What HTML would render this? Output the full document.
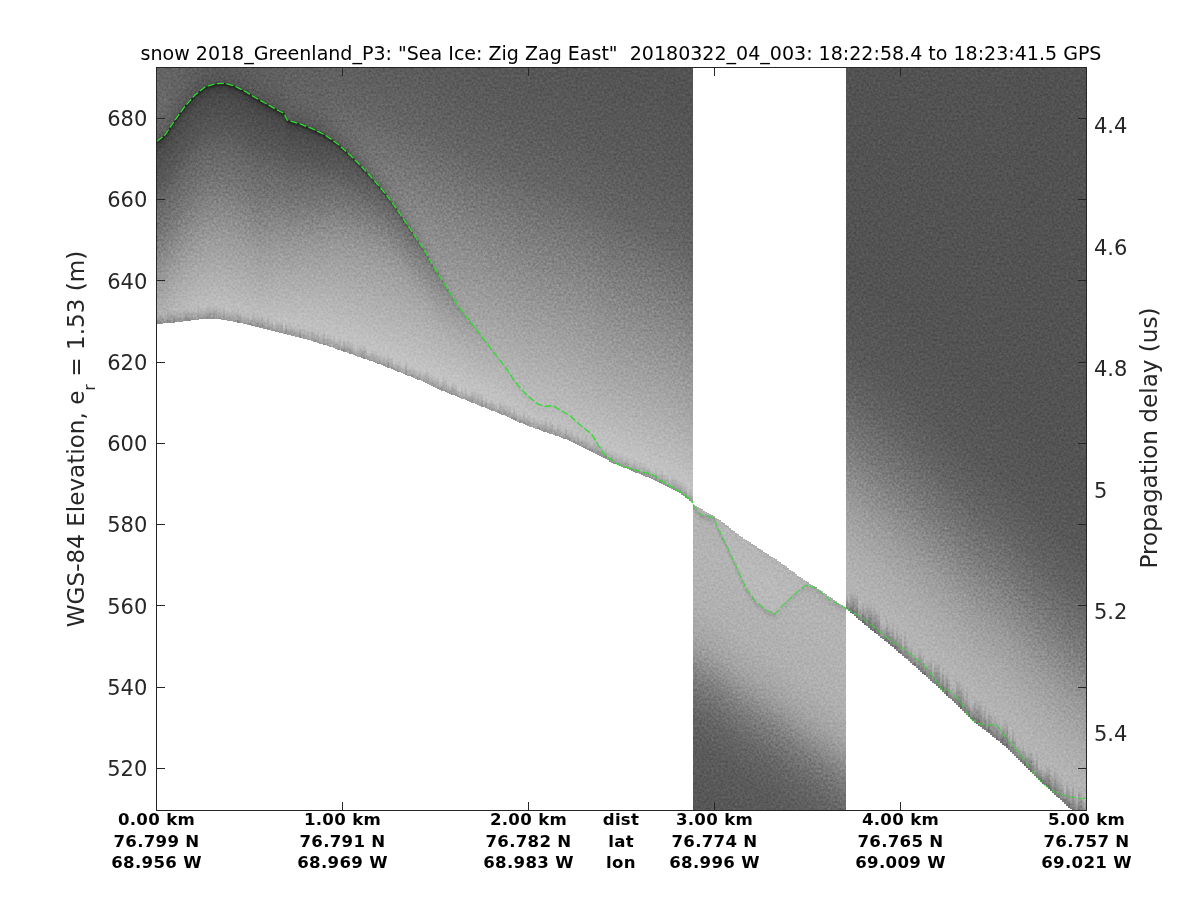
<!DOCTYPE html><html><head><meta charset="utf-8"><title>echogram</title>
<style>html,body{margin:0;padding:0;background:#fff}#p{position:relative;width:1200px;height:900px;overflow:hidden;background:#fff}#p i{position:absolute;display:block;width:2px}svg{position:absolute;left:0;top:0}text{font-family:"DejaVu Sans","Liberation Sans",sans-serif}</style></head><body><div id="p">
<i style="left:157px;top:68px;height:256px;background:linear-gradient(#636363 0.5px,#696969 24.5px,#696969 44.5px,#606060 64.5px,#595959 70.5px,#484848 72.5px,#262626 73.5px,#2c2c2c 74.5px,#373737 75.5px,#424242 77.5px,#4c4c4c 85.5px,#5a5a5a 117.5px,#6b6b6b 142.5px,#777 166.5px,#aeaeae 240.5px,#b0b0b0 245.5px,#adadad 247.5px,#9d9d9d 251.5px,#888 255.5px)"></i><i style="left:159px;top:68px;height:256px;background:linear-gradient(#636363 0.5px,#696969 26.5px,#696969 40.5px,#666 51.5px,#5d5d5d 66.5px,#5a5a5a 68.5px,#555 69.5px,#4c4c4c 70.5px,#262626 71.5px,#282828 72.5px,#3c3c3c 74.5px,#404040 75.5px,#4c4c4c 83.5px,#5b5b5b 117.5px,#696969 137.5px,#787878 166.5px,#aeaeae 239.5px,#b0b0b0 244.5px,#adadad 246.5px,#9a9a9a 251.5px,#878787 255.5px)"></i><i style="left:161px;top:68px;height:256px;background:linear-gradient(#636363 0.5px,#696969 36.5px,#666 49.5px,#5e5e5e 63.5px,#585858 67.5px,#505050 68.5px,#282828 69.5px,#262626 70.5px,#3f3f3f 73.5px,#454545 76.5px,#4c4c4c 82.5px,#5a5a5a 114.5px,#686868 134.5px,#787878 165.5px,#a6a6a6 225.5px,#b0b0b0 241.5px,#aeaeae 244.5px,#a8a8a8 247.5px,#919191 255.5px)"></i><i style="left:163px;top:68px;height:255px;background:linear-gradient(#636363 0.5px,#686868 22.5px,#686868 39.5px,#5e5e5e 61.5px,#5b5b5b 64.5px,#545454 66.5px,#4a4a4a 67.5px,#262626 68.5px,#2a2a2a 69.5px,#3c3c3c 71.5px,#414141 72.5px,#4c4c4c 80.5px,#5b5b5b 114.5px,#696969 134.5px,#787878 163.5px,#afafaf 238.5px,#b2b2b2 247.5px,#aaa 249.5px,#898989 254.5px)"></i><i style="left:165px;top:68px;height:255px;background:linear-gradient(#636363 0.5px,#686868 32.5px,#666 43.5px,#5d5d5d 60.5px,#5b5b5b 62.5px,#585858 63.5px,#515151 64.5px,#292929 65.5px,#262626 66.5px,#2c2c2c 67.5px,#373737 68.5px,#3e3e3e 69.5px,#434343 71.5px,#4c4c4c 78.5px,#5b5b5b 112.5px,#696969 132.5px,#787878 161.5px,#9e9e9e 211.5px,#b0b0b0 238.5px,#b2b2b2 245.5px,#a7a7a7 249.5px,#929292 254.5px)"></i><i style="left:167px;top:68px;height:255px;background:linear-gradient(#636363 0.5px,#676767 32.5px,#5e5e5e 55.5px,#585858 60.5px,#515151 61.5px,#292929 62.5px,#262626 63.5px,#2c2c2c 64.5px,#373737 65.5px,#3e3e3e 66.5px,#434343 68.5px,#4c4c4c 75.5px,#5a5a5a 108.5px,#676767 126.5px,#777 157.5px,#9f9f9f 210.5px,#b0b0b0 236.5px,#afafaf 241.5px,#9f9f9f 248.5px,#8d8d8d 254.5px)"></i><i style="left:169px;top:68px;height:255px;background:linear-gradient(#636363 0.5px,#666 31.5px,#636363 42.5px,#5a5a5a 56.5px,#515151 58.5px,#292929 59.5px,#262626 60.5px,#2c2c2c 61.5px,#373737 62.5px,#3e3e3e 63.5px,#434343 65.5px,#4b4b4b 71.5px,#5a5a5a 105.5px,#686868 125.5px,#787878 156.5px,#a0a0a0 209.5px,#b3b3b3 239.5px,#b2b2b2 241.5px,#a7a7a7 246.5px,#8d8d8d 254.5px)"></i><i style="left:171px;top:68px;height:255px;background:linear-gradient(#626262 0.5px,#656565 30.5px,#626262 40.5px,#5a5a5a 53.5px,#575757 54.5px,#505050 55.5px,#292929 56.5px,#252525 57.5px,#3e3e3e 60.5px,#434343 62.5px,#4b4b4b 68.5px,#5a5a5a 102.5px,#686868 122.5px,#767676 150.5px,#a1a1a1 208.5px,#b3b3b3 237.5px,#b5b5b5 241.5px,#b1b1b1 244.5px,#949494 254.5px)"></i><i style="left:173px;top:68px;height:255px;background:linear-gradient(#626262 0.5px,#646464 28.5px,#616161 38.5px,#595959 50.5px,#575757 51.5px,#505050 52.5px,#292929 53.5px,#252525 54.5px,#3e3e3e 57.5px,#434343 59.5px,#4b4b4b 65.5px,#595959 98.5px,#676767 118.5px,#777 149.5px,#9f9f9f 203.5px,#b6b6b6 241.5px,#b2b2b2 243.5px,#a5a5a5 247.5px,#868686 254.5px)"></i><i style="left:175px;top:68px;height:254px;background:linear-gradient(#626262 0.5px,#636363 27.5px,#595959 47.5px,#575757 48.5px,#515151 49.5px,#474747 50.5px,#252525 51.5px,#2a2a2a 52.5px,#3d3d3d 54.5px,#414141 55.5px,#4b4b4b 63.5px,#5a5a5a 97.5px,#686868 117.5px,#767676 145.5px,#a2a2a2 205.5px,#b4b4b4 235.5px,#b7b7b7 241.5px,#b5b5b5 243.5px,#a8a8a8 247.5px,#8d8d8d 253.5px)"></i><i style="left:177px;top:68px;height:254px;background:linear-gradient(#626262 0.5px,#626262 26.5px,#595959 44.5px,#525252 46.5px,#494949 47.5px,#252525 48.5px,#282828 49.5px,#3b3b3b 51.5px,#404040 52.5px,#4b4b4b 60.5px,#5a5a5a 94.5px,#676767 113.5px,#777 144.5px,#a2a2a2 203.5px,#b5b5b5 235.5px,#b7b7b7 241.5px,#b4b4b4 243.5px,#999 253.5px)"></i><i style="left:179px;top:68px;height:254px;background:linear-gradient(#616161 0.5px,#626262 21.5px,#595959 41.5px,#545454 43.5px,#4c4c4c 44.5px,#262626 45.5px,#262626 46.5px,#393939 48.5px,#3f3f3f 49.5px,#4b4b4b 58.5px,#595959 90.5px,#686868 112.5px,#767676 140.5px,#a0a0a0 198.5px,#b7b7b7 237.5px,#b8b8b8 239.5px,#b1b1b1 243.5px,#a5a5a5 247.5px,#8e8e8e 253.5px)"></i><i style="left:181px;top:68px;height:254px;background:linear-gradient(#616161 0.5px,#616161 20.5px,#585858 39.5px,#555 40.5px,#4e4e4e 41.5px,#282828 42.5px,#252525 43.5px,#3e3e3e 46.5px,#444 49.5px,#4b4b4b 55.5px,#585858 86.5px,#676767 108.5px,#757575 136.5px,#a0a0a0 196.5px,#b9b9b9 239.5px,#b8b8b8 244.5px,#a9a9a9 249.5px,#999 253.5px)"></i><i style="left:183px;top:68px;height:253px;background:linear-gradient(#616161 0.5px,#606060 19.5px,#585858 36.5px,#565656 37.5px,#505050 38.5px,#464646 39.5px,#252525 40.5px,#2a2a2a 41.5px,#3c3c3c 43.5px,#404040 44.5px,#4a4a4a 51.5px,#595959 85.5px,#666 104.5px,#767676 135.5px,#a0a0a0 194.5px,#b6b6b6 232.5px,#b8b8b8 239.5px,#adadad 244.5px,#939393 252.5px)"></i><i style="left:185px;top:68px;height:253px;background:linear-gradient(#606060 0.5px,#5e5e5e 22.5px,#575757 34.5px,#535353 35.5px,#4b4b4b 36.5px,#262626 37.5px,#262626 38.5px,#393939 40.5px,#3e3e3e 41.5px,#4a4a4a 49.5px,#595959 83.5px,#656565 100.5px,#767676 133.5px,#a1a1a1 194.5px,#bababa 238.5px,#b6b6b6 241.5px,#adadad 244.5px,#8b8b8b 252.5px)"></i><i style="left:187px;top:68px;height:253px;background:linear-gradient(#606060 0.5px,#5e5e5e 18.5px,#565656 32.5px,#515151 33.5px,#484848 34.5px,#252525 35.5px,#272727 36.5px,#3a3a3a 38.5px,#3f3f3f 39.5px,#4a4a4a 47.5px,#595959 81.5px,#656565 98.5px,#767676 131.5px,#a2a2a2 194.5px,#bababa 237.5px,#bababa 239.5px,#b3b3b3 242.5px,#989898 249.5px,#8a8a8a 252.5px)"></i><i style="left:189px;top:68px;height:253px;background:linear-gradient(#5f5f5f 0.5px,#5d5d5d 18.5px,#575757 29.5px,#555 30.5px,#4f4f4f 31.5px,#454545 32.5px,#252525 33.5px,#2a2a2a 34.5px,#3c3c3c 36.5px,#404040 37.5px,#4a4a4a 45.5px,#595959 79.5px,#656565 96.5px,#737373 124.5px,#9e9e9e 186.5px,#bbb 238.5px,#bcbcbc 241.5px,#b3b3b3 244.5px,#a6a6a6 247.5px,#8b8b8b 252.5px)"></i><i style="left:191px;top:68px;height:252px;background:linear-gradient(#5f5f5f 0.5px,#5d5d5d 14.5px,#565656 27.5px,#535353 28.5px,#4c4c4c 29.5px,#272727 30.5px,#252525 31.5px,#3d3d3d 34.5px,#424242 36.5px,#4a4a4a 43.5px,#595959 77.5px,#656565 94.5px,#747474 124.5px,#9f9f9f 186.5px,#bcbcbc 239.5px,#bbb 241.5px,#b8b8b8 242.5px,#a3a3a3 247.5px,#8d8d8d 251.5px)"></i><i style="left:193px;top:68px;height:252px;background:linear-gradient(#5e5e5e 0.5px,#5d5d5d 10.5px,#575757 24.5px,#525252 26.5px,#4a4a4a 27.5px,#262626 28.5px,#262626 29.5px,#383838 31.5px,#3e3e3e 32.5px,#454545 36.5px,#4a4a4a 41.5px,#595959 75.5px,#656565 92.5px,#757575 124.5px,#9e9e9e 183.5px,#b5b5b5 224.5px,#bbb 237.5px,#b1b1b1 243.5px,#9b9b9b 251.5px)"></i><i style="left:195px;top:68px;height:252px;background:linear-gradient(#5d5d5d 0.5px,#5a5a5a 16.5px,#555 23.5px,#525252 24.5px,#4a4a4a 25.5px,#262626 26.5px,#252525 27.5px,#383838 29.5px,#3e3e3e 30.5px,#4a4a4a 39.5px,#575757 70.5px,#666 92.5px,#757575 122.5px,#9d9d9d 180.5px,#b5b5b5 223.5px,#bdbdbd 242.5px,#b9b9b9 244.5px,#adadad 247.5px,#999 251.5px)"></i><i style="left:197px;top:68px;height:252px;background:linear-gradient(#5d5d5d 0.5px,#5c5c5c 8.5px,#565656 21.5px,#4e4e4e 23.5px,#444 24.5px,#242424 25.5px,#2a2a2a 26.5px,#3c3c3c 28.5px,#414141 30.5px,#494949 36.5px,#585858 70.5px,#656565 89.5px,#747474 119.5px,#9d9d9d 179.5px,#bbb 234.5px,#bababa 237.5px,#b2b2b2 241.5px,#939393 251.5px)"></i><i style="left:199px;top:68px;height:251px;background:linear-gradient(#5c5c5c 0.5px,#5b5b5b 9.5px,#575757 18.5px,#545454 20.5px,#505050 21.5px,#484848 22.5px,#252525 23.5px,#262626 24.5px,#393939 26.5px,#3e3e3e 27.5px,#494949 35.5px,#575757 67.5px,#646464 86.5px,#737373 116.5px,#9a9a9a 173.5px,#b7b7b7 225.5px,#bdbdbd 238.5px,#b7b7b7 241.5px,#a8a8a8 246.5px,#999 250.5px)"></i><i style="left:201px;top:68px;height:251px;background:linear-gradient(#5c5c5c 0.5px,#595959 12.5px,#555 18.5px,#525252 19.5px,#4b4b4b 20.5px,#272727 21.5px,#242424 22.5px,#3d3d3d 25.5px,#494949 33.5px,#575757 66.5px,#666 88.5px,#757575 118.5px,#9a9a9a 172.5px,#bababa 230.5px,#bdbdbd 239.5px,#b3b3b3 243.5px,#979797 250.5px)"></i><i style="left:203px;top:68px;height:251px;background:linear-gradient(#5b5b5b 0.5px,#585858 12.5px,#535353 17.5px,#4e4e4e 18.5px,#454545 19.5px,#242424 20.5px,#282828 21.5px,#3a3a3a 23.5px,#3f3f3f 24.5px,#494949 32.5px,#585858 66.5px,#656565 85.5px,#747474 115.5px,#9c9c9c 174.5px,#bdbdbd 236.5px,#bebebe 240.5px,#b1b1b1 244.5px,#949494 250.5px)"></i><i style="left:205px;top:68px;height:251px;background:linear-gradient(#5b5b5b 0.5px,#595959 8.5px,#535353 16.5px,#444 18.5px,#242424 19.5px,#292929 20.5px,#3b3b3b 22.5px,#3f3f3f 23.5px,#494949 31.5px,#585858 65.5px,#656565 84.5px,#747474 114.5px,#9d9d9d 175.5px,#bdbdbd 235.5px,#bdbdbd 238.5px,#b9b9b9 240.5px,#aaa 244.5px,#8d8d8d 250.5px)"></i><i style="left:207px;top:68px;height:251px;background:linear-gradient(#5a5a5a 0.5px,#595959 7.5px,#545454 15.5px,#505050 16.5px,#474747 17.5px,#252525 18.5px,#262626 19.5px,#393939 21.5px,#3e3e3e 22.5px,#494949 30.5px,#575757 63.5px,#666 85.5px,#737373 112.5px,#9c9c9c 173.5px,#bebebe 237.5px,#acacac 243.5px,#8c8c8c 250.5px)"></i><i style="left:209px;top:68px;height:251px;background:linear-gradient(#5a5a5a 0.5px,#565656 12.5px,#525252 15.5px,#4b4b4b 16.5px,#272727 17.5px,#242424 18.5px,#2b2b2b 19.5px,#363636 20.5px,#3c3c3c 21.5px,#444 25.5px,#494949 30.5px,#585858 64.5px,#656565 83.5px,#747474 113.5px,#9e9e9e 176.5px,#bdbdbd 235.5px,#bbb 237.5px,#acacac 242.5px,#8a8a8a 250.5px)"></i><i style="left:211px;top:68px;height:251px;background:linear-gradient(#5a5a5a 0.5px,#575757 10.5px,#535353 14.5px,#4e4e4e 15.5px,#444 16.5px,#242424 17.5px,#282828 18.5px,#3b3b3b 20.5px,#3f3f3f 21.5px,#494949 29.5px,#575757 62.5px,#666 84.5px,#737373 111.5px,#9c9c9c 172.5px,#bababa 228.5px,#bebebe 237.5px,#b1b1b1 243.5px,#9a9a9a 250.5px)"></i><i style="left:213px;top:68px;height:251px;background:linear-gradient(#5a5a5a 0.5px,#545454 13.5px,#505050 14.5px,#484848 15.5px,#252525 16.5px,#252525 17.5px,#383838 19.5px,#3d3d3d 20.5px,#484848 27.5px,#585858 63.5px,#656565 82.5px,#747474 112.5px,#9b9b9b 170.5px,#bdbdbd 234.5px,#bdbdbd 236.5px,#b3b3b3 240.5px,#a5a5a5 244.5px,#8b8b8b 250.5px)"></i><i style="left:215px;top:68px;height:251px;background:linear-gradient(#595959 0.5px,#585858 6.5px,#535353 13.5px,#444 15.5px,#242424 16.5px,#282828 17.5px,#3a3a3a 19.5px,#3f3f3f 20.5px,#494949 28.5px,#575757 61.5px,#646464 80.5px,#747474 112.5px,#9b9b9b 170.5px,#bdbdbd 234.5px,#bdbdbd 236.5px,#b2b2b2 241.5px,#939393 250.5px)"></i><i style="left:217px;top:68px;height:251px;background:linear-gradient(#595959 0.5px,#565656 10.5px,#525252 13.5px,#4d4d4d 14.5px,#434343 15.5px,#242424 16.5px,#292929 17.5px,#3b3b3b 19.5px,#3f3f3f 20.5px,#494949 28.5px,#575757 61.5px,#646464 80.5px,#737373 110.5px,#9b9b9b 170.5px,#b9b9b9 226.5px,#bebebe 236.5px,#bdbdbd 238.5px,#b2b2b2 243.5px,#9b9b9b 250.5px)"></i><i style="left:219px;top:68px;height:251px;background:linear-gradient(#595959 0.5px,#565656 10.5px,#525252 13.5px,#4c4c4c 14.5px,#424242 15.5px,#242424 16.5px,#2a2a2a 17.5px,#3c3c3c 19.5px,#414141 21.5px,#494949 28.5px,#575757 61.5px,#646464 80.5px,#737373 110.5px,#9b9b9b 170.5px,#bdbdbd 235.5px,#bdbdbd 237.5px,#b7b7b7 240.5px,#a8a8a8 245.5px,#959595 250.5px)"></i><i style="left:221px;top:68px;height:252px;background:linear-gradient(#595959 0.5px,#565656 10.5px,#515151 13.5px,#4b4b4b 14.5px,#272727 15.5px,#242424 16.5px,#3c3c3c 19.5px,#414141 21.5px,#494949 28.5px,#575757 61.5px,#676767 85.5px,#737373 110.5px,#989898 165.5px,#adadad 203.5px,#bebebe 237.5px,#bebebe 241.5px,#b1b1b1 246.5px,#9c9c9c 251.5px)"></i><i style="left:223px;top:68px;height:252px;background:linear-gradient(#595959 0.5px,#555 11.5px,#515151 13.5px,#4a4a4a 14.5px,#262626 15.5px,#242424 16.5px,#363636 18.5px,#3c3c3c 19.5px,#414141 21.5px,#494949 28.5px,#565656 59.5px,#676767 85.5px,#737373 110.5px,#9b9b9b 170.5px,#bdbdbd 235.5px,#bcbcbc 238.5px,#b0b0b0 242.5px,#8b8b8b 251.5px)"></i><i style="left:225px;top:68px;height:252px;background:linear-gradient(#595959 0.5px,#565656 10.5px,#525252 13.5px,#434343 15.5px,#242424 16.5px,#292929 17.5px,#343434 18.5px,#3b3b3b 19.5px,#3f3f3f 20.5px,#494949 28.5px,#575757 61.5px,#646464 80.5px,#747474 112.5px,#9c9c9c 172.5px,#bebebe 237.5px,#bfbfbf 243.5px,#bcbcbc 244.5px,#adadad 247.5px,#929292 251.5px)"></i><i style="left:227px;top:68px;height:253px;background:linear-gradient(#595959 0.5px,#545454 13.5px,#494949 15.5px,#252525 16.5px,#252525 17.5px,#373737 19.5px,#3d3d3d 20.5px,#444 24.5px,#494949 29.5px,#565656 60.5px,#666 84.5px,#737373 111.5px,#9a9a9a 169.5px,#bebebe 238.5px,#bebebe 241.5px,#b8b8b8 244.5px,#9a9a9a 252.5px)"></i><i style="left:229px;top:68px;height:253px;background:linear-gradient(#5a5a5a 0.5px,#535353 14.5px,#4e4e4e 15.5px,#454545 16.5px,#242424 17.5px,#272727 18.5px,#3a3a3a 20.5px,#3e3e3e 21.5px,#484848 28.5px,#575757 62.5px,#646464 81.5px,#747474 113.5px,#9c9c9c 173.5px,#bebebe 238.5px,#bfbfbf 242.5px,#bdbdbd 243.5px,#b1b1b1 246.5px,#909090 252.5px)"></i><i style="left:231px;top:68px;height:253px;background:linear-gradient(#5a5a5a 0.5px,#545454 14.5px,#515151 15.5px,#4a4a4a 16.5px,#272727 17.5px,#242424 18.5px,#2b2b2b 19.5px,#363636 20.5px,#3c3c3c 21.5px,#414141 23.5px,#494949 30.5px,#565656 61.5px,#676767 87.5px,#737373 112.5px,#959595 162.5px,#ababab 201.5px,#bdbdbd 239.5px,#b4b4b4 244.5px,#9f9f9f 252.5px)"></i><i style="left:233px;top:68px;height:254px;background:linear-gradient(#5a5a5a 0.5px,#585858 8.5px,#535353 15.5px,#4f4f4f 16.5px,#474747 17.5px,#252525 18.5px,#262626 19.5px,#393939 21.5px,#3e3e3e 22.5px,#484848 29.5px,#585858 65.5px,#656565 84.5px,#747474 114.5px,#999 169.5px,#b0b0b0 211.5px,#bebebe 241.5px,#b3b3b3 246.5px,#9d9d9d 253.5px)"></i><i style="left:235px;top:68px;height:254px;background:linear-gradient(#5a5a5a 0.5px,#585858 9.5px,#535353 16.5px,#4e4e4e 17.5px,#454545 18.5px,#242424 19.5px,#272727 20.5px,#3a3a3a 22.5px,#3e3e3e 23.5px,#494949 31.5px,#575757 64.5px,#646464 83.5px,#747474 115.5px,#9b9b9b 173.5px,#b9b9b9 229.5px,#bebebe 239.5px,#bdbdbd 241.5px,#b6b6b6 244.5px,#999 253.5px)"></i><i style="left:237px;top:68px;height:255px;background:linear-gradient(#5b5b5b 0.5px,#585858 10.5px,#535353 17.5px,#4e4e4e 18.5px,#454545 19.5px,#242424 20.5px,#272727 21.5px,#3a3a3a 23.5px,#3e3e3e 24.5px,#494949 32.5px,#575757 65.5px,#646464 84.5px,#737373 114.5px,#9a9a9a 172.5px,#bdbdbd 238.5px,#bcbcbc 240.5px,#b2b2b2 244.5px,#979797 251.5px,#898989 254.5px)"></i><i style="left:239px;top:68px;height:255px;background:linear-gradient(#5b5b5b 0.5px,#575757 14.5px,#535353 18.5px,#4e4e4e 19.5px,#454545 20.5px,#242424 21.5px,#282828 22.5px,#3a3a3a 24.5px,#3f3f3f 25.5px,#494949 33.5px,#575757 66.5px,#676767 90.5px,#737373 115.5px,#9d9d9d 178.5px,#bebebe 241.5px,#bdbdbd 243.5px,#b7b7b7 245.5px,#ababab 248.5px,#8b8b8b 254.5px)"></i><i style="left:241px;top:68px;height:255px;background:linear-gradient(#5b5b5b 0.5px,#585858 13.5px,#535353 19.5px,#4e4e4e 20.5px,#454545 21.5px,#242424 22.5px,#282828 23.5px,#3a3a3a 25.5px,#3f3f3f 26.5px,#494949 34.5px,#595959 70.5px,#666 89.5px,#727272 114.5px,#999 172.5px,#acacac 206.5px,#bebebe 244.5px,#b6b6b6 248.5px,#9f9f9f 254.5px)"></i><i style="left:243px;top:68px;height:256px;background:linear-gradient(#5c5c5c 0.5px,#585858 14.5px,#535353 20.5px,#4e4e4e 21.5px,#454545 22.5px,#242424 23.5px,#282828 24.5px,#3a3a3a 26.5px,#3f3f3f 27.5px,#494949 35.5px,#585858 69.5px,#656565 88.5px,#757575 120.5px,#9b9b9b 176.5px,#b2b2b2 218.5px,#bebebe 242.5px,#bcbcbc 244.5px,#b3b3b3 248.5px,#9d9d9d 255.5px)"></i><i style="left:245px;top:68px;height:256px;background:linear-gradient(#5c5c5c 0.5px,#595959 13.5px,#545454 21.5px,#4f4f4f 22.5px,#464646 23.5px,#242424 24.5px,#272727 25.5px,#3a3a3a 27.5px,#3e3e3e 28.5px,#494949 36.5px,#585858 70.5px,#656565 89.5px,#757575 121.5px,#989898 172.5px,#bcbcbc 238.5px,#bebebe 243.5px,#bcbcbc 247.5px,#adadad 251.5px,#989898 255.5px)"></i><i style="left:247px;top:68px;height:257px;background:linear-gradient(#5c5c5c 0.5px,#595959 15.5px,#545454 22.5px,#515151 23.5px,#494949 24.5px,#252525 25.5px,#252525 26.5px,#383838 28.5px,#3e3e3e 29.5px,#494949 37.5px,#575757 70.5px,#666 92.5px,#757575 122.5px,#9d9d9d 181.5px,#b7b7b7 229.5px,#bdbdbd 244.5px,#b4b4b4 248.5px,#999 256.5px)"></i><i style="left:249px;top:68px;height:257px;background:linear-gradient(#5d5d5d 0.5px,#555 23.5px,#525252 24.5px,#4b4b4b 25.5px,#272727 26.5px,#242424 27.5px,#3d3d3d 30.5px,#494949 38.5px,#575757 71.5px,#666 93.5px,#757575 123.5px,#9d9d9d 182.5px,#bdbdbd 242.5px,#bebebe 248.5px,#bbb 249.5px,#b2b2b2 251.5px,#8f8f8f 256.5px)"></i><i style="left:251px;top:68px;height:258px;background:linear-gradient(#5d5d5d 0.5px,#595959 18.5px,#535353 25.5px,#444 27.5px,#242424 28.5px,#292929 29.5px,#343434 30.5px,#3b3b3b 31.5px,#3f3f3f 32.5px,#4a4a4a 41.5px,#575757 72.5px,#676767 96.5px,#737373 121.5px,#9d9d9d 183.5px,#bdbdbd 243.5px,#bdbdbd 247.5px,#b6b6b6 249.5px,#9c9c9c 254.5px,#898989 257.5px)"></i><i style="left:253px;top:68px;height:258px;background:linear-gradient(#5d5d5d 0.5px,#5b5b5b 14.5px,#565656 25.5px,#4f4f4f 27.5px,#464646 28.5px,#242424 29.5px,#272727 30.5px,#3a3a3a 32.5px,#3f3f3f 33.5px,#494949 41.5px,#575757 73.5px,#686868 99.5px,#747474 124.5px,#9d9d9d 184.5px,#bbb 239.5px,#bcbcbc 243.5px,#b7b7b7 246.5px,#aaa 251.5px,#969696 257.5px)"></i><i style="left:255px;top:68px;height:259px;background:linear-gradient(#5e5e5e 0.5px,#5c5c5c 12.5px,#555 27.5px,#515151 28.5px,#484848 29.5px,#252525 30.5px,#262626 31.5px,#393939 33.5px,#3e3e3e 34.5px,#494949 42.5px,#585858 76.5px,#646464 93.5px,#747474 125.5px,#9d9d9d 185.5px,#bdbdbd 244.5px,#bcbcbc 247.5px,#b4b4b4 250.5px,#929292 258.5px)"></i><i style="left:257px;top:68px;height:259px;background:linear-gradient(#5e5e5e 0.5px,#5b5b5b 17.5px,#555 28.5px,#515151 29.5px,#494949 30.5px,#262626 31.5px,#252525 32.5px,#383838 34.5px,#3e3e3e 35.5px,#494949 43.5px,#585858 77.5px,#646464 94.5px,#747474 126.5px,#9f9f9f 189.5px,#bdbdbd 245.5px,#b5b5b5 249.5px,#ababab 252.5px,#929292 258.5px)"></i><i style="left:259px;top:68px;height:260px;background:linear-gradient(#5e5e5e 0.5px,#5c5c5c 15.5px,#555 29.5px,#525252 30.5px,#4a4a4a 31.5px,#262626 32.5px,#252525 33.5px,#373737 35.5px,#3d3d3d 36.5px,#424242 38.5px,#494949 44.5px,#585858 78.5px,#646464 95.5px,#747474 127.5px,#9c9c9c 185.5px,#bdbdbd 246.5px,#bababa 248.5px,#aeaeae 252.5px,#8f8f8f 259.5px)"></i><i style="left:261px;top:68px;height:260px;background:linear-gradient(#5e5e5e 0.5px,#5c5c5c 17.5px,#575757 29.5px,#525252 31.5px,#4b4b4b 32.5px,#272727 33.5px,#252525 34.5px,#2c2c2c 35.5px,#373737 36.5px,#3d3d3d 37.5px,#424242 39.5px,#4a4a4a 46.5px,#595959 80.5px,#656565 97.5px,#737373 125.5px,#9b9b9b 183.5px,#bcbcbc 243.5px,#b6b6b6 248.5px,#a2a2a2 255.5px,#949494 259.5px)"></i><i style="left:263px;top:68px;height:261px;background:linear-gradient(#5f5f5f 0.5px,#5c5c5c 19.5px,#565656 31.5px,#535353 32.5px,#4c4c4c 33.5px,#272727 34.5px,#242424 35.5px,#3d3d3d 38.5px,#424242 40.5px,#4a4a4a 47.5px,#585858 79.5px,#666 99.5px,#747474 127.5px,#9d9d9d 186.5px,#bdbdbd 245.5px,#bebebe 248.5px,#b8b8b8 251.5px,#a3a3a3 256.5px,#8e8e8e 260.5px)"></i><i style="left:265px;top:68px;height:261px;background:linear-gradient(#5f5f5f 0.5px,#5c5c5c 21.5px,#565656 32.5px,#545454 33.5px,#4e4e4e 34.5px,#444 35.5px,#242424 36.5px,#2a2a2a 37.5px,#353535 38.5px,#404040 40.5px,#4a4a4a 48.5px,#575757 78.5px,#676767 101.5px,#747474 127.5px,#9c9c9c 184.5px,#b5b5b5 229.5px,#bebebe 247.5px,#bebebe 251.5px,#adadad 256.5px,#999 260.5px)"></i><i style="left:267px;top:68px;height:262px;background:linear-gradient(#5f5f5f 0.5px,#5c5c5c 23.5px,#565656 33.5px,#4f4f4f 35.5px,#464646 36.5px,#242424 37.5px,#292929 38.5px,#3b3b3b 40.5px,#404040 41.5px,#4a4a4a 49.5px,#585858 80.5px,#656565 98.5px,#747474 127.5px,#9b9b9b 182.5px,#bdbdbd 245.5px,#bdbdbd 246.5px,#b0b0b0 252.5px,#939393 261.5px)"></i><i style="left:269px;top:68px;height:262px;background:linear-gradient(#5f5f5f 0.5px,#5d5d5d 22.5px,#575757 34.5px,#505050 36.5px,#474747 37.5px,#252525 38.5px,#272727 39.5px,#3a3a3a 41.5px,#3f3f3f 42.5px,#4a4a4a 50.5px,#575757 79.5px,#666 100.5px,#747474 127.5px,#8d8d8d 161.5px,#aaa 208.5px,#bfbfbf 249.5px,#b5b5b5 254.5px,#9f9f9f 261.5px)"></i><i style="left:271px;top:68px;height:263px;background:linear-gradient(#606060 0.5px,#5e5e5e 20.5px,#575757 35.5px,#515151 37.5px,#494949 38.5px,#252525 39.5px,#262626 40.5px,#393939 42.5px,#3f3f3f 43.5px,#4a4a4a 51.5px,#585858 81.5px,#656565 99.5px,#747474 127.5px,#9a9a9a 180.5px,#bfbfbf 248.5px,#bfbfbf 251.5px,#b6b6b6 254.5px,#a6a6a6 258.5px,#929292 262.5px)"></i><i style="left:273px;top:68px;height:263px;background:linear-gradient(#606060 0.5px,#5e5e5e 22.5px,#565656 37.5px,#4b4b4b 39.5px,#262626 40.5px,#262626 41.5px,#383838 43.5px,#3e3e3e 44.5px,#434343 46.5px,#4a4a4a 52.5px,#585858 82.5px,#666 101.5px,#767676 130.5px,#9c9c9c 183.5px,#b8b8b8 234.5px,#c0c0c0 254.5px,#bebebe 255.5px,#b0b0b0 258.5px,#959595 262.5px)"></i><i style="left:275px;top:68px;height:264px;background:linear-gradient(#606060 0.5px,#5e5e5e 24.5px,#565656 38.5px,#535353 39.5px,#4c4c4c 40.5px,#272727 41.5px,#252525 42.5px,#3e3e3e 45.5px,#434343 47.5px,#4a4a4a 53.5px,#575757 81.5px,#676767 103.5px,#767676 130.5px,#999 178.5px,#adadad 213.5px,#bfbfbf 250.5px,#b3b3b3 256.5px,#9d9d9d 263.5px)"></i><i style="left:277px;top:68px;height:264px;background:linear-gradient(#606060 0.5px,#5f5f5f 22.5px,#585858 38.5px,#535353 40.5px,#4c4c4c 41.5px,#272727 42.5px,#252525 43.5px,#3e3e3e 46.5px,#434343 48.5px,#4a4a4a 54.5px,#585858 83.5px,#656565 100.5px,#757575 129.5px,#9b9b9b 181.5px,#b4b4b4 226.5px,#bfbfbf 251.5px,#b2b2b2 256.5px,#979797 263.5px)"></i><i style="left:279px;top:68px;height:265px;background:linear-gradient(#606060 0.5px,#5f5f5f 24.5px,#575757 40.5px,#545454 41.5px,#4d4d4d 42.5px,#272727 43.5px,#252525 44.5px,#3e3e3e 47.5px,#464646 51.5px,#4b4b4b 56.5px,#575757 82.5px,#666 102.5px,#757575 129.5px,#9b9b9b 181.5px,#b3b3b3 224.5px,#c0c0c0 250.5px,#b9b9b9 254.5px,#aaa 259.5px,#979797 264.5px)"></i><i style="left:281px;top:68px;height:265px;background:linear-gradient(#606060 0.5px,#5f5f5f 26.5px,#575757 41.5px,#545454 42.5px,#4d4d4d 43.5px,#282828 44.5px,#252525 45.5px,#3e3e3e 48.5px,#494949 54.5px,#585858 84.5px,#676767 104.5px,#737373 126.5px,#9a9a9a 179.5px,#c0c0c0 250.5px,#c0c0c0 251.5px,#b6b6b6 255.5px,#929292 264.5px)"></i><i style="left:283px;top:68px;height:266px;background:linear-gradient(#606060 0.5px,#606060 24.5px,#575757 42.5px,#4e4e4e 44.5px,#282828 45.5px,#252525 46.5px,#2b2b2b 47.5px,#3e3e3e 49.5px,#4a4a4a 56.5px,#575757 83.5px,#686868 106.5px,#747474 128.5px,#929292 167.5px,#aaa 207.5px,#c0c0c0 250.5px,#c1c1c1 256.5px,#bebebe 258.5px,#b2b2b2 261.5px,#9d9d9d 265.5px)"></i><i style="left:285px;top:68px;height:266px;background:linear-gradient(#616161 0.5px,#616161 29.5px,#585858 46.5px,#515151 48.5px,#484848 49.5px,#252525 50.5px,#282828 51.5px,#3c3c3c 53.5px,#404040 54.5px,#4a4a4a 60.5px,#585858 88.5px,#666 106.5px,#747474 131.5px,#9c9c9c 184.5px,#c0c0c0 251.5px,#c0c0c0 252.5px,#b6b6b6 256.5px,#a6a6a6 260.5px,#8d8d8d 265.5px)"></i><i style="left:287px;top:68px;height:267px;background:linear-gradient(#616161 0.5px,#626262 29.5px,#5f5f5f 39.5px,#595959 48.5px,#545454 50.5px,#4d4d4d 51.5px,#272727 52.5px,#262626 53.5px,#3f3f3f 56.5px,#4a4a4a 62.5px,#585858 90.5px,#646464 105.5px,#747474 132.5px,#949494 173.5px,#afafaf 218.5px,#c0c0c0 252.5px,#c0c0c0 256.5px,#bbb 258.5px,#afafaf 261.5px,#959595 266.5px)"></i><i style="left:289px;top:68px;height:267px;background:linear-gradient(#616161 0.5px,#626262 30.5px,#5c5c5c 45.5px,#575757 50.5px,#525252 51.5px,#484848 52.5px,#252525 53.5px,#282828 54.5px,#3c3c3c 56.5px,#414141 57.5px,#4b4b4b 64.5px,#585858 90.5px,#646464 105.5px,#747474 132.5px,#959595 174.5px,#a8a8a8 205.5px,#c0c0c0 254.5px,#b1b1b1 260.5px,#9a9a9a 266.5px)"></i><i style="left:291px;top:68px;height:268px;background:linear-gradient(#616161 0.5px,#626262 32.5px,#5d5d5d 44.5px,#585858 50.5px,#555 51.5px,#4e4e4e 52.5px,#282828 53.5px,#252525 54.5px,#3e3e3e 57.5px,#424242 58.5px,#4a4a4a 63.5px,#585858 90.5px,#646464 105.5px,#747474 132.5px,#969696 175.5px,#acacac 212.5px,#c1c1c1 256.5px,#bababa 259.5px,#989898 267.5px)"></i><i style="left:293px;top:68px;height:268px;background:linear-gradient(#616161 0.5px,#626262 33.5px,#595959 50.5px,#535353 52.5px,#4a4a4a 53.5px,#262626 54.5px,#272727 55.5px,#3b3b3b 57.5px,#404040 58.5px,#484848 62.5px,#4b4b4b 65.5px,#575757 89.5px,#646464 105.5px,#757575 133.5px,#999 179.5px,#b4b4b4 227.5px,#c1c1c1 256.5px,#bebebe 258.5px,#b7b7b7 260.5px,#959595 267.5px)"></i><i style="left:295px;top:68px;height:269px;background:linear-gradient(#616161 0.5px,#626262 34.5px,#5e5e5e 44.5px,#585858 51.5px,#565656 52.5px,#505050 53.5px,#464646 54.5px,#252525 55.5px,#2b2b2b 56.5px,#3e3e3e 58.5px,#444 60.5px,#4a4a4a 64.5px,#585858 91.5px,#646464 105.5px,#737373 130.5px,#959595 173.5px,#aaa 208.5px,#c1c1c1 257.5px,#bbb 260.5px,#979797 268.5px)"></i><i style="left:297px;top:68px;height:269px;background:linear-gradient(#616161 0.5px,#626262 35.5px,#5f5f5f 43.5px,#585858 52.5px,#545454 53.5px,#4c4c4c 54.5px,#272727 55.5px,#262626 56.5px,#393939 58.5px,#404040 59.5px,#484848 63.5px,#4b4b4b 66.5px,#585858 91.5px,#666 108.5px,#737373 130.5px,#969696 174.5px,#a9a9a9 206.5px,#c1c1c1 254.5px,#b9b9b9 259.5px,#9f9f9f 268.5px)"></i><i style="left:299px;top:68px;height:270px;background:linear-gradient(#616161 0.5px,#636363 31.5px,#616161 39.5px,#595959 52.5px,#515151 54.5px,#484848 55.5px,#252525 56.5px,#292929 57.5px,#3d3d3d 59.5px,#414141 60.5px,#4a4a4a 65.5px,#585858 91.5px,#666 108.5px,#737373 130.5px,#9c9c9c 183.5px,#b8b8b8 235.5px,#c1c1c1 254.5px,#c0c0c0 257.5px,#bbb 259.5px,#acacac 263.5px,#8f8f8f 269.5px)"></i><i style="left:301px;top:68px;height:270px;background:linear-gradient(#616161 0.5px,#636363 33.5px,#606060 43.5px,#585858 53.5px,#565656 54.5px,#505050 55.5px,#464646 56.5px,#252525 57.5px,#2b2b2b 58.5px,#3e3e3e 60.5px,#424242 61.5px,#4b4b4b 67.5px,#595959 93.5px,#656565 107.5px,#737373 130.5px,#929292 168.5px,#a4a4a4 197.5px,#c0c0c0 252.5px,#c1c1c1 259.5px,#b3b3b3 264.5px,#9d9d9d 269.5px)"></i><i style="left:303px;top:68px;height:271px;background:linear-gradient(#616161 0.5px,#636363 35.5px,#606060 44.5px,#585858 54.5px,#555 55.5px,#4e4e4e 56.5px,#282828 57.5px,#262626 58.5px,#3f3f3f 61.5px,#484848 65.5px,#4b4b4b 68.5px,#585858 92.5px,#676767 110.5px,#767676 134.5px,#979797 175.5px,#a9a9a9 206.5px,#c1c1c1 256.5px,#b4b4b4 262.5px,#9a9a9a 270.5px)"></i><i style="left:305px;top:68px;height:271px;background:linear-gradient(#616161 0.5px,#636363 36.5px,#5d5d5d 50.5px,#585858 55.5px,#545454 56.5px,#4c4c4c 57.5px,#272727 58.5px,#262626 59.5px,#3a3a3a 61.5px,#404040 62.5px,#4a4a4a 67.5px,#595959 94.5px,#666 109.5px,#767676 134.5px,#959595 172.5px,#a9a9a9 206.5px,#c0c0c0 253.5px,#c1c1c1 261.5px,#c0c0c0 262.5px,#b9b9b9 264.5px,#9a9a9a 270.5px)"></i><i style="left:307px;top:68px;height:272px;background:linear-gradient(#616161 0.5px,#636363 38.5px,#5c5c5c 52.5px,#595959 55.5px,#535353 57.5px,#4a4a4a 58.5px,#262626 59.5px,#282828 60.5px,#3c3c3c 62.5px,#414141 63.5px,#4b4b4b 69.5px,#585858 93.5px,#656565 108.5px,#757575 133.5px,#959595 172.5px,#a0a0a0 190.5px,#b9b9b9 238.5px,#c1c1c1 258.5px,#b7b7b7 263.5px,#9e9e9e 271.5px)"></i><i style="left:309px;top:68px;height:272px;background:linear-gradient(#616161 0.5px,#646464 32.5px,#616161 45.5px,#5c5c5c 53.5px,#575757 57.5px,#515151 58.5px,#484848 59.5px,#252525 60.5px,#292929 61.5px,#3d3d3d 63.5px,#424242 64.5px,#4b4b4b 70.5px,#575757 92.5px,#676767 111.5px,#747474 132.5px,#959595 172.5px,#a0a0a0 190.5px,#b7b7b7 234.5px,#c1c1c1 261.5px,#bbb 264.5px,#9d9d9d 271.5px)"></i><i style="left:311px;top:68px;height:273px;background:linear-gradient(#606060 0.5px,#646464 35.5px,#626262 44.5px,#5c5c5c 54.5px,#595959 57.5px,#505050 59.5px,#464646 60.5px,#252525 61.5px,#2b2b2b 62.5px,#3e3e3e 64.5px,#4a4a4a 69.5px,#585858 94.5px,#666 110.5px,#737373 131.5px,#959595 172.5px,#acacac 212.5px,#c1c1c1 258.5px,#b9b9b9 262.5px,#989898 272.5px)"></i><i style="left:313px;top:68px;height:274px;background:linear-gradient(#606060 0.5px,#646464 38.5px,#5c5c5c 55.5px,#595959 58.5px,#565656 59.5px,#4f4f4f 60.5px,#454545 61.5px,#252525 62.5px,#2c2c2c 63.5px,#3f3f3f 65.5px,#434343 66.5px,#4a4a4a 70.5px,#595959 96.5px,#656565 109.5px,#737373 131.5px,#8f8f8f 164.5px,#a1a1a1 192.5px,#c1c1c1 258.5px,#b9b9b9 263.5px,#9c9c9c 273.5px)"></i><i style="left:315px;top:68px;height:274px;background:linear-gradient(#606060 0.5px,#646464 40.5px,#5d5d5d 55.5px,#565656 60.5px,#454545 62.5px,#252525 63.5px,#2c2c2c 64.5px,#3f3f3f 66.5px,#434343 67.5px,#4b4b4b 72.5px,#575757 94.5px,#666 111.5px,#727272 130.5px,#929292 168.5px,#a7a7a7 203.5px,#bcbcbc 246.5px,#c1c1c1 263.5px,#b9b9b9 266.5px,#969696 273.5px)"></i><i style="left:317px;top:68px;height:275px;background:linear-gradient(#606060 0.5px,#646464 42.5px,#5d5d5d 56.5px,#565656 61.5px,#454545 63.5px,#252525 64.5px,#2c2c2c 65.5px,#3f3f3f 67.5px,#434343 68.5px,#4b4b4b 73.5px,#585858 96.5px,#656565 110.5px,#737373 132.5px,#949494 171.5px,#a9a9a9 207.5px,#c1c1c1 259.5px,#b8b8b8 264.5px,#979797 274.5px)"></i><i style="left:319px;top:68px;height:276px;background:linear-gradient(#606060 0.5px,#646464 44.5px,#5e5e5e 56.5px,#595959 61.5px,#565656 62.5px,#454545 64.5px,#262626 65.5px,#2c2c2c 66.5px,#3f3f3f 68.5px,#434343 69.5px,#4b4b4b 74.5px,#575757 95.5px,#666 112.5px,#737373 132.5px,#8d8d8d 162.5px,#9f9f9f 189.5px,#b9b9b9 240.5px,#c1c1c1 265.5px,#c0c0c0 266.5px,#b3b3b3 270.5px,#9c9c9c 275.5px)"></i><i style="left:321px;top:68px;height:276px;background:linear-gradient(#606060 0.5px,#656565 42.5px,#5c5c5c 60.5px,#595959 62.5px,#505050 64.5px,#454545 65.5px,#262626 66.5px,#2d2d2d 67.5px,#404040 69.5px,#444 70.5px,#4b4b4b 74.5px,#575757 95.5px,#676767 113.5px,#747474 133.5px,#8c8c8c 160.5px,#a1a1a1 192.5px,#b8b8b8 238.5px,#c1c1c1 264.5px,#b0b0b0 270.5px,#9d9d9d 275.5px)"></i><i style="left:323px;top:68px;height:277px;background:linear-gradient(#606060 0.5px,#656565 45.5px,#5f5f5f 58.5px,#5a5a5a 63.5px,#575757 64.5px,#464646 66.5px,#272727 67.5px,#2e2e2e 68.5px,#393939 69.5px,#444 71.5px,#4d4d4d 77.5px,#5b5b5b 100.5px,#646464 109.5px,#737373 131.5px,#949494 170.5px,#b2b2b2 225.5px,#c1c1c1 262.5px,#b4b4b4 267.5px,#8f8f8f 276.5px)"></i><i style="left:325px;top:68px;height:277px;background:linear-gradient(#606060 0.5px,#666 43.5px,#5e5e5e 61.5px,#5b5b5b 64.5px,#525252 66.5px,#484848 67.5px,#272727 68.5px,#2c2c2c 69.5px,#404040 71.5px,#4b4b4b 75.5px,#595959 98.5px,#686868 114.5px,#747474 132.5px,#8c8c8c 159.5px,#9a9a9a 179.5px,#b1b1b1 223.5px,#c2c2c2 263.5px,#c2c2c2 267.5px,#bebebe 269.5px,#b2b2b2 272.5px,#9e9e9e 276.5px)"></i><i style="left:327px;top:68px;height:278px;background:linear-gradient(#606060 0.5px,#666 48.5px,#5e5e5e 63.5px,#5c5c5c 65.5px,#565656 67.5px,#4d4d4d 68.5px,#282828 69.5px,#292929 70.5px,#3e3e3e 72.5px,#444 73.5px,#4d4d4d 78.5px,#595959 98.5px,#686868 114.5px,#747474 132.5px,#939393 168.5px,#a5a5a5 199.5px,#c1c1c1 263.5px,#bcbcbc 266.5px,#b3b3b3 269.5px,#949494 277.5px)"></i><i style="left:329px;top:68px;height:279px;background:linear-gradient(#606060 0.5px,#666 36.5px,#666 51.5px,#626262 60.5px,#5d5d5d 66.5px,#585858 68.5px,#474747 70.5px,#282828 71.5px,#2f2f2f 72.5px,#424242 74.5px,#4c4c4c 78.5px,#5a5a5a 100.5px,#676767 113.5px,#747474 132.5px,#919191 165.5px,#9d9d9d 184.5px,#b3b3b3 228.5px,#c1c1c1 264.5px,#b7b7b7 269.5px,#999 278.5px)"></i><i style="left:331px;top:68px;height:279px;background:linear-gradient(#606060 0.5px,#676767 41.5px,#676767 50.5px,#626262 62.5px,#5c5c5c 68.5px,#555 70.5px,#4c4c4c 71.5px,#292929 72.5px,#2c2c2c 73.5px,#404040 75.5px,#464646 76.5px,#4c4c4c 79.5px,#535353 87.5px,#5a5a5a 100.5px,#6a6a6a 117.5px,#747474 132.5px,#8e8e8e 161.5px,#999 177.5px,#b1b1b1 224.5px,#c2c2c2 265.5px,#c2c2c2 270.5px,#b8b8b8 273.5px,#9f9f9f 278.5px)"></i><i style="left:333px;top:68px;height:280px;background:linear-gradient(#606060 0.5px,#676767 40.5px,#676767 54.5px,#636363 63.5px,#5c5c5c 70.5px,#585858 71.5px,#515151 72.5px,#2b2b2b 73.5px,#2a2a2a 74.5px,#3d3d3d 76.5px,#444 77.5px,#4c4c4c 80.5px,#545454 89.5px,#5c5c5c 103.5px,#696969 116.5px,#747474 132.5px,#8e8e8e 161.5px,#9d9d9d 184.5px,#c2c2c2 265.5px,#b6b6b6 271.5px,#9c9c9c 279.5px)"></i><i style="left:335px;top:68px;height:281px;background:linear-gradient(#5f5f5f 0.5px,#686868 45.5px,#686868 53.5px,#636363 65.5px,#5b5b5b 72.5px,#555 73.5px,#4b4b4b 74.5px,#2a2a2a 75.5px,#2f2f2f 76.5px,#434343 78.5px,#4e4e4e 82.5px,#5b5b5b 102.5px,#686868 115.5px,#747474 132.5px,#8e8e8e 161.5px,#9d9d9d 184.5px,#b2b2b2 227.5px,#c2c2c2 269.5px,#bcbcbc 272.5px,#999 280.5px)"></i><i style="left:337px;top:68px;height:282px;background:linear-gradient(#5f5f5f 0.5px,#686868 44.5px,#686868 57.5px,#646464 66.5px,#5d5d5d 73.5px,#595959 74.5px,#515151 75.5px,#2c2c2c 76.5px,#2b2b2b 77.5px,#3f3f3f 79.5px,#464646 80.5px,#4e4e4e 83.5px,#5c5c5c 104.5px,#6a6a6a 118.5px,#767676 135.5px,#8e8e8e 161.5px,#9e9e9e 186.5px,#b0b0b0 223.5px,#c2c2c2 270.5px,#b6b6b6 274.5px,#979797 281.5px)"></i><i style="left:339px;top:68px;height:282px;background:linear-gradient(#5f5f5f 0.5px,#696969 49.5px,#696969 57.5px,#656565 67.5px,#5f5f5f 74.5px,#585858 76.5px,#4f4f4f 77.5px,#2b2b2b 78.5px,#2d2d2d 79.5px,#424242 81.5px,#484848 82.5px,#4f4f4f 85.5px,#5b5b5b 103.5px,#8c8c8c 159.5px,#9a9a9a 179.5px,#aeaeae 219.5px,#c1c1c1 265.5px,#c0c0c0 268.5px,#b8b8b8 272.5px,#9e9e9e 281.5px)"></i><i style="left:341px;top:68px;height:283px;background:linear-gradient(#5f5f5f 0.5px,#646464 32.5px,#696969 47.5px,#696969 61.5px,#666 68.5px,#5d5d5d 77.5px,#575757 78.5px,#4d4d4d 79.5px,#2b2b2b 80.5px,#2f2f2f 81.5px,#444 83.5px,#494949 84.5px,#4e4e4e 86.5px,#767676 136.5px,#8f8f8f 163.5px,#9c9c9c 183.5px,#b3b3b3 231.5px,#c1c1c1 265.5px,#c2c2c2 274.5px,#c0c0c0 275.5px,#b6b6b6 277.5px,#a1a1a1 280.5px,#909090 282.5px)"></i><i style="left:343px;top:68px;height:284px;background:linear-gradient(#5f5f5f 0.5px,#646464 32.5px,#6a6a6a 52.5px,#6a6a6a 61.5px,#666 71.5px,#5f5f5f 78.5px,#5c5c5c 79.5px,#565656 80.5px,#4c4c4c 81.5px,#2c2c2c 82.5px,#323232 83.5px,#3e3e3e 84.5px,#464646 85.5px,#4f4f4f 88.5px,#5c5c5c 106.5px,#6b6b6b 121.5px,#757575 135.5px,#919191 166.5px,#a6a6a6 203.5px,#c2c2c2 268.5px,#b6b6b6 273.5px,#a3a3a3 278.5px,#8c8c8c 283.5px)"></i><i style="left:345px;top:68px;height:284px;background:linear-gradient(#5f5f5f 0.5px,#646464 32.5px,#6a6a6a 51.5px,#6a6a6a 65.5px,#676767 72.5px,#616161 79.5px,#5c5c5c 81.5px,#555 82.5px,#2f2f2f 83.5px,#2d2d2d 84.5px,#484848 87.5px,#505050 90.5px,#5c5c5c 107.5px,#6c6c6c 123.5px,#777 138.5px,#909090 165.5px,#9a9a9a 180.5px,#b0b0b0 225.5px,#c2c2c2 272.5px,#bebebe 274.5px,#b2b2b2 277.5px,#929292 283.5px)"></i><i style="left:347px;top:68px;height:285px;background:linear-gradient(#5f5f5f 0.5px,#646464 33.5px,#6b6b6b 56.5px,#686868 73.5px,#616161 81.5px,#5b5b5b 83.5px,#535353 84.5px,#2e2e2e 85.5px,#2e2e2e 86.5px,#434343 88.5px,#4a4a4a 89.5px,#515151 92.5px,#5d5d5d 109.5px,#8e8e8e 163.5px,#9c9c9c 184.5px,#c1c1c1 267.5px,#c1c1c1 270.5px,#bcbcbc 273.5px,#9d9d9d 284.5px)"></i><i style="left:349px;top:68px;height:286px;background:linear-gradient(#5f5f5f 0.5px,#646464 33.5px,#6b6b6b 55.5px,#6b6b6b 69.5px,#686868 76.5px,#636363 82.5px,#5b5b5b 85.5px,#515151 86.5px,#2e2e2e 87.5px,#303030 88.5px,#454545 90.5px,#4b4b4b 91.5px,#515151 93.5px,#5e5e5e 111.5px,#909090 166.5px,#a4a4a4 200.5px,#c2c2c2 271.5px,#bfbfbf 273.5px,#b6b6b6 276.5px,#ababab 279.5px,#909090 285.5px)"></i><i style="left:351px;top:68px;height:286px;background:linear-gradient(#5f5f5f 0.5px,#646464 34.5px,#6c6c6c 59.5px,#6a6a6a 76.5px,#606060 86.5px,#5b5b5b 87.5px,#525252 88.5px,#2f2f2f 89.5px,#313131 90.5px,#464646 92.5px,#4c4c4c 93.5px,#525252 95.5px,#5e5e5e 112.5px,#6c6c6c 125.5px,#787878 141.5px,#8e8e8e 164.5px,#9b9b9b 183.5px,#b1b1b1 229.5px,#c2c2c2 273.5px,#b5b5b5 278.5px,#999 285.5px)"></i><i style="left:353px;top:68px;height:287px;background:linear-gradient(#5e5e5e 0.5px,#646464 34.5px,#6d6d6d 64.5px,#6d6d6d 71.5px,#696969 81.5px,#636363 87.5px,#5c5c5c 89.5px,#535353 90.5px,#2f2f2f 91.5px,#323232 92.5px,#474747 94.5px,#4d4d4d 95.5px,#525252 97.5px,#595959 104.5px,#5f5f5f 114.5px,#6d6d6d 127.5px,#797979 143.5px,#8b8b8b 161.5px,#999 180.5px,#afafaf 225.5px,#c2c2c2 271.5px,#c2c2c2 276.5px,#bfbfbf 278.5px,#b4b4b4 281.5px,#9c9c9c 286.5px)"></i><i style="left:355px;top:68px;height:288px;background:linear-gradient(#5e5e5e 0.5px,#646464 35.5px,#6d6d6d 62.5px,#6c6c6c 79.5px,#626262 90.5px,#5d5d5d 91.5px,#545454 92.5px,#303030 93.5px,#333 94.5px,#484848 96.5px,#4e4e4e 97.5px,#535353 99.5px,#5a5a5a 106.5px,#606060 116.5px,#6f6f6f 130.5px,#777 141.5px,#8d8d8d 164.5px,#9b9b9b 184.5px,#c2c2c2 272.5px,#c2c2c2 278.5px,#b2b2b2 283.5px,#a0a0a0 287.5px)"></i><i style="left:357px;top:68px;height:289px;background:linear-gradient(#5e5e5e 0.5px,#646464 35.5px,#6e6e6e 67.5px,#6d6d6d 80.5px,#696969 87.5px,#626262 92.5px,#5d5d5d 93.5px,#545454 94.5px,#313131 95.5px,#343434 96.5px,#494949 98.5px,#4f4f4f 99.5px,#545454 101.5px,#616161 118.5px,#707070 132.5px,#797979 144.5px,#8f8f8f 167.5px,#9e9e9e 190.5px,#b1b1b1 231.5px,#c2c2c2 276.5px,#b1b1b1 282.5px,#9a9a9a 288.5px)"></i><i style="left:359px;top:68px;height:289px;background:linear-gradient(#5e5e5e 0.5px,#646464 36.5px,#6e6e6e 66.5px,#6d6d6d 84.5px,#686868 91.5px,#636363 94.5px,#5e5e5e 95.5px,#555 96.5px,#323232 97.5px,#353535 98.5px,#4a4a4a 100.5px,#505050 101.5px,#555 103.5px,#616161 119.5px,#727272 135.5px,#7a7a7a 146.5px,#919191 170.5px,#9b9b9b 185.5px,#c2c2c2 273.5px,#c2c2c2 275.5px,#b8b8b8 280.5px,#a1a1a1 288.5px)"></i><i style="left:361px;top:68px;height:290px;background:linear-gradient(#5e5e5e 0.5px,#646464 36.5px,#6e6e6e 65.5px,#6f6f6f 83.5px,#6c6c6c 89.5px,#646464 96.5px,#5f5f5f 97.5px,#565656 98.5px,#333 99.5px,#353535 100.5px,#4b4b4b 102.5px,#515151 103.5px,#565656 105.5px,#626262 121.5px,#747474 138.5px,#8f8f8f 168.5px,#9d9d9d 189.5px,#c2c2c2 274.5px,#b5b5b5 280.5px,#949494 289.5px)"></i><i style="left:363px;top:68px;height:291px;background:linear-gradient(#5e5e5e 0.5px,#646464 37.5px,#707070 74.5px,#6f6f6f 87.5px,#676767 97.5px,#616161 99.5px,#585858 100.5px,#343434 101.5px,#353535 102.5px,#4a4a4a 104.5px,#515151 105.5px,#575757 107.5px,#636363 123.5px,#757575 140.5px,#919191 171.5px,#9a9a9a 184.5px,#a7a7a7 210.5px,#c2c2c2 275.5px,#bcbcbc 278.5px,#afafaf 282.5px,#8e8e8e 290.5px)"></i><i style="left:365px;top:68px;height:291px;background:linear-gradient(#5e5e5e 0.5px,#646464 38.5px,#707070 73.5px,#707070 89.5px,#686868 99.5px,#636363 101.5px,#5b5b5b 102.5px,#363636 103.5px,#353535 104.5px,#515151 107.5px,#575757 109.5px,#636363 124.5px,#8e8e8e 168.5px,#9d9d9d 190.5px,#c2c2c2 276.5px,#b4b4b4 282.5px,#979797 290.5px)"></i><i style="left:367px;top:68px;height:292px;background:linear-gradient(#5e5e5e 0.5px,#646464 38.5px,#717171 76.5px,#717171 91.5px,#6f6f6f 95.5px,#686868 102.5px,#656565 103.5px,#5e5e5e 104.5px,#535353 105.5px,#353535 106.5px,#3c3c3c 107.5px,#484848 108.5px,#505050 109.5px,#585858 111.5px,#646464 126.5px,#888 162.5px,#9a9a9a 185.5px,#aeaeae 227.5px,#c1c1c1 273.5px,#c3c3c3 283.5px,#bdbdbd 285.5px,#b2b2b2 287.5px,#959595 291.5px)"></i><i style="left:369px;top:68px;height:293px;background:linear-gradient(#5d5d5d 0.5px,#656565 43.5px,#727272 80.5px,#727272 93.5px,#707070 97.5px,#696969 104.5px,#666 105.5px,#606060 106.5px,#565656 107.5px,#363636 108.5px,#3b3b3b 109.5px,#505050 111.5px,#555 112.5px,#5a5a5a 114.5px,#646464 127.5px,#929292 174.5px,#9d9d9d 191.5px,#afafaf 230.5px,#c3c3c3 282.5px,#bdbdbd 285.5px,#b5b5b5 287.5px,#9b9b9b 292.5px)"></i><i style="left:371px;top:68px;height:293px;background:linear-gradient(#5d5d5d 0.5px,#656565 44.5px,#737373 84.5px,#727272 97.5px,#6e6e6e 103.5px,#686868 107.5px,#636363 108.5px,#595959 109.5px,#373737 110.5px,#3a3a3a 111.5px,#4f4f4f 113.5px,#595959 115.5px,#8d8d8d 169.5px,#9b9b9b 188.5px,#c3c3c3 279.5px,#bebebe 282.5px,#b5b5b5 285.5px,#999 292.5px)"></i><i style="left:373px;top:68px;height:294px;background:linear-gradient(#5d5d5d 0.5px,#656565 45.5px,#727272 79.5px,#747474 96.5px,#6f6f6f 105.5px,#696969 109.5px,#656565 110.5px,#5c5c5c 111.5px,#383838 112.5px,#393939 113.5px,#4e4e4e 115.5px,#555 116.5px,#5b5b5b 118.5px,#8f8f8f 172.5px,#9a9a9a 187.5px,#a3a3a3 204.5px,#c3c3c3 282.5px,#bebebe 284.5px,#b2b2b2 287.5px,#919191 293.5px)"></i><i style="left:375px;top:68px;height:295px;background:linear-gradient(#5d5d5d 0.5px,#646464 41.5px,#737373 83.5px,#757575 98.5px,#717171 106.5px,#6b6b6b 111.5px,#606060 113.5px,#3a3a3a 114.5px,#383838 115.5px,#404040 116.5px,#555 118.5px,#595959 119.5px,#5e5e5e 122.5px,#676767 134.5px,#6f6f6f 140.5px,#909090 174.5px,#9c9c9c 191.5px,#c3c3c3 281.5px,#bebebe 284.5px,#b5b5b5 287.5px,#9b9b9b 294.5px)"></i><i style="left:377px;top:68px;height:296px;background:linear-gradient(#5d5d5d 0.5px,#656565 46.5px,#757575 90.5px,#757575 103.5px,#737373 107.5px,#6a6a6a 114.5px,#656565 115.5px,#5b5b5b 116.5px,#393939 117.5px,#3d3d3d 118.5px,#535353 120.5px,#5c5c5c 122.5px,#959595 181.5px,#a6a6a6 212.5px,#c3c3c3 285.5px,#c1c1c1 286.5px,#b4b4b4 289.5px,#909090 295.5px)"></i><i style="left:379px;top:68px;height:296px;background:linear-gradient(#5d5d5d 0.5px,#646464 43.5px,#767676 93.5px,#767676 105.5px,#747474 109.5px,#6c6c6c 116.5px,#686868 117.5px,#606060 118.5px,#3b3b3b 119.5px,#3b3b3b 120.5px,#505050 122.5px,#585858 123.5px,#5c5c5c 124.5px,#606060 127.5px,#666 135.5px,#747474 147.5px,#909090 176.5px,#a0a0a0 200.5px,#c3c3c3 284.5px,#bbb 287.5px,#afafaf 290.5px,#969696 295.5px)"></i><i style="left:381px;top:68px;height:297px;background:linear-gradient(#5d5d5d 0.5px,#646464 44.5px,#767676 93.5px,#777 107.5px,#747474 113.5px,#6b6b6b 119.5px,#656565 120.5px,#5a5a5a 121.5px,#3b3b3b 122.5px,#414141 123.5px,#575757 125.5px,#5e5e5e 127.5px,#919191 178.5px,#9d9d9d 195.5px,#c3c3c3 283.5px,#c1c1c1 287.5px,#b1b1b1 292.5px,#9f9f9f 296.5px)"></i><i style="left:383px;top:68px;height:298px;background:linear-gradient(#5c5c5c 0.5px,#656565 48.5px,#777 96.5px,#787878 109.5px,#767676 114.5px,#6e6e6e 121.5px,#696969 122.5px,#606060 123.5px,#3c3c3c 124.5px,#3f3f3f 125.5px,#555 127.5px,#5f5f5f 129.5px,#6b6b6b 143.5px,#777 152.5px,#919191 179.5px,#9c9c9c 194.5px,#c3c3c3 285.5px,#bcbcbc 288.5px,#a7a7a7 293.5px,#939393 297.5px)"></i><i style="left:385px;top:68px;height:299px;background:linear-gradient(#5c5c5c 0.5px,#656565 49.5px,#787878 99.5px,#797979 112.5px,#757575 119.5px,#707070 123.5px,#656565 125.5px,#3f3f3f 126.5px,#3e3e3e 127.5px,#5a5a5a 130.5px,#616161 132.5px,#6c6c6c 145.5px,#787878 154.5px,#929292 181.5px,#9b9b9b 193.5px,#a6a6a6 215.5px,#c3c3c3 284.5px,#c3c3c3 289.5px,#b2b2b2 293.5px,#939393 298.5px)"></i><i style="left:387px;top:68px;height:300px;background:linear-gradient(#5c5c5c 0.5px,#656565 50.5px,#787878 99.5px,#7a7a7a 114.5px,#787878 119.5px,#727272 125.5px,#6f6f6f 126.5px,#6a6a6a 127.5px,#616161 128.5px,#3f3f3f 129.5px,#424242 130.5px,#585858 132.5px,#5e5e5e 133.5px,#646464 136.5px,#6c6c6c 146.5px,#747474 152.5px,#919191 181.5px,#a2a2a2 207.5px,#c2c2c2 284.5px,#bfbfbf 286.5px,#b0b0b0 291.5px,#919191 299.5px)"></i><i style="left:389px;top:68px;height:300px;background:linear-gradient(#5c5c5c 0.5px,#656565 51.5px,#797979 102.5px,#7b7b7b 117.5px,#787878 123.5px,#707070 129.5px,#6a6a6a 130.5px,#606060 131.5px,#404040 132.5px,#454545 133.5px,#5b5b5b 135.5px,#616161 136.5px,#636363 137.5px,#8f8f8f 180.5px,#9b9b9b 195.5px,#c2c2c2 284.5px,#c1c1c1 287.5px,#b9b9b9 291.5px,#a3a3a3 299.5px)"></i><i style="left:391px;top:68px;height:301px;background:linear-gradient(#5c5c5c 0.5px,#656565 52.5px,#787878 100.5px,#7c7c7c 120.5px,#797979 126.5px,#757575 130.5px,#707070 132.5px,#696969 133.5px,#5e5e5e 134.5px,#414141 135.5px,#484848 136.5px,#5e5e5e 138.5px,#636363 139.5px,#959595 188.5px,#a4a4a4 213.5px,#c3c3c3 287.5px,#c0c0c0 289.5px,#b7b7b7 292.5px,#939393 300.5px)"></i><i style="left:393px;top:68px;height:302px;background:linear-gradient(#5c5c5c 0.5px,#656565 52.5px,#797979 103.5px,#7d7d7d 123.5px,#7a7a7a 129.5px,#747474 134.5px,#707070 135.5px,#686868 136.5px,#434343 137.5px,#434343 138.5px,#585858 140.5px,#606060 141.5px,#666 143.5px,#929292 186.5px,#9e9e9e 202.5px,#c3c3c3 288.5px,#c3c3c3 293.5px,#c1c1c1 294.5px,#b9b9b9 296.5px,#9e9e9e 301.5px)"></i><i style="left:395px;top:68px;height:303px;background:linear-gradient(#5c5c5c 0.5px,#656565 53.5px,#7a7a7a 106.5px,#7e7e7e 126.5px,#787878 135.5px,#707070 138.5px,#676767 139.5px,#444 140.5px,#454545 141.5px,#5b5b5b 143.5px,#636363 144.5px,#666 145.5px,#979797 193.5px,#9f9f9f 205.5px,#b0b0b0 242.5px,#c3c3c3 292.5px,#bebebe 294.5px,#b2b2b2 297.5px,#989898 302.5px)"></i><i style="left:397px;top:68px;height:304px;background:linear-gradient(#5c5c5c 0.5px,#656565 54.5px,#7b7b7b 109.5px,#7f7f7f 129.5px,#7c7c7c 135.5px,#757575 140.5px,#707070 141.5px,#666 142.5px,#444 143.5px,#484848 144.5px,#5e5e5e 146.5px,#656565 147.5px,#6a6a6a 150.5px,#959595 192.5px,#9f9f9f 206.5px,#aeaeae 238.5px,#c3c3c3 292.5px,#b7b7b7 296.5px,#979797 303.5px)"></i><i style="left:399px;top:68px;height:304px;background:linear-gradient(#5c5c5c 0.5px,#656565 55.5px,#7d7d7d 115.5px,#808080 132.5px,#7c7c7c 139.5px,#757575 143.5px,#6f6f6f 144.5px,#656565 145.5px,#454545 146.5px,#4b4b4b 147.5px,#616161 149.5px,#676767 150.5px,#696969 151.5px,#747474 163.5px,#7e7e7e 170.5px,#929292 190.5px,#9f9f9f 207.5px,#c3c3c3 290.5px,#bcbcbc 294.5px,#a3a3a3 303.5px)"></i><i style="left:401px;top:68px;height:305px;background:linear-gradient(#5c5c5c 0.5px,#656565 56.5px,#7e7e7e 118.5px,#818181 135.5px,#7d7d7d 142.5px,#767676 146.5px,#707070 147.5px,#666 148.5px,#474747 149.5px,#4d4d4d 150.5px,#626262 152.5px,#686868 153.5px,#6a6a6a 154.5px,#949494 194.5px,#a0a0a0 210.5px,#c3c3c3 291.5px,#c3c3c3 296.5px,#c1c1c1 297.5px,#bbb 299.5px,#a2a2a2 304.5px)"></i><i style="left:403px;top:68px;height:306px;background:linear-gradient(#5b5b5b 0.5px,#656565 56.5px,#7f7f7f 121.5px,#828282 138.5px,#7e7e7e 145.5px,#777 149.5px,#717171 150.5px,#676767 151.5px,#494949 152.5px,#4e4e4e 153.5px,#646464 155.5px,#6b6b6b 157.5px,#959595 197.5px,#a2a2a2 215.5px,#c3c3c3 291.5px,#c3c3c3 296.5px,#c0c0c0 298.5px,#a2a2a2 305.5px)"></i><i style="left:405px;top:68px;height:307px;background:linear-gradient(#5b5b5b 0.5px,#656565 57.5px,#808080 124.5px,#838383 141.5px,#7f7f7f 148.5px,#787878 152.5px,#696969 154.5px,#4b4b4b 155.5px,#505050 156.5px,#656565 158.5px,#6c6c6c 160.5px,#979797 201.5px,#a0a0a0 213.5px,#acacac 237.5px,#c2c2c2 290.5px,#bcbcbc 294.5px,#b3b3b3 297.5px,#909090 306.5px)"></i><i style="left:407px;top:68px;height:308px;background:linear-gradient(#5b5b5b 0.5px,#656565 58.5px,#828282 130.5px,#848484 144.5px,#808080 151.5px,#797979 155.5px,#747474 156.5px,#6a6a6a 157.5px,#4c4c4c 158.5px,#525252 159.5px,#666 161.5px,#6c6c6c 162.5px,#989898 204.5px,#a1a1a1 216.5px,#acacac 238.5px,#c3c3c3 293.5px,#c2c2c2 299.5px,#b0b0b0 303.5px,#979797 307.5px)"></i><i style="left:409px;top:68px;height:308px;background:linear-gradient(#5b5b5b 0.5px,#656565 59.5px,#838383 133.5px,#858585 146.5px,#818181 154.5px,#7a7a7a 158.5px,#757575 159.5px,#6b6b6b 160.5px,#4e4e4e 161.5px,#545454 162.5px,#686868 164.5px,#6d6d6d 165.5px,#707070 167.5px,#999 207.5px,#a2a2a2 219.5px,#b3b3b3 255.5px,#c3c3c3 297.5px,#b9b9b9 301.5px,#9f9f9f 307.5px)"></i><i style="left:411px;top:68px;height:309px;background:linear-gradient(#5b5b5b 0.5px,#656565 60.5px,#828282 131.5px,#868686 149.5px,#838383 156.5px,#7c7c7c 161.5px,#6d6d6d 163.5px,#505050 164.5px,#565656 165.5px,#696969 167.5px,#707070 169.5px,#9b9b9b 211.5px,#a3a3a3 222.5px,#adadad 242.5px,#c3c3c3 295.5px,#c1c1c1 299.5px,#b6b6b6 302.5px,#979797 308.5px)"></i><i style="left:413px;top:68px;height:310px;background:linear-gradient(#5b5b5b 0.5px,#656565 60.5px,#838383 134.5px,#878787 152.5px,#848484 159.5px,#7d7d7d 164.5px,#787878 165.5px,#6f6f6f 166.5px,#525252 167.5px,#585858 168.5px,#6b6b6b 170.5px,#727272 172.5px,#979797 208.5px,#a5a5a5 227.5px,#c3c3c3 297.5px,#b3b3b3 303.5px,#9b9b9b 309.5px)"></i><i style="left:415px;top:68px;height:311px;background:linear-gradient(#5b5b5b 0.5px,#656565 61.5px,#848484 137.5px,#888 156.5px,#868686 161.5px,#818181 166.5px,#7e7e7e 167.5px,#717171 169.5px,#545454 170.5px,#5a5a5a 171.5px,#6d6d6d 173.5px,#737373 175.5px,#9a9a9a 213.5px,#a6a6a6 230.5px,#c1c1c1 291.5px,#c3c3c3 301.5px,#b5b5b5 305.5px,#9c9c9c 310.5px)"></i><i style="left:417px;top:68px;height:312px;background:linear-gradient(#5b5b5b 0.5px,#656565 62.5px,#858585 140.5px,#898989 159.5px,#878787 164.5px,#808080 170.5px,#737373 172.5px,#575757 173.5px,#5c5c5c 174.5px,#6e6e6e 176.5px,#757575 178.5px,#9c9c9c 217.5px,#adadad 245.5px,#c3c3c3 297.5px,#c3c3c3 302.5px,#c1c1c1 303.5px,#afafaf 307.5px,#969696 311.5px)"></i><i style="left:419px;top:68px;height:312px;background:linear-gradient(#5b5b5b 0.5px,#656565 63.5px,#878787 146.5px,#8a8a8a 162.5px,#878787 169.5px,#818181 173.5px,#747474 175.5px,#595959 176.5px,#5e5e5e 177.5px,#707070 179.5px,#757575 180.5px,#9e9e9e 221.5px,#aeaeae 248.5px,#c3c3c3 298.5px,#bebebe 301.5px,#afafaf 306.5px,#9c9c9c 311.5px)"></i><i style="left:421px;top:68px;height:313px;background:linear-gradient(#5b5b5b 0.5px,#656565 64.5px,#888 149.5px,#8b8b8b 161.5px,#8a8a8a 169.5px,#838383 176.5px,#767676 178.5px,#5b5b5b 179.5px,#606060 180.5px,#727272 182.5px,#787878 184.5px,#9a9a9a 218.5px,#aaa 241.5px,#c2c2c2 296.5px,#c3c3c3 304.5px,#bababa 307.5px,#a1a1a1 312.5px)"></i><i style="left:423px;top:68px;height:314px;background:linear-gradient(#5b5b5b 0.5px,#656565 64.5px,#757575 107.5px,#878787 147.5px,#8c8c8c 165.5px,#8a8a8a 174.5px,#848484 179.5px,#787878 181.5px,#5d5d5d 182.5px,#626262 183.5px,#737373 185.5px,#787878 186.5px,#9d9d9d 223.5px,#ababab 244.5px,#c3c3c3 299.5px,#c3c3c3 302.5px,#c0c0c0 304.5px,#acacac 309.5px,#979797 313.5px)"></i><i style="left:425px;top:68px;height:315px;background:linear-gradient(#5b5b5b 0.5px,#5c5c5c 17.5px,#656565 65.5px,#898989 153.5px,#8d8d8d 168.5px,#8c8c8c 175.5px,#868686 182.5px,#838383 183.5px,#7c7c7c 184.5px,#5f5f5f 185.5px,#626262 186.5px,#737373 188.5px,#787878 189.5px,#7c7c7c 191.5px,#9d9d9d 225.5px,#a8a8a8 240.5px,#c3c3c3 300.5px,#b9b9b9 305.5px,#9a9a9a 314.5px)"></i><i style="left:427px;top:68px;height:316px;background:linear-gradient(#5a5a5a 0.5px,#656565 66.5px,#737373 104.5px,#888 151.5px,#8e8e8e 171.5px,#8d8d8d 180.5px,#878787 186.5px,#7b7b7b 188.5px,#626262 189.5px,#666 190.5px,#777 192.5px,#7b7b7b 193.5px,#9b9b9b 225.5px,#aaa 245.5px,#c3c3c3 301.5px,#b4b4b4 307.5px,#959595 315.5px)"></i><i style="left:429px;top:68px;height:317px;background:linear-gradient(#5a5a5a 0.5px,#656565 67.5px,#737373 105.5px,#888 152.5px,#8f8f8f 174.5px,#8e8e8e 184.5px,#8b8b8b 188.5px,#878787 190.5px,#828282 191.5px,#646464 192.5px,#656565 193.5px,#747474 195.5px,#7d7d7d 197.5px,#a1a1a1 234.5px,#acacac 250.5px,#c3c3c3 302.5px,#c1c1c1 306.5px,#b8b8b8 309.5px,#9b9b9b 316.5px)"></i><i style="left:431px;top:68px;height:318px;background:linear-gradient(#5a5a5a 0.5px,#656565 68.5px,#909090 177.5px,#8f8f8f 188.5px,#8a8a8a 193.5px,#818181 195.5px,#666 196.5px,#696969 197.5px,#787878 199.5px,#7f7f7f 201.5px,#949494 221.5px,#ababab 250.5px,#c3c3c3 303.5px,#c2c2c2 306.5px,#b9b9b9 309.5px,#949494 317.5px)"></i><i style="left:433px;top:68px;height:319px;background:linear-gradient(#5a5a5a 0.5px,#656565 69.5px,#737373 107.5px,#8a8a8a 159.5px,#919191 181.5px,#919191 189.5px,#8a8a8a 197.5px,#858585 198.5px,#686868 199.5px,#696969 200.5px,#7e7e7e 203.5px,#808080 204.5px,#959595 224.5px,#acacac 253.5px,#c3c3c3 304.5px,#c3c3c3 307.5px,#bebebe 309.5px,#aeaeae 313.5px,#949494 318.5px)"></i><i style="left:435px;top:68px;height:320px;background:linear-gradient(#5a5a5a 0.5px,#656565 70.5px,#929292 184.5px,#919191 195.5px,#8c8c8c 200.5px,#818181 202.5px,#6b6b6b 203.5px,#7e7e7e 206.5px,#838383 208.5px,#979797 228.5px,#aeaeae 258.5px,#c3c3c3 305.5px,#c3c3c3 307.5px,#bebebe 310.5px,#b1b1b1 314.5px,#9d9d9d 319.5px)"></i><i style="left:437px;top:68px;height:321px;background:linear-gradient(#5a5a5a 0.5px,#656565 71.5px,#8a8a8a 161.5px,#939393 188.5px,#939393 196.5px,#8d8d8d 203.5px,#848484 205.5px,#6c6c6c 206.5px,#7f7f7f 209.5px,#838383 210.5px,#999 232.5px,#afafaf 261.5px,#c3c3c3 306.5px,#c3c3c3 308.5px,#b8b8b8 312.5px,#949494 320.5px)"></i><i style="left:439px;top:68px;height:322px;background:linear-gradient(#5a5a5a 0.5px,#5c5c5c 24.5px,#656565 72.5px,#949494 191.5px,#949494 199.5px,#8f8f8f 206.5px,#878787 208.5px,#6e6e6e 209.5px,#848484 213.5px,#9a9a9a 235.5px,#aeaeae 261.5px,#c3c3c3 307.5px,#c2c2c2 313.5px,#bbb 315.5px,#acacac 318.5px,#999 321.5px)"></i><i style="left:441px;top:68px;height:323px;background:linear-gradient(#5a5a5a 0.5px,#5c5c5c 24.5px,#656565 73.5px,#898989 160.5px,#959595 195.5px,#959595 203.5px,#8f8f8f 210.5px,#8a8a8a 211.5px,#717171 212.5px,#737373 213.5px,#818181 215.5px,#878787 217.5px,#999 235.5px,#aeaeae 262.5px,#c3c3c3 308.5px,#c0c0c0 312.5px,#ababab 317.5px,#8f8f8f 322.5px)"></i><i style="left:443px;top:68px;height:323px;background:linear-gradient(#5a5a5a 0.5px,#5c5c5c 25.5px,#656565 74.5px,#8b8b8b 166.5px,#969696 198.5px,#969696 207.5px,#919191 213.5px,#8d8d8d 214.5px,#737373 215.5px,#757575 216.5px,#828282 218.5px,#898989 220.5px,#9d9d9d 241.5px,#afafaf 265.5px,#c2c2c2 306.5px,#c2c2c2 308.5px,#bdbdbd 311.5px,#9c9c9c 322.5px)"></i><i style="left:445px;top:68px;height:324px;background:linear-gradient(#5a5a5a 0.5px,#5c5c5c 26.5px,#656565 75.5px,#888 159.5px,#979797 201.5px,#979797 211.5px,#939393 216.5px,#8b8b8b 218.5px,#777 219.5px,#888 222.5px,#8c8c8c 224.5px,#9f9f9f 245.5px,#b0b0b0 268.5px,#c2c2c2 307.5px,#c2c2c2 309.5px,#bebebe 311.5px,#afafaf 316.5px,#939393 323.5px)"></i><i style="left:447px;top:68px;height:325px;background:linear-gradient(#5a5a5a 0.5px,#5c5c5c 27.5px,#656565 75.5px,#989898 204.5px,#989898 215.5px,#959595 219.5px,#8e8e8e 221.5px,#797979 222.5px,#898989 225.5px,#8c8c8c 226.5px,#9f9f9f 246.5px,#b1b1b1 271.5px,#c3c3c3 310.5px,#c2c2c2 315.5px,#b3b3b3 319.5px,#999 324.5px)"></i><i style="left:449px;top:68px;height:326px;background:linear-gradient(#595959 0.5px,#656565 76.5px,#999 207.5px,#989898 221.5px,#909090 224.5px,#7c7c7c 225.5px,#8e8e8e 229.5px,#a1a1a1 250.5px,#b1b1b1 272.5px,#c3c3c3 311.5px,#c3c3c3 316.5px,#c1c1c1 317.5px,#b3b3b3 320.5px,#929292 325.5px)"></i><i style="left:451px;top:68px;height:327px;background:linear-gradient(#595959 0.5px,#656565 77.5px,#898989 164.5px,#9b9b9b 216.5px,#9a9a9a 222.5px,#969696 226.5px,#939393 227.5px,#7e7e7e 228.5px,#808080 229.5px,#8b8b8b 231.5px,#919191 233.5px,#a1a1a1 251.5px,#b2b2b2 275.5px,#c3c3c3 312.5px,#c3c3c3 313.5px,#b7b7b7 317.5px,#a7a7a7 321.5px,#8e8e8e 326.5px)"></i><i style="left:453px;top:68px;height:327px;background:linear-gradient(#595959 0.5px,#656565 78.5px,#8b8b8b 170.5px,#9c9c9c 219.5px,#9a9a9a 228.5px,#969696 230.5px,#808080 231.5px,#828282 232.5px,#919191 235.5px,#a3a3a3 255.5px,#b3b3b3 278.5px,#c3c3c3 312.5px,#bebebe 315.5px,#b2b2b2 319.5px,#969696 326.5px)"></i><i style="left:455px;top:68px;height:328px;background:linear-gradient(#595959 0.5px,#5c5c5c 30.5px,#656565 78.5px,#757575 121.5px,#888 163.5px,#9d9d9d 222.5px,#9a9a9a 232.5px,#949494 234.5px,#848484 235.5px,#8e8e8e 237.5px,#949494 239.5px,#a6a6a6 260.5px,#b4b4b4 281.5px,#c3c3c3 313.5px,#bfbfbf 316.5px,#b3b3b3 320.5px,#979797 327.5px)"></i><i style="left:457px;top:68px;height:329px;background:linear-gradient(#595959 0.5px,#5c5c5c 31.5px,#656565 79.5px,#737373 117.5px,#8a8a8a 169.5px,#9e9e9e 225.5px,#9c9c9c 235.5px,#969696 237.5px,#878787 238.5px,#959595 242.5px,#a5a5a5 260.5px,#b5b5b5 284.5px,#c3c3c3 314.5px,#c3c3c3 319.5px,#bfbfbf 321.5px,#b0b0b0 324.5px,#979797 328.5px)"></i><i style="left:459px;top:68px;height:330px;background:linear-gradient(#595959 0.5px,#5c5c5c 32.5px,#656565 80.5px,#8c8c8c 175.5px,#9f9f9f 229.5px,#9e9e9e 236.5px,#9a9a9a 239.5px,#888 240.5px,#969696 244.5px,#a5a5a5 261.5px,#b5b5b5 285.5px,#c3c3c3 315.5px,#c3c3c3 321.5px,#c1c1c1 322.5px,#b5b5b5 325.5px,#9e9e9e 329.5px)"></i><i style="left:461px;top:68px;height:331px;background:linear-gradient(#595959 0.5px,#5c5c5c 32.5px,#656565 81.5px,#898989 168.5px,#9f9f9f 228.5px,#a0a0a0 235.5px,#9d9d9d 241.5px,#9a9a9a 242.5px,#8b8b8b 243.5px,#989898 247.5px,#a5a5a5 262.5px,#b5b5b5 286.5px,#c3c3c3 316.5px,#b7b7b7 322.5px,#9f9f9f 330.5px)"></i><i style="left:463px;top:68px;height:331px;background:linear-gradient(#595959 0.5px,#5c5c5c 33.5px,#656565 82.5px,#a0a0a0 231.5px,#9f9f9f 243.5px,#9d9d9d 244.5px,#8c8c8c 245.5px,#999 249.5px,#a9a9a9 268.5px,#b5b5b5 287.5px,#c3c3c3 317.5px,#c3c3c3 322.5px,#c1c1c1 323.5px,#b6b6b6 326.5px,#a2a2a2 330.5px)"></i><i style="left:465px;top:68px;height:332px;background:linear-gradient(#595959 0.5px,#5c5c5c 34.5px,#656565 82.5px,#757575 125.5px,#888 167.5px,#a1a1a1 235.5px,#a0a0a0 246.5px,#9e9e9e 247.5px,#8f8f8f 248.5px,#9b9b9b 252.5px,#a9a9a9 269.5px,#b5b5b5 288.5px,#c2c2c2 315.5px,#c1c1c1 318.5px,#b9b9b9 322.5px,#9e9e9e 331.5px)"></i><i style="left:467px;top:68px;height:333px;background:linear-gradient(#595959 0.5px,#5c5c5c 35.5px,#656565 83.5px,#737373 121.5px,#8a8a8a 173.5px,#a2a2a2 239.5px,#a0a0a0 249.5px,#9e9e9e 250.5px,#929292 251.5px,#9c9c9c 254.5px,#ababab 273.5px,#c3c3c3 318.5px,#c3c3c3 324.5px,#c1c1c1 325.5px,#b0b0b0 328.5px,#939393 332.5px)"></i><i style="left:469px;top:68px;height:334px;background:linear-gradient(#595959 0.5px,#5c5c5c 36.5px,#656565 84.5px,#8c8c8c 179.5px,#a3a3a3 242.5px,#a1a1a1 252.5px,#939393 253.5px,#9e9e9e 257.5px,#acacac 275.5px,#c3c3c3 319.5px,#c3c3c3 324.5px,#c1c1c1 325.5px,#b8b8b8 327.5px,#919191 333.5px)"></i><i style="left:471px;top:68px;height:335px;background:linear-gradient(#595959 0.5px,#5b5b5b 29.5px,#656565 85.5px,#898989 172.5px,#a4a4a4 246.5px,#a2a2a2 255.5px,#969696 256.5px,#a0a0a0 260.5px,#acacac 276.5px,#c3c3c3 320.5px,#c0c0c0 322.5px,#b7b7b7 325.5px,#a3a3a3 330.5px,#8f8f8f 334.5px)"></i><i style="left:473px;top:68px;height:335px;background:linear-gradient(#595959 0.5px,#5c5c5c 37.5px,#656565 86.5px,#a4a4a4 245.5px,#a4a4a4 257.5px,#989898 258.5px,#a1a1a1 262.5px,#a3a3a3 264.5px,#b0b0b0 283.5px,#c2c2c2 318.5px,#bcbcbc 323.5px,#aaa 329.5px,#989898 334.5px)"></i><i style="left:475px;top:68px;height:336px;background:linear-gradient(#585858 0.5px,#5c5c5c 38.5px,#656565 86.5px,#757575 129.5px,#888 171.5px,#a5a5a5 249.5px,#a5a5a5 260.5px,#9b9b9b 261.5px,#a4a4a4 266.5px,#b4b4b4 291.5px,#c2c2c2 319.5px,#c2c2c2 322.5px,#bdbdbd 325.5px,#a1a1a1 335.5px)"></i><i style="left:477px;top:68px;height:337px;background:linear-gradient(#585858 0.5px,#5c5c5c 39.5px,#656565 87.5px,#a5a5a5 249.5px,#a7a7a7 261.5px,#a6a6a6 263.5px,#9e9e9e 264.5px,#a4a4a4 267.5px,#a9a9a9 274.5px,#c3c3c3 322.5px,#bebebe 325.5px,#b2b2b2 329.5px,#989898 336.5px)"></i><i style="left:479px;top:68px;height:338px;background:linear-gradient(#585858 0.5px,#5c5c5c 40.5px,#656565 88.5px,#8c8c8c 183.5px,#a7a7a7 256.5px,#a8a8a8 264.5px,#a7a7a7 265.5px,#9f9f9f 266.5px,#a8a8a8 273.5px,#c3c3c3 323.5px,#c1c1c1 325.5px,#b8b8b8 329.5px,#9f9f9f 337.5px)"></i><i style="left:481px;top:68px;height:339px;background:linear-gradient(#585858 0.5px,#5c5c5c 40.5px,#656565 89.5px,#a4a4a4 247.5px,#a9a9a9 267.5px,#a8a8a8 268.5px,#a1a1a1 269.5px,#a5a5a5 271.5px,#aaa 277.5px,#c3c3c3 324.5px,#b9b9b9 328.5px,#a1a1a1 334.5px,#8e8e8e 338.5px)"></i><i style="left:483px;top:68px;height:339px;background:linear-gradient(#585858 0.5px,#5c5c5c 41.5px,#656565 90.5px,#8b8b8b 182.5px,#a9a9a9 263.5px,#aaa 270.5px,#a1a1a1 271.5px,#a7a7a7 274.5px,#ababab 279.5px,#c3c3c3 325.5px,#c2c2c2 331.5px,#bababa 333.5px,#9f9f9f 338.5px)"></i><i style="left:485px;top:68px;height:340px;background:linear-gradient(#585858 0.5px,#5c5c5c 42.5px,#656565 91.5px,#a5a5a5 251.5px,#aaa 273.5px,#a4a4a4 274.5px,#adadad 283.5px,#c3c3c3 326.5px,#bfbfbf 329.5px,#b8b8b8 331.5px,#939393 339.5px)"></i><i style="left:487px;top:68px;height:341px;background:linear-gradient(#585858 0.5px,#5c5c5c 43.5px,#656565 91.5px,#aaa 266.5px,#ababab 276.5px,#a6a6a6 277.5px,#ababab 281.5px,#b4b4b4 296.5px,#c3c3c3 327.5px,#c3c3c3 330.5px,#c0c0c0 332.5px,#adadad 337.5px,#9f9f9f 340.5px)"></i><i style="left:489px;top:68px;height:342px;background:linear-gradient(#585858 0.5px,#5c5c5c 44.5px,#656565 92.5px,#a7a7a7 258.5px,#acacac 278.5px,#a6a6a6 279.5px,#acacac 283.5px,#c3c3c3 327.5px,#c3c3c3 331.5px,#bebebe 333.5px,#a7a7a7 338.5px,#959595 341.5px)"></i><i style="left:491px;top:68px;height:343px;background:linear-gradient(#585858 0.5px,#5b5b5b 37.5px,#656565 93.5px,#aaa 267.5px,#adadad 281.5px,#a8a8a8 282.5px,#aeaeae 287.5px,#c3c3c3 328.5px,#bbb 332.5px,#b2b2b2 335.5px,#989898 342.5px)"></i><i style="left:493px;top:68px;height:343px;background:linear-gradient(#585858 0.5px,#5c5c5c 45.5px,#656565 94.5px,#acacac 273.5px,#aeaeae 283.5px,#a9a9a9 284.5px,#b0b0b0 291.5px,#c3c3c3 329.5px,#c1c1c1 333.5px,#ababab 339.5px,#9c9c9c 342.5px)"></i><i style="left:495px;top:68px;height:344px;background:linear-gradient(#585858 0.5px,#5c5c5c 46.5px,#656565 95.5px,#888 179.5px,#aeaeae 279.5px,#afafaf 286.5px,#ababab 287.5px,#b0b0b0 292.5px,#c3c3c3 330.5px,#c3c3c3 333.5px,#bebebe 335.5px,#aaa 340.5px,#9b9b9b 343.5px)"></i><i style="left:497px;top:68px;height:345px;background:linear-gradient(#585858 0.5px,#5c5c5c 47.5px,#656565 95.5px,#acacac 274.5px,#b0b0b0 286.5px,#b0b0b0 289.5px,#acacac 290.5px,#b3b3b3 298.5px,#c3c3c3 331.5px,#c3c3c3 335.5px,#bfbfbf 337.5px,#b7b7b7 339.5px,#999 344.5px)"></i><i style="left:499px;top:68px;height:346px;background:linear-gradient(#575757 0.5px,#5c5c5c 48.5px,#656565 96.5px,#aeaeae 280.5px,#b1b1b1 291.5px,#adadad 292.5px,#b2b2b2 297.5px,#c1c1c1 327.5px,#c1c1c1 330.5px,#bdbdbd 333.5px,#999 345.5px)"></i><i style="left:501px;top:68px;height:347px;background:linear-gradient(#575757 0.5px,#5c5c5c 48.5px,#656565 97.5px,#b0b0b0 286.5px,#b2b2b2 294.5px,#aeaeae 295.5px,#b4b4b4 302.5px,#c2c2c2 331.5px,#bebebe 335.5px,#b4b4b4 339.5px,#9d9d9d 346.5px)"></i><i style="left:503px;top:68px;height:347px;background:linear-gradient(#575757 0.5px,#5c5c5c 49.5px,#656565 98.5px,#afafaf 284.5px,#b2b2b2 296.5px,#aeaeae 297.5px,#b3b3b3 302.5px,#c2c2c2 332.5px,#c1c1c1 334.5px,#bababa 337.5px,#a3a3a3 343.5px,#959595 346.5px)"></i><i style="left:505px;top:68px;height:348px;background:linear-gradient(#575757 0.5px,#5c5c5c 50.5px,#656565 99.5px,#b1b1b1 290.5px,#b3b3b3 299.5px,#afafaf 300.5px,#b4b4b4 305.5px,#c2c2c2 333.5px,#bdbdbd 337.5px,#adadad 342.5px,#999 347.5px)"></i><i style="left:507px;top:68px;height:349px;background:linear-gradient(#575757 0.5px,#5c5c5c 51.5px,#656565 99.5px,#b0b0b0 288.5px,#b4b4b4 301.5px,#b4b4b4 302.5px,#b0b0b0 303.5px,#b6b6b6 310.5px,#c2c2c2 334.5px,#c2c2c2 337.5px,#bababa 340.5px,#aaa 344.5px,#969696 348.5px)"></i><i style="left:509px;top:68px;height:350px;background:linear-gradient(#575757 0.5px,#5c5c5c 52.5px,#656565 100.5px,#b2b2b2 294.5px,#b5b5b5 305.5px,#b0b0b0 306.5px,#b5b5b5 310.5px,#c1c1c1 333.5px,#c0c0c0 336.5px,#b8b8b8 340.5px,#9e9e9e 349.5px)"></i><i style="left:511px;top:68px;height:351px;background:linear-gradient(#575757 0.5px,#5c5c5c 53.5px,#656565 101.5px,#b1b1b1 292.5px,#b5b5b5 304.5px,#b5b5b5 308.5px,#b1b1b1 309.5px,#b8b8b8 317.5px,#c2c2c2 336.5px,#c2c2c2 341.5px,#bebebe 343.5px,#b4b4b4 345.5px,#949494 350.5px)"></i><i style="left:513px;top:68px;height:352px;background:linear-gradient(#575757 0.5px,#5c5c5c 54.5px,#656565 102.5px,#b3b3b3 298.5px,#b6b6b6 311.5px,#b1b1b1 312.5px,#b7b7b7 317.5px,#c1c1c1 336.5px,#b2b2b2 343.5px,#969696 351.5px)"></i><i style="left:515px;top:68px;height:353px;background:linear-gradient(#575757 0.5px,#5b5b5b 47.5px,#656565 103.5px,#b3b3b3 299.5px,#b7b7b7 312.5px,#b7b7b7 314.5px,#b3b3b3 315.5px,#b9b9b9 322.5px,#c2c2c2 340.5px,#bcbcbc 343.5px,#acacac 347.5px,#929292 352.5px)"></i><i style="left:517px;top:68px;height:354px;background:linear-gradient(#575757 0.5px,#5b5b5b 48.5px,#656565 104.5px,#b5b5b5 305.5px,#b7b7b7 316.5px,#b2b2b2 317.5px,#b8b8b8 322.5px,#c2c2c2 342.5px,#bfbfbf 345.5px,#afafaf 349.5px,#9b9b9b 353.5px)"></i><i style="left:519px;top:68px;height:355px;background:linear-gradient(#575757 0.5px,#5b5b5b 49.5px,#656565 105.5px,#b4b4b4 303.5px,#b8b8b8 318.5px,#b2b2b2 319.5px,#b9b9b9 325.5px,#c1c1c1 340.5px,#c1c1c1 344.5px,#bdbdbd 346.5px,#ababab 350.5px,#949494 354.5px)"></i><i style="left:521px;top:68px;height:355px;background:linear-gradient(#575757 0.5px,#5c5c5c 57.5px,#656565 106.5px,#b4b4b4 304.5px,#b8b8b8 316.5px,#b8b8b8 321.5px,#b4b4b4 322.5px,#b8b8b8 325.5px,#c1c1c1 341.5px,#c1c1c1 344.5px,#bebebe 346.5px,#b8b8b8 348.5px,#9f9f9f 354.5px)"></i><i style="left:523px;top:68px;height:356px;background:linear-gradient(#575757 0.5px,#5c5c5c 58.5px,#656565 107.5px,#b6b6b6 310.5px,#b9b9b9 323.5px,#b4b4b4 324.5px,#b9b9b9 328.5px,#c0c0c0 341.5px,#bfbfbf 343.5px,#b7b7b7 346.5px,#acacac 349.5px,#909090 355.5px)"></i><i style="left:525px;top:68px;height:357px;background:linear-gradient(#565656 0.5px,#5c5c5c 59.5px,#656565 108.5px,#b6b6b6 311.5px,#bababa 325.5px,#b4b4b4 326.5px,#bababa 331.5px,#c1c1c1 345.5px,#c0c0c0 347.5px,#bdbdbd 348.5px,#b5b5b5 350.5px,#959595 356.5px)"></i><i style="left:527px;top:68px;height:358px;background:linear-gradient(#565656 0.5px,#5c5c5c 60.5px,#656565 108.5px,#b8b8b8 317.5px,#bababa 327.5px,#b4b4b4 328.5px,#bbb 334.5px,#c0c0c0 343.5px,#c0c0c0 346.5px,#bcbcbc 348.5px,#b0b0b0 351.5px,#909090 357.5px)"></i><i style="left:529px;top:68px;height:359px;background:linear-gradient(#565656 0.5px,#5b5b5b 53.5px,#656565 109.5px,#b7b7b7 315.5px,#bababa 329.5px,#b5b5b5 330.5px,#bbb 335.5px,#c0c0c0 344.5px,#bcbcbc 348.5px,#adadad 353.5px,#9a9a9a 358.5px)"></i><i style="left:531px;top:68px;height:359px;background:linear-gradient(#565656 0.5px,#5c5c5c 61.5px,#656565 110.5px,#b8b8b8 318.5px,#bbb 330.5px,#b4b4b4 331.5px,#bbb 336.5px,#c0c0c0 345.5px,#c0c0c0 349.5px,#bdbdbd 351.5px,#a2a2a2 358.5px)"></i><i style="left:533px;top:68px;height:360px;background:linear-gradient(#565656 0.5px,#5c5c5c 62.5px,#656565 110.5px,#b7b7b7 316.5px,#bbb 332.5px,#b5b5b5 333.5px,#bababa 336.5px,#c0c0c0 347.5px,#bebebe 349.5px,#b2b2b2 353.5px,#9a9a9a 359.5px)"></i><i style="left:535px;top:68px;height:361px;background:linear-gradient(#565656 0.5px,#5c5c5c 63.5px,#656565 111.5px,#b9b9b9 322.5px,#bbb 334.5px,#b6b6b6 335.5px,#bcbcbc 340.5px,#c0c0c0 348.5px,#c0c0c0 351.5px,#bbb 353.5px,#b3b3b3 355.5px,#999 360.5px)"></i><i style="left:537px;top:68px;height:361px;background:linear-gradient(#565656 0.5px,#5c5c5c 63.5px,#656565 112.5px,#b8b8b8 320.5px,#bcbcbc 335.5px,#b6b6b6 336.5px,#bcbcbc 341.5px,#c0c0c0 350.5px,#bcbcbc 352.5px,#b0b0b0 355.5px,#959595 360.5px)"></i><i style="left:539px;top:68px;height:362px;background:linear-gradient(#565656 0.5px,#5c5c5c 64.5px,#656565 113.5px,#b7b7b7 318.5px,#bcbcbc 336.5px,#b6b6b6 337.5px,#bcbcbc 342.5px,#c0c0c0 351.5px,#bfbfbf 353.5px,#b7b7b7 355.5px,#909090 361.5px)"></i><i style="left:541px;top:68px;height:363px;background:linear-gradient(#565656 0.5px,#5c5c5c 65.5px,#656565 113.5px,#b9b9b9 324.5px,#bcbcbc 336.5px,#b5b5b5 337.5px,#bbb 341.5px,#bfbfbf 348.5px,#bfbfbf 351.5px,#b7b7b7 354.5px,#a3a3a3 359.5px,#949494 362.5px)"></i><i style="left:543px;top:68px;height:364px;background:linear-gradient(#565656 0.5px,#5b5b5b 58.5px,#656565 114.5px,#b8b8b8 322.5px,#bcbcbc 337.5px,#b6b6b6 338.5px,#bfbfbf 348.5px,#bfbfbf 351.5px,#b9b9b9 354.5px,#adadad 357.5px,#8e8e8e 363.5px)"></i><i style="left:545px;top:68px;height:364px;background:linear-gradient(#565656 0.5px,#5c5c5c 66.5px,#656565 115.5px,#b8b8b8 323.5px,#bbb 337.5px,#b5b5b5 338.5px,#bbb 342.5px,#bfbfbf 349.5px,#b8b8b8 353.5px,#a6a6a6 359.5px,#979797 363.5px)"></i><i style="left:547px;top:68px;height:365px;background:linear-gradient(#565656 0.5px,#5c5c5c 67.5px,#656565 115.5px,#b7b7b7 321.5px,#bbb 337.5px,#b5b5b5 338.5px,#bcbcbc 344.5px,#c0c0c0 352.5px,#b7b7b7 356.5px,#a7a7a7 360.5px,#939393 364.5px)"></i><i style="left:549px;top:68px;height:366px;background:linear-gradient(#565656 0.5px,#5b5b5b 60.5px,#656565 116.5px,#b6b6b6 319.5px,#bbb 337.5px,#b5b5b5 338.5px,#bcbcbc 344.5px,#bfbfbf 350.5px,#bfbfbf 351.5px,#b2b2b2 357.5px,#979797 365.5px)"></i><i style="left:551px;top:68px;height:366px;background:linear-gradient(#565656 0.5px,#5c5c5c 68.5px,#656565 117.5px,#b6b6b6 320.5px,#bababa 332.5px,#bababa 337.5px,#b6b6b6 338.5px,#c0c0c0 352.5px,#bcbcbc 354.5px,#afafaf 358.5px,#909090 365.5px)"></i><i style="left:553px;top:68px;height:367px;background:linear-gradient(#565656 0.5px,#5c5c5c 69.5px,#656565 117.5px,#b8b8b8 326.5px,#bababa 337.5px,#b4b4b4 338.5px,#bababa 342.5px,#c0c0c0 353.5px,#bfbfbf 356.5px,#bababa 358.5px,#9d9d9d 366.5px)"></i><i style="left:555px;top:68px;height:368px;background:linear-gradient(#565656 0.5px,#5c5c5c 70.5px,#656565 118.5px,#b7b7b7 324.5px,#bababa 338.5px,#b4b4b4 339.5px,#bababa 343.5px,#c0c0c0 354.5px,#c0c0c0 357.5px,#bcbcbc 359.5px,#aaa 363.5px,#929292 367.5px)"></i><i style="left:557px;top:68px;height:368px;background:linear-gradient(#565656 0.5px,#5c5c5c 70.5px,#656565 119.5px,#b6b6b6 322.5px,#bbb 338.5px,#bbb 340.5px,#b6b6b6 341.5px,#bababa 344.5px,#bfbfbf 353.5px,#bfbfbf 355.5px,#b4b4b4 359.5px,#919191 367.5px)"></i><i style="left:559px;top:68px;height:369px;background:linear-gradient(#565656 0.5px,#5b5b5b 63.5px,#656565 120.5px,#b8b8b8 328.5px,#bbb 341.5px,#b6b6b6 342.5px,#bfbfbf 353.5px,#b9b9b9 358.5px,#9c9c9c 368.5px)"></i><i style="left:561px;top:68px;height:370px;background:linear-gradient(#555 0.5px,#5c5c5c 72.5px,#656565 120.5px,#b7b7b7 326.5px,#bbb 342.5px,#b5b5b5 343.5px,#bbb 347.5px,#c0c0c0 357.5px,#bebebe 361.5px,#b4b4b4 364.5px,#9c9c9c 369.5px)"></i><i style="left:563px;top:68px;height:371px;background:linear-gradient(#555 0.5px,#5b5b5b 65.5px,#656565 121.5px,#b9b9b9 332.5px,#bbb 343.5px,#b5b5b5 344.5px,#bbb 348.5px,#c0c0c0 358.5px,#c0c0c0 360.5px,#bcbcbc 362.5px,#aaa 366.5px,#919191 370.5px)"></i><i style="left:565px;top:68px;height:371px;background:linear-gradient(#555 0.5px,#5c5c5c 73.5px,#656565 122.5px,#b8b8b8 330.5px,#bbb 344.5px,#b5b5b5 345.5px,#bbb 349.5px,#bfbfbf 356.5px,#b0b0b0 362.5px,#909090 370.5px)"></i><i style="left:567px;top:68px;height:372px;background:linear-gradient(#555 0.5px,#5c5c5c 74.5px,#656565 122.5px,#b7b7b7 328.5px,#bcbcbc 345.5px,#bcbcbc 346.5px,#b7b7b7 347.5px,#bbb 350.5px,#c0c0c0 360.5px,#bfbfbf 362.5px,#b8b8b8 364.5px,#a9a9a9 367.5px,#919191 371.5px)"></i><i style="left:569px;top:68px;height:373px;background:linear-gradient(#555 0.5px,#5b5b5b 67.5px,#656565 123.5px,#b9b9b9 334.5px,#bcbcbc 347.5px,#b6b6b6 348.5px,#bbb 351.5px,#bfbfbf 358.5px,#bdbdbd 363.5px,#ababab 368.5px,#979797 372.5px)"></i><i style="left:571px;top:68px;height:374px;background:linear-gradient(#555 0.5px,#5b5b5b 68.5px,#656565 124.5px,#b8b8b8 332.5px,#bcbcbc 349.5px,#b7b7b7 350.5px,#bfbfbf 359.5px,#b7b7b7 364.5px,#9d9d9d 373.5px)"></i><i style="left:573px;top:68px;height:375px;background:linear-gradient(#555 0.5px,#5b5b5b 69.5px,#656565 125.5px,#b8b8b8 333.5px,#bcbcbc 350.5px,#b6b6b6 351.5px,#bdbdbd 357.5px,#c0c0c0 365.5px,#bbb 367.5px,#b6b6b6 368.5px,#ababab 370.5px,#8f8f8f 374.5px)"></i><i style="left:575px;top:68px;height:376px;background:linear-gradient(#555 0.5px,#5b5b5b 70.5px,#656565 126.5px,#8c8c8c 221.5px,#bdbdbd 350.5px,#bdbdbd 352.5px,#b6b6b6 353.5px,#bdbdbd 358.5px,#bfbfbf 365.5px,#b7b7b7 368.5px,#a7a7a7 372.5px,#989898 375.5px)"></i><i style="left:577px;top:68px;height:377px;background:linear-gradient(#555 0.5px,#5b5b5b 71.5px,#656565 127.5px,#bdbdbd 350.5px,#bdbdbd 354.5px,#b7b7b7 355.5px,#bebebe 361.5px,#bebebe 364.5px,#acacac 370.5px,#919191 376.5px)"></i><i style="left:579px;top:68px;height:378px;background:linear-gradient(#555 0.5px,#5b5b5b 72.5px,#656565 128.5px,#bdbdbd 351.5px,#bdbdbd 356.5px,#b8b8b8 357.5px,#bdbdbd 361.5px,#bfbfbf 369.5px,#b5b5b5 372.5px,#989898 377.5px)"></i><i style="left:581px;top:68px;height:379px;background:linear-gradient(#555 0.5px,#5b5b5b 73.5px,#656565 129.5px,#8e8e8e 229.5px,#bebebe 356.5px,#bebebe 357.5px,#b7b7b7 358.5px,#bebebe 364.5px,#bebebe 367.5px,#b3b3b3 371.5px,#959595 378.5px)"></i><i style="left:583px;top:68px;height:380px;background:linear-gradient(#555 0.5px,#5b5b5b 74.5px,#656565 130.5px,#8e8e8e 230.5px,#bebebe 356.5px,#bebebe 359.5px,#b7b7b7 360.5px,#bebebe 365.5px,#bebebe 370.5px,#b3b3b3 373.5px,#939393 379.5px)"></i><i style="left:585px;top:68px;height:381px;background:linear-gradient(#555 0.5px,#5b5b5b 75.5px,#656565 131.5px,#8e8e8e 231.5px,#bebebe 357.5px,#bebebe 361.5px,#b8b8b8 362.5px,#bcbcbc 365.5px,#bababa 367.5px,#afafaf 372.5px,#969696 380.5px)"></i><i style="left:587px;top:68px;height:382px;background:linear-gradient(#555 0.5px,#5b5b5b 76.5px,#656565 132.5px,#bebebe 357.5px,#bebebe 362.5px,#b7b7b7 363.5px,#bbb 365.5px,#bebebe 369.5px,#b6b6b6 373.5px,#9c9c9c 381.5px)"></i><i style="left:589px;top:68px;height:383px;background:linear-gradient(#545454 0.5px,#5b5b5b 77.5px,#656565 133.5px,#878787 215.5px,#bababa 346.5px,#bfbfbf 364.5px,#b8b8b8 365.5px,#bdbdbd 368.5px,#bebebe 372.5px,#bcbcbc 373.5px,#b1b1b1 376.5px,#919191 382.5px)"></i><i style="left:591px;top:68px;height:384px;background:linear-gradient(#545454 0.5px,#5b5b5b 78.5px,#656565 134.5px,#8e8e8e 234.5px,#bfbfbf 363.5px,#bfbfbf 366.5px,#b9b9b9 367.5px,#bdbdbd 370.5px,#bdbdbd 375.5px,#b4b4b4 377.5px,#8d8d8d 383.5px)"></i><i style="left:593px;top:68px;height:385px;background:linear-gradient(#545454 0.5px,#5c5c5c 87.5px,#656565 135.5px,#8c8c8c 230.5px,#c0c0c0 367.5px,#c0c0c0 369.5px,#b8b8b8 370.5px,#b5b5b5 374.5px,#b1b1b1 376.5px,#9b9b9b 384.5px)"></i><i style="left:595px;top:68px;height:386px;background:linear-gradient(#545454 0.5px,#5b5b5b 80.5px,#656565 136.5px,#c0c0c0 366.5px,#c0c0c0 370.5px,#bdbdbd 372.5px,#b3b3b3 373.5px,#aeaeae 377.5px,#969696 385.5px)"></i><i style="left:597px;top:68px;height:387px;background:linear-gradient(#545454 0.5px,#5b5b5b 81.5px,#656565 137.5px,#c1c1c1 369.5px,#c1c1c1 372.5px,#bebebe 374.5px,#b7b7b7 376.5px,#aeaeae 377.5px,#a3a3a3 381.5px,#8f8f8f 386.5px)"></i><i style="left:599px;top:68px;height:388px;background:linear-gradient(#545454 0.5px,#5b5b5b 82.5px,#656565 138.5px,#c2c2c2 373.5px,#bfbfbf 378.5px,#bbb 379.5px,#b1b1b1 380.5px,#a6a6a6 383.5px,#919191 387.5px)"></i><i style="left:601px;top:68px;height:389px;background:linear-gradient(#545454 0.5px,#5b5b5b 83.5px,#656565 140.5px,#c2c2c2 373.5px,#c1c1c1 376.5px,#b8b8b8 379.5px,#ababab 382.5px,#a1a1a1 383.5px,#8e8e8e 388.5px)"></i><i style="left:603px;top:68px;height:390px;background:linear-gradient(#545454 0.5px,#5b5b5b 84.5px,#656565 141.5px,#c2c2c2 374.5px,#c2c2c2 379.5px,#bebebe 381.5px,#b0b0b0 384.5px,#aaa 385.5px,#9e9e9e 386.5px,#909090 389.5px)"></i><i style="left:605px;top:68px;height:391px;background:linear-gradient(#545454 0.5px,#5b5b5b 85.5px,#656565 142.5px,#c2c2c2 375.5px,#bdbdbd 378.5px,#aeaeae 383.5px,#9f9f9f 387.5px,#949494 388.5px,#8f8f8f 390.5px)"></i><i style="left:607px;top:68px;height:392px;background:linear-gradient(#545454 0.5px,#5b5b5b 86.5px,#656565 143.5px,#c2c2c2 376.5px,#c2c2c2 380.5px,#bebebe 382.5px,#aeaeae 387.5px,#aaa 388.5px,#9f9f9f 389.5px,#9a9a9a 391.5px)"></i><i style="left:609px;top:68px;height:394px;background:linear-gradient(#545454 0.5px,#5b5b5b 88.5px,#656565 144.5px,#c2c2c2 377.5px,#c1c1c1 382.5px,#b8b8b8 385.5px,#a8a8a8 389.5px,#a3a3a3 390.5px,#999 391.5px,#929292 393.5px)"></i><i style="left:611px;top:68px;height:395px;background:linear-gradient(#535353 0.5px,#5b5b5b 89.5px,#656565 145.5px,#c2c2c2 378.5px,#c2c2c2 381.5px,#bababa 384.5px,#9e9e9e 391.5px,#929292 392.5px,#8c8c8c 394.5px)"></i><i style="left:613px;top:68px;height:396px;background:linear-gradient(#535353 0.5px,#5b5b5b 90.5px,#656565 146.5px,#c2c2c2 379.5px,#c2c2c2 383.5px,#bebebe 385.5px,#a2a2a2 393.5px,#979797 394.5px,#959595 395.5px)"></i><i style="left:615px;top:68px;height:396px;background:linear-gradient(#535353 0.5px,#5b5b5b 90.5px,#656565 147.5px,#c3c3c3 382.5px,#bebebe 385.5px,#a8a8a8 391.5px,#9a9a9a 394.5px,#8e8e8e 395.5px)"></i><i style="left:617px;top:68px;height:397px;background:linear-gradient(#535353 0.5px,#5b5b5b 91.5px,#656565 148.5px,#c3c3c3 383.5px,#c0c0c0 388.5px,#b8b8b8 390.5px,#919191 396.5px)"></i><i style="left:619px;top:68px;height:398px;background:linear-gradient(#535353 0.5px,#5b5b5b 92.5px,#656565 148.5px,#c3c3c3 384.5px,#bebebe 387.5px,#acacac 393.5px,#a0a0a0 396.5px,#959595 397.5px)"></i><i style="left:621px;top:68px;height:399px;background:linear-gradient(#535353 0.5px,#5b5b5b 93.5px,#656565 149.5px,#c2c2c2 382.5px,#c0c0c0 385.5px,#b2b2b2 391.5px,#9f9f9f 397.5px,#959595 398.5px)"></i><i style="left:623px;top:68px;height:400px;background:linear-gradient(#535353 0.5px,#5b5b5b 94.5px,#656565 150.5px,#c2c2c2 383.5px,#c2c2c2 388.5px,#bbb 391.5px,#adadad 394.5px,#969696 398.5px,#8a8a8a 399.5px)"></i><i style="left:625px;top:68px;height:400px;background:linear-gradient(#535353 0.5px,#5b5b5b 94.5px,#656565 151.5px,#c3c3c3 386.5px,#c1c1c1 388.5px,#b9b9b9 391.5px,#9b9b9b 398.5px,#8f8f8f 399.5px)"></i><i style="left:627px;top:68px;height:401px;background:linear-gradient(#535353 0.5px,#5b5b5b 95.5px,#656565 152.5px,#c2c2c2 384.5px,#c2c2c2 388.5px,#bbb 391.5px,#9c9c9c 399.5px,#919191 400.5px)"></i><i style="left:629px;top:68px;height:402px;background:linear-gradient(#535353 0.5px,#5b5b5b 96.5px,#656565 152.5px,#c2c2c2 385.5px,#c2c2c2 391.5px,#bebebe 393.5px,#a6a6a6 399.5px,#999 400.5px,#969696 401.5px)"></i><i style="left:631px;top:68px;height:403px;background:linear-gradient(#535353 0.5px,#5b5b5b 97.5px,#656565 153.5px,#c2c2c2 386.5px,#c2c2c2 394.5px,#aeaeae 398.5px,#a0a0a0 400.5px,#929292 401.5px,#8c8c8c 402.5px)"></i><i style="left:633px;top:68px;height:404px;background:linear-gradient(#535353 0.5px,#5b5b5b 98.5px,#656565 154.5px,#c2c2c2 387.5px,#c1c1c1 390.5px,#bababa 393.5px,#a0a0a0 400.5px,#9b9b9b 401.5px,#919191 402.5px,#8e8e8e 403.5px)"></i><i style="left:635px;top:68px;height:405px;background:linear-gradient(#535353 0.5px,#5b5b5b 99.5px,#656565 155.5px,#c2c2c2 388.5px,#c1c1c1 391.5px,#b4b4b4 396.5px,#a2a2a2 401.5px,#969696 402.5px,#919191 404.5px)"></i><i style="left:637px;top:68px;height:405px;background:linear-gradient(#535353 0.5px,#5b5b5b 99.5px,#656565 156.5px,#c2c2c2 389.5px,#c2c2c2 394.5px,#bfbfbf 396.5px,#a4a4a4 402.5px,#989898 403.5px,#959595 404.5px)"></i><i style="left:639px;top:68px;height:406px;background:linear-gradient(#535353 0.5px,#5b5b5b 100.5px,#656565 156.5px,#c2c2c2 390.5px,#c1c1c1 392.5px,#b9b9b9 396.5px,#ababab 401.5px,#a7a7a7 402.5px,#9d9d9d 403.5px,#9a9a9a 405.5px)"></i><i style="left:641px;top:68px;height:407px;background:linear-gradient(#535353 0.5px,#5b5b5b 101.5px,#656565 157.5px,#c2c2c2 390.5px,#c2c2c2 394.5px,#bfbfbf 396.5px,#ababab 402.5px,#a6a6a6 403.5px,#9c9c9c 404.5px,#969696 406.5px)"></i><i style="left:643px;top:68px;height:408px;background:linear-gradient(#535353 0.5px,#5b5b5b 102.5px,#656565 158.5px,#c2c2c2 391.5px,#c2c2c2 393.5px,#bdbdbd 396.5px,#aaa 402.5px,#a6a6a6 403.5px,#9b9b9b 404.5px,#939393 407.5px)"></i><i style="left:645px;top:68px;height:409px;background:linear-gradient(#535353 0.5px,#5b5b5b 103.5px,#656565 159.5px,#c2c2c2 392.5px,#c1c1c1 398.5px,#b3b3b3 402.5px,#a9a9a9 404.5px,#9e9e9e 405.5px,#929292 408.5px)"></i><i style="left:647px;top:68px;height:409px;background:linear-gradient(#535353 0.5px,#5b5b5b 103.5px,#656565 160.5px,#c2c2c2 393.5px,#c2c2c2 396.5px,#bcbcbc 399.5px,#a6a6a6 404.5px,#9a9a9a 405.5px,#8f8f8f 408.5px)"></i><i style="left:649px;top:68px;height:410px;background:linear-gradient(#535353 0.5px,#5b5b5b 104.5px,#656565 161.5px,#c2c2c2 394.5px,#c2c2c2 399.5px,#bfbfbf 400.5px,#a8a8a8 405.5px,#9b9b9b 406.5px,#8e8e8e 409.5px)"></i><i style="left:651px;top:68px;height:411px;background:linear-gradient(#535353 0.5px,#5b5b5b 105.5px,#656565 161.5px,#c2c2c2 395.5px,#c1c1c1 402.5px,#b5b5b5 405.5px,#a9a9a9 406.5px,#989898 410.5px)"></i><i style="left:653px;top:68px;height:412px;background:linear-gradient(#535353 0.5px,#5b5b5b 106.5px,#656565 162.5px,#c2c2c2 396.5px,#c1c1c1 403.5px,#b6b6b6 406.5px,#b1b1b1 407.5px,#a6a6a6 408.5px,#9a9a9a 411.5px)"></i><i style="left:655px;top:68px;height:413px;background:linear-gradient(#535353 0.5px,#5b5b5b 107.5px,#656565 163.5px,#c2c2c2 396.5px,#c1c1c1 399.5px,#b5b5b5 403.5px,#a1a1a1 408.5px,#959595 409.5px,#8c8c8c 412.5px)"></i><i style="left:657px;top:68px;height:414px;background:linear-gradient(#535353 0.5px,#5b5b5b 108.5px,#656565 164.5px,#c2c2c2 397.5px,#c2c2c2 403.5px,#bfbfbf 405.5px,#a9a9a9 410.5px,#9e9e9e 411.5px,#969696 413.5px)"></i><i style="left:659px;top:68px;height:415px;background:linear-gradient(#535353 0.5px,#5b5b5b 109.5px,#656565 165.5px,#c2c2c2 398.5px,#c2c2c2 403.5px,#bcbcbc 405.5px,#a0a0a0 411.5px,#939393 412.5px,#8b8b8b 414.5px)"></i><i style="left:661px;top:68px;height:416px;background:linear-gradient(#535353 0.5px,#5b5b5b 110.5px,#656565 166.5px,#c2c2c2 399.5px,#c2c2c2 401.5px,#b8b8b8 405.5px,#a1a1a1 411.5px,#9c9c9c 412.5px,#909090 413.5px,#8a8a8a 415.5px)"></i><i style="left:663px;top:68px;height:417px;background:linear-gradient(#535353 0.5px,#5b5b5b 111.5px,#656565 167.5px,#c2c2c2 400.5px,#c2c2c2 404.5px,#bbb 407.5px,#a6a6a6 413.5px,#9b9b9b 414.5px,#969696 416.5px)"></i><i style="left:665px;top:68px;height:418px;background:linear-gradient(#535353 0.5px,#535353 23.5px,#5b5b5b 112.5px,#656565 168.5px,#c2c2c2 401.5px,#c2c2c2 406.5px,#bebebe 408.5px,#a3a3a3 415.5px,#989898 416.5px,#959595 417.5px)"></i><i style="left:667px;top:68px;height:419px;background:linear-gradient(#535353 0.5px,#535353 24.5px,#5b5b5b 113.5px,#656565 169.5px,#c2c2c2 402.5px,#c2c2c2 406.5px,#bbb 409.5px,#ababab 413.5px,#9c9c9c 416.5px,#919191 417.5px,#8e8e8e 418.5px)"></i><i style="left:669px;top:68px;height:420px;background:linear-gradient(#535353 0.5px,#535353 25.5px,#5b5b5b 114.5px,#656565 170.5px,#c2c2c2 403.5px,#c2c2c2 409.5px,#bfbfbf 411.5px,#a4a4a4 417.5px,#989898 418.5px,#949494 419.5px)"></i><i style="left:671px;top:68px;height:421px;background:linear-gradient(#535353 0.5px,#535353 26.5px,#5b5b5b 115.5px,#656565 171.5px,#c2c2c2 404.5px,#c0c0c0 408.5px,#b4b4b4 413.5px,#a4a4a4 418.5px,#999 419.5px,#989898 420.5px)"></i><i style="left:673px;top:68px;height:422px;background:linear-gradient(#535353 0.5px,#535353 27.5px,#5b5b5b 116.5px,#656565 172.5px,#c2c2c2 405.5px,#c1c1c1 408.5px,#b1b1b1 413.5px,#969696 419.5px,#8a8a8a 420.5px,#878787 421.5px)"></i><i style="left:675px;top:68px;height:423px;background:linear-gradient(#535353 0.5px,#535353 28.5px,#5b5b5b 117.5px,#656565 173.5px,#c2c2c2 406.5px,#bdbdbd 410.5px,#acacac 416.5px,#9e9e9e 420.5px,#939393 421.5px,#919191 422.5px)"></i><i style="left:677px;top:68px;height:424px;background:linear-gradient(#535353 0.5px,#535353 29.5px,#5b5b5b 118.5px,#656565 174.5px,#c2c2c2 407.5px,#c2c2c2 411.5px,#bebebe 413.5px,#a2a2a2 420.5px,#9d9d9d 421.5px,#909090 422.5px,#8d8d8d 423.5px)"></i><i style="left:679px;top:68px;height:425px;background:linear-gradient(#535353 0.5px,#535353 31.5px,#5b5b5b 119.5px,#656565 176.5px,#c2c2c2 408.5px,#c2c2c2 412.5px,#b9b9b9 415.5px,#9e9e9e 421.5px,#989898 422.5px,#8b8b8b 423.5px,#878787 424.5px)"></i><i style="left:681px;top:68px;height:427px;background:linear-gradient(#535353 0.5px,#535353 32.5px,#5b5b5b 121.5px,#656565 177.5px,#c2c2c2 410.5px,#c2c2c2 413.5px,#bcbcbc 416.5px,#a0a0a0 424.5px,#959595 425.5px,#939393 426.5px)"></i><i style="left:683px;top:68px;height:428px;background:linear-gradient(#535353 0.5px,#535353 34.5px,#5b5b5b 122.5px,#656565 179.5px,#c2c2c2 411.5px,#c1c1c1 414.5px,#b1b1b1 420.5px,#9e9e9e 425.5px,#929292 426.5px,#909090 427.5px)"></i><i style="left:685px;top:68px;height:430px;background:linear-gradient(#535353 0.5px,#535353 35.5px,#575757 84.5px,#5c5c5c 132.5px,#656565 180.5px,#c2c2c2 413.5px,#c2c2c2 417.5px,#b9b9b9 420.5px,#9a9a9a 427.5px,#8e8e8e 428.5px,#8a8a8a 429.5px)"></i><i style="left:687px;top:68px;height:431px;background:linear-gradient(#535353 0.5px,#535353 37.5px,#575757 85.5px,#5c5c5c 133.5px,#656565 182.5px,#c2c2c2 414.5px,#c1c1c1 423.5px,#b8b8b8 425.5px,#ababab 427.5px,#a3a3a3 428.5px,#949494 429.5px,#8e8e8e 430.5px)"></i><i style="left:689px;top:68px;height:433px;background:linear-gradient(#535353 0.5px,#535353 38.5px,#575757 87.5px,#5c5c5c 135.5px,#656565 183.5px,#c2c2c2 416.5px,#c1c1c1 420.5px,#b9b9b9 423.5px,#999 431.5px,#8e8e8e 432.5px)"></i><i style="left:691px;top:68px;height:434px;background:linear-gradient(#535353 0.5px,#535353 40.5px,#575757 88.5px,#5c5c5c 136.5px,#656565 185.5px,#c3c3c3 420.5px,#c2c2c2 422.5px,#bababa 425.5px,#a6a6a6 430.5px,#979797 433.5px)"></i><i style="left:693px;top:505px;height:305px;background:linear-gradient(#9e9e9e 0.5px,#9b9b9b 1.5px,#9c9c9c 2.5px,#aaa 5.5px,#b0b0b0 7.5px,#b2b2b2 13.5px,#b4b4b4 37.5px,#b0b0b0 100.5px,#a3a3a3 133.5px,#989898 147.5px,#7e7e7e 171.5px,#6f6f6f 190.5px,#646464 208.5px,#5b5b5b 238.5px,#565656 304.5px)"></i><i style="left:695px;top:506px;height:304px;background:linear-gradient(#acacac 0.5px,#aaa 1.5px,#a1a1a1 2.5px,#9e9e9e 4.5px,#aeaeae 8.5px,#b1b1b1 10.5px,#b2b2b2 14.5px,#b4b4b4 38.5px,#b0b0b0 100.5px,#a4a4a4 132.5px,#999 146.5px,#7f7f7f 170.5px,#646464 208.5px,#5b5b5b 238.5px,#565656 303.5px)"></i><i style="left:697px;top:507px;height:303px;background:linear-gradient(#afafaf 0.5px,#adadad 3.5px,#a3a3a3 4.5px,#9f9f9f 5.5px,#9f9f9f 6.5px,#afafaf 10.5px,#b2b2b2 14.5px,#b4b4b4 38.5px,#b0b0b0 100.5px,#a5a5a5 131.5px,#9a9a9a 145.5px,#7c7c7c 174.5px,#656565 206.5px,#5b5b5b 238.5px,#565656 302.5px)"></i><i style="left:699px;top:508px;height:302px;background:linear-gradient(#afafaf 0.5px,#b3b3b3 3.5px,#adadad 5.5px,#a2a2a2 6.5px,#9f9f9f 8.5px,#adadad 11.5px,#b1b1b1 13.5px,#b3b3b3 20.5px,#b4b4b4 38.5px,#b0b0b0 101.5px,#a5a5a5 131.5px,#979797 149.5px,#7d7d7d 173.5px,#656565 206.5px,#5b5b5b 238.5px,#565656 301.5px)"></i><i style="left:701px;top:509px;height:301px;background:linear-gradient(#aeaeae 0.5px,#b1b1b1 2.5px,#b0b0b0 4.5px,#ababab 5.5px,#a0a0a0 6.5px,#9e9e9e 7.5px,#a0a0a0 8.5px,#aeaeae 11.5px,#b2b2b2 15.5px,#b4b4b4 38.5px,#b0b0b0 101.5px,#a5a5a5 131.5px,#979797 149.5px,#7d7d7d 173.5px,#646464 209.5px,#5a5a5a 245.5px,#565656 300.5px)"></i><i style="left:703px;top:511px;height:299px;background:linear-gradient(#afafaf 0.5px,#b0b0b0 2.5px,#aeaeae 3.5px,#a3a3a3 4.5px,#9f9f9f 5.5px,#9f9f9f 6.5px,#afafaf 10.5px,#b2b2b2 14.5px,#b4b4b4 37.5px,#b0b0b0 100.5px,#a3a3a3 133.5px,#989898 147.5px,#7e7e7e 171.5px,#6f6f6f 190.5px,#646464 208.5px,#5b5b5b 238.5px,#565656 298.5px)"></i><i style="left:705px;top:512px;height:298px;background:linear-gradient(#afafaf 0.5px,#aeaeae 2.5px,#ababab 3.5px,#a1a1a1 4.5px,#9e9e9e 5.5px,#b0b0b0 10.5px,#b2b2b2 14.5px,#b4b4b4 37.5px,#b0b0b0 100.5px,#a4a4a4 132.5px,#999 146.5px,#7f7f7f 170.5px,#6f6f6f 190.5px,#646464 208.5px,#5b5b5b 238.5px,#565656 297.5px)"></i><i style="left:707px;top:513px;height:297px;background:linear-gradient(#aeaeae 0.5px,#acacac 2.5px,#a3a3a3 3.5px,#9e9e9e 5.5px,#aeaeae 9.5px,#b2b2b2 14.5px,#b4b4b4 38.5px,#b0b0b0 100.5px,#a5a5a5 131.5px,#999 146.5px,#808080 169.5px,#656565 206.5px,#5b5b5b 238.5px,#565656 296.5px)"></i><i style="left:709px;top:514px;height:296px;background:linear-gradient(#adadad 0.5px,#a9a9a9 2.5px,#a0a0a0 3.5px,#9e9e9e 4.5px,#9f9f9f 5.5px,#adadad 8.5px,#b2b2b2 14.5px,#b4b4b4 38.5px,#b0b0b0 100.5px,#a5a5a5 131.5px,#969696 150.5px,#7c7c7c 174.5px,#656565 206.5px,#5b5b5b 238.5px,#565656 295.5px)"></i><i style="left:711px;top:515px;height:295px;background:linear-gradient(#ababab 0.5px,#aaa 1.5px,#a1a1a1 2.5px,#9e9e9e 4.5px,#a0a0a0 5.5px,#aeaeae 8.5px,#b1b1b1 10.5px,#b2b2b2 14.5px,#b4b4b4 38.5px,#b0b0b0 101.5px,#a5a5a5 131.5px,#979797 149.5px,#7d7d7d 173.5px,#656565 206.5px,#5b5b5b 239.5px,#565656 294.5px)"></i><i style="left:713px;top:516px;height:294px;background:linear-gradient(#a9a9a9 0.5px,#a7a7a7 1.5px,#9e9e9e 2.5px,#9d9d9d 3.5px,#a2a2a2 5.5px,#afafaf 8.5px,#b2b2b2 14.5px,#b4b4b4 38.5px,#b0b0b0 101.5px,#a3a3a3 134.5px,#989898 148.5px,#7e7e7e 172.5px,#6f6f6f 191.5px,#646464 209.5px,#5b5b5b 239.5px,#565656 293.5px)"></i><i style="left:715px;top:518px;height:292px;background:linear-gradient(#b0b0b0 0.5px,#b1b1b1 3.5px,#adadad 4.5px,#a2a2a2 5.5px,#9f9f9f 6.5px,#9f9f9f 7.5px,#afafaf 11.5px,#b2b2b2 14.5px,#b4b4b4 37.5px,#b0b0b0 100.5px,#a4a4a4 132.5px,#989898 147.5px,#7f7f7f 170.5px,#6f6f6f 190.5px,#646464 208.5px,#5b5b5b 238.5px,#565656 291.5px)"></i><i style="left:717px;top:519px;height:291px;background:linear-gradient(#afafaf 0.5px,#b5b5b5 3.5px,#b5b5b5 6.5px,#aeaeae 8.5px,#a3a3a3 9.5px,#a0a0a0 11.5px,#b0b0b0 15.5px,#b3b3b3 20.5px,#b4b4b4 38.5px,#b0b0b0 100.5px,#a4a4a4 132.5px,#999 146.5px,#7f7f7f 170.5px,#646464 208.5px,#5b5b5b 238.5px,#565656 290.5px)"></i><i style="left:719px;top:520px;height:290px;background:linear-gradient(#afafaf 0.5px,#b6b6b6 4.5px,#b5b5b5 9.5px,#aeaeae 11.5px,#a3a3a3 12.5px,#a0a0a0 14.5px,#b0b0b0 18.5px,#b3b3b3 21.5px,#b4b4b4 38.5px,#b0b0b0 100.5px,#a5a5a5 131.5px,#9a9a9a 145.5px,#7c7c7c 174.5px,#656565 206.5px,#5b5b5b 238.5px,#565656 289.5px)"></i><i style="left:721px;top:522px;height:288px;background:linear-gradient(#b0b0b0 0.5px,#b6b6b6 3.5px,#b7b7b7 9.5px,#b5b5b5 11.5px,#afafaf 13.5px,#a4a4a4 14.5px,#a0a0a0 15.5px,#a0a0a0 16.5px,#b1b1b1 20.5px,#b4b4b4 26.5px,#b0b0b0 100.5px,#a4a4a4 132.5px,#989898 147.5px,#7e7e7e 171.5px,#6f6f6f 190.5px,#646464 208.5px,#5b5b5b 238.5px,#565656 287.5px)"></i><i style="left:723px;top:523px;height:287px;background:linear-gradient(#afafaf 0.5px,#b6b6b6 4.5px,#b7b7b7 13.5px,#b6b6b6 14.5px,#afafaf 16.5px,#a4a4a4 17.5px,#a1a1a1 19.5px,#b1b1b1 23.5px,#b4b4b4 27.5px,#b0b0b0 101.5px,#a5a5a5 131.5px,#979797 149.5px,#7d7d7d 173.5px,#656565 206.5px,#5b5b5b 239.5px,#565656 286.5px)"></i><i style="left:725px;top:525px;height:285px;background:linear-gradient(#afafaf 0.5px,#b6b6b6 4.5px,#b7b7b7 15.5px,#b6b6b6 16.5px,#afafaf 18.5px,#a4a4a4 19.5px,#a1a1a1 21.5px,#afafaf 24.5px,#b4b4b4 28.5px,#b0b0b0 100.5px,#a4a4a4 132.5px,#999 146.5px,#7f7f7f 170.5px,#646464 208.5px,#5b5b5b 238.5px,#575757 284.5px)"></i><i style="left:727px;top:526px;height:284px;background:linear-gradient(#aeaeae 0.5px,#b6b6b6 4.5px,#b8b8b8 18.5px,#b2b2b2 21.5px,#a7a7a7 22.5px,#a2a2a2 23.5px,#a1a1a1 24.5px,#b1b1b1 28.5px,#b4b4b4 30.5px,#b0b0b0 101.5px,#a3a3a3 134.5px,#979797 149.5px,#7e7e7e 172.5px,#6f6f6f 191.5px,#646464 209.5px,#5b5b5b 239.5px,#575757 283.5px)"></i><i style="left:729px;top:528px;height:282px;background:linear-gradient(#afafaf 0.5px,#b6b6b6 4.5px,#b8b8b8 21.5px,#b4b4b4 23.5px,#afafaf 24.5px,#a4a4a4 25.5px,#a2a2a2 26.5px,#a3a3a3 27.5px,#b0b0b0 30.5px,#b4b4b4 33.5px,#b0b0b0 100.5px,#a5a5a5 131.5px,#9a9a9a 145.5px,#7c7c7c 174.5px,#656565 206.5px,#5b5b5b 238.5px,#575757 281.5px)"></i><i style="left:731px;top:530px;height:280px;background:linear-gradient(#b0b0b0 0.5px,#b6b6b6 3.5px,#b9b9b9 23.5px,#b2b2b2 26.5px,#a7a7a7 27.5px,#a2a2a2 29.5px,#b1b1b1 33.5px,#b4b4b4 36.5px,#b0b0b0 100.5px,#a4a4a4 132.5px,#989898 147.5px,#7e7e7e 171.5px,#6f6f6f 190.5px,#646464 208.5px,#5b5b5b 238.5px,#575757 279.5px)"></i><i style="left:733px;top:531px;height:279px;background:linear-gradient(#afafaf 0.5px,#b6b6b6 4.5px,#b9b9b9 27.5px,#b4b4b4 29.5px,#afafaf 30.5px,#a4a4a4 31.5px,#a2a2a2 32.5px,#a3a3a3 33.5px,#b0b0b0 36.5px,#b3b3b3 38.5px,#b0b0b0 101.5px,#a5a5a5 131.5px,#979797 149.5px,#7d7d7d 173.5px,#656565 206.5px,#5b5b5b 239.5px,#575757 278.5px)"></i><i style="left:735px;top:533px;height:277px;background:linear-gradient(#afafaf 0.5px,#b6b6b6 4.5px,#bababa 28.5px,#b5b5b5 31.5px,#b1b1b1 32.5px,#a6a6a6 33.5px,#a2a2a2 34.5px,#a2a2a2 35.5px,#afafaf 38.5px,#b3b3b3 40.5px,#b0b0b0 100.5px,#a4a4a4 132.5px,#999 146.5px,#7f7f7f 170.5px,#666 204.5px,#5b5b5b 238.5px,#575757 276.5px)"></i><i style="left:737px;top:534px;height:276px;background:linear-gradient(#aeaeae 0.5px,#b6b6b6 4.5px,#bababa 32.5px,#b3b3b3 35.5px,#a8a8a8 36.5px,#a3a3a3 37.5px,#a2a2a2 38.5px,#a4a4a4 39.5px,#b1b1b1 42.5px,#b3b3b3 44.5px,#b0b0b0 101.5px,#a3a3a3 134.5px,#979797 149.5px,#7e7e7e 172.5px,#666 205.5px,#5b5b5b 239.5px,#575757 275.5px)"></i><i style="left:739px;top:536px;height:274px;background:linear-gradient(#afafaf 0.5px,#b5b5b5 3.5px,#b7b7b7 7.5px,#bababa 34.5px,#b4b4b4 37.5px,#b0b0b0 38.5px,#a5a5a5 39.5px,#a2a2a2 41.5px,#afafaf 44.5px,#b3b3b3 46.5px,#b0b0b0 100.5px,#a5a5a5 131.5px,#9a9a9a 145.5px,#7c7c7c 174.5px,#656565 206.5px,#5b5b5b 238.5px,#585858 273.5px)"></i><i style="left:741px;top:537px;height:273px;background:linear-gradient(#aeaeae 0.5px,#b6b6b6 4.5px,#bababa 36.5px,#b8b8b8 39.5px,#b5b5b5 40.5px,#b1b1b1 41.5px,#a6a6a6 42.5px,#a1a1a1 44.5px,#aeaeae 47.5px,#b3b3b3 50.5px,#b0b0b0 101.5px,#a5a5a5 131.5px,#979797 149.5px,#7d7d7d 173.5px,#676767 203.5px,#5b5b5b 239.5px,#585858 272.5px)"></i><i style="left:743px;top:539px;height:271px;background:linear-gradient(#b0b0b0 0.5px,#b6b6b6 3.5px,#bababa 37.5px,#b6b6b6 42.5px,#aeaeae 44.5px,#a3a3a3 45.5px,#a1a1a1 46.5px,#afafaf 50.5px,#b3b3b3 53.5px,#b0b0b0 100.5px,#a4a4a4 132.5px,#989898 147.5px,#7e7e7e 171.5px,#666 204.5px,#5b5b5b 238.5px,#585858 270.5px)"></i><i style="left:745px;top:540px;height:270px;background:linear-gradient(#afafaf 0.5px,#b5b5b5 3.5px,#b7b7b7 7.5px,#bababa 27.5px,#b9b9b9 44.5px,#b0b0b0 47.5px,#a5a5a5 48.5px,#a1a1a1 49.5px,#a1a1a1 50.5px,#aeaeae 53.5px,#b2b2b2 55.5px,#b0b0b0 100.5px,#a5a5a5 131.5px,#999 146.5px,#808080 169.5px,#656565 206.5px,#5b5b5b 238.5px,#585858 269.5px)"></i><i style="left:747px;top:541px;height:269px;background:linear-gradient(#afafaf 0.5px,#b5b5b5 3.5px,#b7b7b7 7.5px,#bababa 27.5px,#b9b9b9 45.5px,#b4b4b4 48.5px,#afafaf 49.5px,#a4a4a4 50.5px,#a1a1a1 51.5px,#a2a2a2 52.5px,#afafaf 55.5px,#b2b2b2 57.5px,#b0b0b0 101.5px,#a5a5a5 131.5px,#979797 149.5px,#7d7d7d 173.5px,#656565 206.5px,#5b5b5b 239.5px,#585858 268.5px)"></i><i style="left:749px;top:542px;height:268px;background:linear-gradient(#aeaeae 0.5px,#b6b6b6 4.5px,#b7b7b7 8.5px,#bababa 27.5px,#b9b9b9 47.5px,#b3b3b3 50.5px,#aeaeae 51.5px,#a3a3a3 52.5px,#a1a1a1 53.5px,#a2a2a2 54.5px,#afafaf 57.5px,#b2b2b2 59.5px,#b0b0b0 101.5px,#a3a3a3 134.5px,#989898 148.5px,#7e7e7e 172.5px,#666 205.5px,#5b5b5b 239.5px,#585858 267.5px)"></i><i style="left:751px;top:544px;height:266px;background:linear-gradient(#afafaf 0.5px,#b5b5b5 3.5px,#b7b7b7 7.5px,#bababa 27.5px,#b9b9b9 48.5px,#b2b2b2 51.5px,#a7a7a7 52.5px,#a2a2a2 53.5px,#a1a1a1 54.5px,#a3a3a3 55.5px,#b0b0b0 58.5px,#b2b2b2 60.5px,#b0b0b0 100.5px,#a4a4a4 132.5px,#999 146.5px,#7f7f7f 170.5px,#666 204.5px,#5b5b5b 238.5px,#585858 265.5px)"></i><i style="left:753px;top:545px;height:265px;background:linear-gradient(#afafaf 0.5px,#b5b5b5 3.5px,#b7b7b7 7.5px,#bababa 27.5px,#b9b9b9 49.5px,#b5b5b5 52.5px,#b1b1b1 53.5px,#a6a6a6 54.5px,#a1a1a1 56.5px,#b0b0b0 60.5px,#b2b2b2 62.5px,#b0b0b0 101.5px,#a5a5a5 131.5px,#969696 150.5px,#7c7c7c 174.5px,#656565 206.5px,#5b5b5b 238.5px,#595959 264.5px)"></i><i style="left:755px;top:546px;height:264px;background:linear-gradient(#aeaeae 0.5px,#b6b6b6 4.5px,#b7b7b7 8.5px,#bababa 27.5px,#b9b9b9 51.5px,#b4b4b4 54.5px,#b0b0b0 55.5px,#a4a4a4 56.5px,#a1a1a1 58.5px,#aeaeae 61.5px,#b2b2b2 64.5px,#b0b0b0 101.5px,#a3a3a3 134.5px,#979797 149.5px,#7e7e7e 172.5px,#666 205.5px,#5b5b5b 239.5px,#595959 263.5px)"></i><i style="left:757px;top:548px;height:262px;background:linear-gradient(#b0b0b0 0.5px,#b6b6b6 3.5px,#b7b7b7 7.5px,#bababa 26.5px,#b9b9b9 50.5px,#b6b6b6 53.5px,#adadad 55.5px,#a3a3a3 56.5px,#a0a0a0 57.5px,#a2a2a2 58.5px,#afafaf 61.5px,#b2b2b2 63.5px,#b0b0b0 100.5px,#a4a4a4 132.5px,#999 146.5px,#7f7f7f 170.5px,#666 204.5px,#5b5b5b 238.5px,#595959 261.5px)"></i><i style="left:759px;top:549px;height:261px;background:linear-gradient(#afafaf 0.5px,#b5b5b5 3.5px,#b7b7b7 7.5px,#bababa 27.5px,#b9b9b9 51.5px,#b5b5b5 54.5px,#b1b1b1 55.5px,#a5a5a5 56.5px,#a1a1a1 57.5px,#a1a1a1 58.5px,#a3a3a3 59.5px,#b0b0b0 62.5px,#b2b2b2 64.5px,#b0b0b0 100.5px,#a5a5a5 131.5px,#9a9a9a 145.5px,#7c7c7c 174.5px,#656565 206.5px,#5b5b5b 238.5px,#595959 260.5px)"></i><i style="left:761px;top:550px;height:260px;background:linear-gradient(#aeaeae 0.5px,#b6b6b6 4.5px,#b7b7b7 8.5px,#bababa 27.5px,#b9b9b9 52.5px,#b3b3b3 55.5px,#afafaf 56.5px,#a4a4a4 57.5px,#a1a1a1 59.5px,#aeaeae 62.5px,#b2b2b2 64.5px,#b0b0b0 101.5px,#a5a5a5 131.5px,#979797 149.5px,#7d7d7d 173.5px,#676767 203.5px,#5c5c5c 235.5px,#595959 259.5px)"></i><i style="left:763px;top:552px;height:258px;background:linear-gradient(#b0b0b0 0.5px,#b6b6b6 3.5px,#b7b7b7 7.5px,#bababa 26.5px,#b9b9b9 51.5px,#b5b5b5 54.5px,#b1b1b1 55.5px,#a6a6a6 56.5px,#a0a0a0 58.5px,#acacac 61.5px,#b2b2b2 64.5px,#aeaeae 106.5px,#a4a4a4 132.5px,#989898 147.5px,#7e7e7e 171.5px,#666 204.5px,#5b5b5b 238.5px,#595959 257.5px)"></i><i style="left:765px;top:553px;height:257px;background:linear-gradient(#afafaf 0.5px,#b5b5b5 3.5px,#b7b7b7 7.5px,#bababa 27.5px,#b9b9b9 52.5px,#b4b4b4 55.5px,#afafaf 56.5px,#a4a4a4 57.5px,#a1a1a1 58.5px,#a4a4a4 60.5px,#aeaeae 62.5px,#b2b2b2 65.5px,#b0b0b0 100.5px,#acacac 112.5px,#a5a5a5 131.5px,#999 146.5px,#808080 169.5px,#656565 206.5px,#5b5b5b 238.5px,#595959 256.5px)"></i><i style="left:767px;top:554px;height:256px;background:linear-gradient(#afafaf 0.5px,#b5b5b5 3.5px,#b7b7b7 7.5px,#bababa 27.5px,#b9b9b9 52.5px,#b4b4b4 55.5px,#afafaf 56.5px,#a4a4a4 57.5px,#a1a1a1 59.5px,#aeaeae 62.5px,#b2b2b2 65.5px,#b0b0b0 101.5px,#a5a5a5 131.5px,#979797 149.5px,#7d7d7d 173.5px,#656565 206.5px,#5b5b5b 239.5px,#595959 255.5px)"></i><i style="left:769px;top:556px;height:254px;background:linear-gradient(#b0b0b0 0.5px,#b6b6b6 3.5px,#b7b7b7 7.5px,#bababa 26.5px,#b9b9b9 51.5px,#b3b3b3 54.5px,#aeaeae 55.5px,#a3a3a3 56.5px,#a1a1a1 57.5px,#a1a1a1 58.5px,#aeaeae 61.5px,#b2b2b2 63.5px,#aeaeae 106.5px,#a3a3a3 133.5px,#989898 147.5px,#7e7e7e 171.5px,#666 204.5px,#5b5b5b 238.5px,#5a5a5a 253.5px)"></i><i style="left:771px;top:557px;height:253px;background:linear-gradient(#afafaf 0.5px,#b5b5b5 3.5px,#b7b7b7 7.5px,#bababa 27.5px,#b9b9b9 50.5px,#b8b8b8 52.5px,#b3b3b3 54.5px,#aeaeae 55.5px,#a3a3a3 56.5px,#a0a0a0 57.5px,#a2a2a2 58.5px,#afafaf 61.5px,#b2b2b2 63.5px,#b0b0b0 100.5px,#adadad 109.5px,#a4a4a4 132.5px,#999 146.5px,#7f7f7f 170.5px,#666 204.5px,#5b5b5b 238.5px,#5a5a5a 252.5px)"></i><i style="left:773px;top:558px;height:252px;background:linear-gradient(#afafaf 0.5px,#b5b5b5 3.5px,#b7b7b7 7.5px,#bababa 27.5px,#b9b9b9 50.5px,#b6b6b6 53.5px,#adadad 55.5px,#a3a3a3 56.5px,#a0a0a0 57.5px,#a2a2a2 58.5px,#afafaf 61.5px,#b2b2b2 63.5px,#b0b0b0 101.5px,#a5a5a5 131.5px,#969696 150.5px,#7c7c7c 174.5px,#656565 206.5px,#5b5b5b 238.5px,#5a5a5a 251.5px)"></i><i style="left:775px;top:559px;height:251px;background:linear-gradient(#aeaeae 0.5px,#b6b6b6 4.5px,#b7b7b7 8.5px,#bababa 27.5px,#b9b9b9 49.5px,#b4b4b4 52.5px,#afafaf 53.5px,#a4a4a4 54.5px,#a1a1a1 56.5px,#aeaeae 59.5px,#b2b2b2 61.5px,#afafaf 104.5px,#a3a3a3 134.5px,#979797 149.5px,#7e7e7e 172.5px,#666 205.5px,#5c5c5c 235.5px,#5a5a5a 250.5px)"></i><i style="left:777px;top:561px;height:249px;background:linear-gradient(#b0b0b0 0.5px,#b6b6b6 3.5px,#bababa 37.5px,#b8b8b8 47.5px,#b4b4b4 49.5px,#ababab 50.5px,#aaa 51.5px,#b2b2b2 56.5px,#b1b1b1 90.5px,#adadad 109.5px,#a4a4a4 132.5px,#999 146.5px,#7f7f7f 170.5px,#666 204.5px,#5b5b5b 238.5px,#5a5a5a 248.5px)"></i><i style="left:779px;top:562px;height:248px;background:linear-gradient(#afafaf 0.5px,#b5b5b5 3.5px,#b7b7b7 7.5px,#bababa 38.5px,#b8b8b8 44.5px,#b6b6b6 45.5px,#adadad 46.5px,#aaa 48.5px,#b0b0b0 51.5px,#b3b3b3 55.5px,#b0b0b0 100.5px,#acacac 112.5px,#a5a5a5 131.5px,#9a9a9a 145.5px,#7c7c7c 174.5px,#656565 206.5px,#5a5a5a 247.5px)"></i><i style="left:781px;top:564px;height:246px;background:linear-gradient(#b0b0b0 0.5px,#b6b6b6 3.5px,#bababa 36.5px,#b9b9b9 39.5px,#b5b5b5 41.5px,#adadad 42.5px,#aaa 44.5px,#b2b2b2 48.5px,#b3b3b3 50.5px,#aeaeae 106.5px,#a3a3a3 133.5px,#989898 147.5px,#7e7e7e 171.5px,#666 204.5px,#5a5a5a 245.5px)"></i><i style="left:783px;top:565px;height:245px;background:linear-gradient(#afafaf 0.5px,#b5b5b5 3.5px,#b7b7b7 7.5px,#bababa 34.5px,#b5b5b5 38.5px,#acacac 39.5px,#ababab 40.5px,#acacac 42.5px,#b3b3b3 46.5px,#b0b0b0 100.5px,#acacac 112.5px,#a5a5a5 131.5px,#9a9a9a 145.5px,#7c7c7c 174.5px,#656565 206.5px,#5b5b5b 244.5px)"></i><i style="left:785px;top:566px;height:244px;background:linear-gradient(#aeaeae 0.5px,#b6b6b6 4.5px,#bababa 27.5px,#b8b8b8 34.5px,#b6b6b6 35.5px,#adadad 36.5px,#ababab 37.5px,#acacac 39.5px,#b3b3b3 43.5px,#b1b1b1 91.5px,#aeaeae 107.5px,#a3a3a3 134.5px,#989898 148.5px,#7e7e7e 172.5px,#666 205.5px,#5b5b5b 243.5px)"></i><i style="left:787px;top:568px;height:242px;background:linear-gradient(#afafaf 0.5px,#b6b6b6 4.5px,#bababa 28.5px,#b6b6b6 31.5px,#aeaeae 32.5px,#ababab 33.5px,#acacac 35.5px,#b3b3b3 39.5px,#b1b1b1 90.5px,#acacac 112.5px,#a5a5a5 131.5px,#9a9a9a 145.5px,#7c7c7c 174.5px,#6a6a6a 198.5px,#656565 206.5px,#5b5b5b 241.5px)"></i><i style="left:789px;top:570px;height:240px;background:linear-gradient(#b0b0b0 0.5px,#b6b6b6 3.5px,#b9b9b9 25.5px,#b6b6b6 27.5px,#aeaeae 28.5px,#ababab 30.5px,#b2b2b2 34.5px,#b4b4b4 37.5px,#b1b1b1 90.5px,#aeaeae 106.5px,#a3a3a3 133.5px,#989898 147.5px,#7e7e7e 171.5px,#666 204.5px,#5b5b5b 239.5px)"></i><i style="left:791px;top:571px;height:239px;background:linear-gradient(#afafaf 0.5px,#b6b6b6 4.5px,#b9b9b9 21.5px,#b4b4b4 25.5px,#acacac 26.5px,#ababab 27.5px,#b4b4b4 33.5px,#b0b0b0 100.5px,#acacac 112.5px,#a5a5a5 131.5px,#9a9a9a 145.5px,#7c7c7c 174.5px,#6a6a6a 198.5px,#656565 206.5px,#5b5b5b 238.5px)"></i><i style="left:793px;top:572px;height:238px;background:linear-gradient(#aeaeae 0.5px,#b6b6b6 4.5px,#b8b8b8 14.5px,#b6b6b6 21.5px,#b4b4b4 22.5px,#acacac 23.5px,#aaa 24.5px,#b4b4b4 30.5px,#b1b1b1 91.5px,#aeaeae 107.5px,#a3a3a3 134.5px,#989898 148.5px,#7e7e7e 172.5px,#6b6b6b 197.5px,#646464 209.5px,#5c5c5c 237.5px)"></i><i style="left:795px;top:574px;height:236px;background:linear-gradient(#afafaf 0.5px,#b6b6b6 4.5px,#b8b8b8 14.5px,#b4b4b4 18.5px,#ababab 19.5px,#aaa 20.5px,#b4b4b4 27.5px,#b4b4b4 38.5px,#b0b0b0 100.5px,#a6a6a6 129.5px,#9a9a9a 145.5px,#7c7c7c 174.5px,#707070 189.5px,#656565 206.5px,#5c5c5c 235.5px)"></i><i style="left:797px;top:576px;height:234px;background:linear-gradient(#b0b0b0 0.5px,#b6b6b6 3.5px,#b7b7b7 12.5px,#b4b4b4 14.5px,#acacac 15.5px,#a9a9a9 17.5px,#b0b0b0 20.5px,#b4b4b4 26.5px,#b1b1b1 90.5px,#aeaeae 106.5px,#a3a3a3 133.5px,#989898 147.5px,#7e7e7e 171.5px,#6b6b6b 196.5px,#646464 208.5px,#5d5d5d 233.5px)"></i><i style="left:799px;top:577px;height:233px;background:linear-gradient(#afafaf 0.5px,#b5b5b5 3.5px,#b7b7b7 8.5px,#b2b2b2 12.5px,#aaa 13.5px,#a9a9a9 14.5px,#a9a9a9 15.5px,#b2b2b2 19.5px,#b3b3b3 21.5px,#b4b4b4 38.5px,#b0b0b0 100.5px,#a6a6a6 129.5px,#9a9a9a 145.5px,#7c7c7c 174.5px,#707070 189.5px,#656565 206.5px,#5d5d5d 232.5px)"></i><i style="left:801px;top:578px;height:232px;background:linear-gradient(#aeaeae 0.5px,#b6b6b6 4.5px,#b5b5b5 8.5px,#b3b3b3 9.5px,#aaa 10.5px,#a8a8a8 12.5px,#b2b2b2 17.5px,#b4b4b4 27.5px,#afafaf 104.5px,#a5a5a5 131.5px,#979797 149.5px,#7d7d7d 173.5px,#676767 203.5px,#5e5e5e 231.5px)"></i><i style="left:803px;top:580px;height:230px;background:linear-gradient(#b0b0b0 0.5px,#b5b5b5 4.5px,#b1b1b1 6.5px,#a9a9a9 7.5px,#a8a8a8 8.5px,#b1b1b1 13.5px,#b4b4b4 26.5px,#b0b0b0 100.5px,#a8a8a8 123.5px,#a4a4a4 132.5px,#989898 147.5px,#7e7e7e 171.5px,#6f6f6f 190.5px,#646464 208.5px,#5e5e5e 229.5px)"></i><i style="left:805px;top:581px;height:229px;background:linear-gradient(#afafaf 0.5px,#b1b1b1 3.5px,#a9a9a9 4.5px,#a7a7a7 5.5px,#b1b1b1 11.5px,#b4b4b4 27.5px,#b1b1b1 90.5px,#acacac 112.5px,#a5a5a5 131.5px,#999 146.5px,#808080 169.5px,#707070 189.5px,#656565 206.5px,#5e5e5e 228.5px)"></i><i style="left:807px;top:582px;height:228px;background:linear-gradient(#aeaeae 0.5px,#afafaf 3.5px,#a8a8a8 4.5px,#a7a7a7 5.5px,#b1b1b1 11.5px,#b4b4b4 27.5px,#b0b0b0 101.5px,#a5a5a5 131.5px,#979797 149.5px,#7d7d7d 173.5px,#717171 188.5px,#656565 206.5px,#5f5f5f 227.5px)"></i><i style="left:809px;top:584px;height:226px;background:linear-gradient(#aeaeae 0.5px,#aeaeae 1.5px,#a7a7a7 2.5px,#a7a7a7 4.5px,#b1b1b1 9.5px,#b4b4b4 26.5px,#b1b1b1 90.5px,#aeaeae 106.5px,#a3a3a3 133.5px,#989898 147.5px,#7e7e7e 171.5px,#6b6b6b 196.5px,#646464 208.5px,#5f5f5f 225.5px)"></i><i style="left:811px;top:585px;height:225px;background:linear-gradient(#adadad 0.5px,#acacac 1.5px,#a6a6a6 2.5px,#b1b1b1 9.5px,#b4b4b4 27.5px,#b1b1b1 90.5px,#adadad 109.5px,#a4a4a4 132.5px,#999 146.5px,#7f7f7f 170.5px,#707070 189.5px,#646464 208.5px,#606060 224.5px)"></i><i style="left:813px;top:586px;height:224px;background:linear-gradient(#ababab 0.5px,#a5a5a5 1.5px,#a5a5a5 2.5px,#b1b1b1 9.5px,#b4b4b4 27.5px,#b0b0b0 101.5px,#a5a5a5 131.5px,#969696 150.5px,#7c7c7c 174.5px,#707070 189.5px,#656565 206.5px,#606060 223.5px)"></i><i style="left:815px;top:587px;height:223px;background:linear-gradient(#aaa 0.5px,#a3a3a3 1.5px,#a3a3a3 2.5px,#b0b0b0 7.5px,#b4b4b4 27.5px,#b0b0b0 101.5px,#a5a5a5 131.5px,#979797 149.5px,#7e7e7e 172.5px,#727272 187.5px,#666 205.5px,#606060 222.5px)"></i><i style="left:817px;top:589px;height:221px;background:linear-gradient(#aaa 0.5px,#a4a4a4 1.5px,#afafaf 6.5px,#b1b1b1 8.5px,#b4b4b4 26.5px,#b0b0b0 100.5px,#a4a4a4 132.5px,#999 146.5px,#7f7f7f 170.5px,#6f6f6f 190.5px,#646464 208.5px,#616161 220.5px)"></i><i style="left:819px;top:590px;height:220px;background:linear-gradient(#acacac 0.5px,#a5a5a5 1.5px,#a5a5a5 2.5px,#b1b1b1 9.5px,#b4b4b4 27.5px,#b1b1b1 90.5px,#acacac 112.5px,#a5a5a5 131.5px,#9a9a9a 145.5px,#7c7c7c 174.5px,#707070 189.5px,#656565 206.5px,#616161 219.5px)"></i><i style="left:821px;top:591px;height:219px;background:linear-gradient(#acacac 0.5px,#acacac 1.5px,#a6a6a6 2.5px,#a6a6a6 3.5px,#b0b0b0 8.5px,#b4b4b4 27.5px,#afafaf 104.5px,#a3a3a3 134.5px,#979797 149.5px,#7e7e7e 172.5px,#727272 187.5px,#666 205.5px,#626262 218.5px)"></i><i style="left:823px;top:593px;height:217px;background:linear-gradient(#adadad 0.5px,#adadad 1.5px,#a6a6a6 2.5px,#b1b1b1 9.5px,#b4b4b4 27.5px,#b1b1b1 90.5px,#adadad 109.5px,#a4a4a4 132.5px,#999 146.5px,#7f7f7f 170.5px,#737373 185.5px,#666 204.5px,#626262 216.5px)"></i><i style="left:825px;top:594px;height:216px;background:linear-gradient(#adadad 0.5px,#adadad 2.5px,#a7a7a7 3.5px,#a7a7a7 4.5px,#b1b1b1 10.5px,#b4b4b4 27.5px,#b0b0b0 101.5px,#a5a5a5 131.5px,#979797 149.5px,#7d7d7d 173.5px,#717171 188.5px,#656565 206.5px,#626262 215.5px)"></i><i style="left:827px;top:596px;height:214px;background:linear-gradient(#aeaeae 0.5px,#aeaeae 1.5px,#a7a7a7 2.5px,#a7a7a7 4.5px,#b0b0b0 8.5px,#b4b4b4 26.5px,#b1b1b1 90.5px,#aeaeae 106.5px,#a4a4a4 132.5px,#989898 147.5px,#7e7e7e 171.5px,#6d6d6d 193.5px,#636363 213.5px)"></i><i style="left:829px;top:597px;height:213px;background:linear-gradient(#aeaeae 0.5px,#afafaf 2.5px,#a8a8a8 3.5px,#a7a7a7 5.5px,#b1b1b1 10.5px,#b4b4b4 27.5px,#b1b1b1 90.5px,#b0b0b0 100.5px,#a6a6a6 129.5px,#9a9a9a 145.5px,#7c7c7c 174.5px,#6a6a6a 198.5px,#636363 212.5px)"></i><i style="left:831px;top:598px;height:212px;background:linear-gradient(#adadad 0.5px,#aeaeae 2.5px,#a7a7a7 3.5px,#a7a7a7 5.5px,#b1b1b1 10.5px,#b4b4b4 27.5px,#afafaf 104.5px,#a3a3a3 134.5px,#979797 149.5px,#7e7e7e 172.5px,#6f6f6f 191.5px,#646464 211.5px)"></i><i style="left:833px;top:600px;height:210px;background:linear-gradient(#adadad 0.5px,#adadad 1.5px,#a6a6a6 2.5px,#a7a7a7 4.5px,#b1b1b1 9.5px,#b4b4b4 27.5px,#b1b1b1 90.5px,#adadad 109.5px,#a4a4a4 132.5px,#999 146.5px,#7f7f7f 170.5px,#707070 189.5px,#646464 209.5px)"></i><i style="left:835px;top:601px;height:209px;background:linear-gradient(#acacac 0.5px,#acacac 1.5px,#a6a6a6 2.5px,#a6a6a6 3.5px,#b1b1b1 9.5px,#b4b4b4 27.5px,#b0b0b0 101.5px,#a5a5a5 131.5px,#979797 149.5px,#7d7d7d 173.5px,#717171 188.5px,#656565 208.5px)"></i><i style="left:837px;top:603px;height:207px;background:linear-gradient(#ababab 0.5px,#a5a5a5 1.5px,#a5a5a5 2.5px,#b0b0b0 7.5px,#b4b4b4 26.5px,#b1b1b1 90.5px,#aeaeae 106.5px,#a4a4a4 132.5px,#989898 147.5px,#7e7e7e 171.5px,#656565 206.5px)"></i><i style="left:839px;top:604px;height:206px;background:linear-gradient(#ababab 0.5px,#a4a4a4 1.5px,#a4a4a4 2.5px,#b0b0b0 7.5px,#b4b4b4 27.5px,#b1b1b1 90.5px,#acacac 112.5px,#a5a5a5 131.5px,#9a9a9a 145.5px,#7c7c7c 174.5px,#666 205.5px)"></i><i style="left:841px;top:605px;height:205px;background:linear-gradient(#aaa 0.5px,#a3a3a3 1.5px,#b0b0b0 7.5px,#b4b4b4 27.5px,#b0b0b0 101.5px,#a3a3a3 134.5px,#979797 149.5px,#7d7d7d 173.5px,#676767 204.5px)"></i><i style="left:843px;top:607px;height:203px;background:linear-gradient(#a3a3a3 0.5px,#a5a5a5 2.5px,#aeaeae 5.5px,#b1b1b1 8.5px,#b4b4b4 26.5px,#b0b0b0 100.5px,#a4a4a4 132.5px,#989898 147.5px,#7f7f7f 170.5px,#6f6f6f 190.5px,#686868 202.5px)"></i><i style="width:1px;left:845px;top:608px;height:202px;background:linear-gradient(#a2a2a2 0.5px,#a4a4a4 2.5px,#aeaeae 5.5px,#b1b1b1 8.5px,#b4b4b4 27.5px,#b0b0b0 100.5px,#a5a5a5 131.5px,#9a9a9a 145.5px,#7c7c7c 174.5px,#696969 201.5px)"></i><i style="left:846px;top:68px;height:541px;background:linear-gradient(#525252 0.5px,#535353 198.5px,#585858 274.5px,#646464 323.5px,#7b7b7b 375.5px,#9b9b9b 432.5px,#acacac 475.5px,#b4b4b4 511.5px,#b4b4b4 525.5px,#b2b2b2 526.5px,#9c9c9c 532.5px,#767676 540.5px)"></i><i style="left:848px;top:68px;height:543px;background:linear-gradient(#525252 0.5px,#535353 200.5px,#585858 276.5px,#646464 325.5px,#797979 373.5px,#9c9c9c 436.5px,#acacac 477.5px,#b4b4b4 513.5px,#b4b4b4 530.5px,#999 536.5px,#767676 542.5px)"></i><i style="left:850px;top:68px;height:545px;background:linear-gradient(#525252 0.5px,#535353 202.5px,#585858 278.5px,#636363 324.5px,#767676 369.5px,#9d9d9d 440.5px,#ababab 475.5px,#b4b4b4 515.5px,#b4b4b4 521.5px,#acacac 525.5px,#9a9a9a 532.5px,#757575 544.5px)"></i><i style="left:852px;top:68px;height:546px;background:linear-gradient(#525252 0.5px,#535353 204.5px,#585858 280.5px,#636363 326.5px,#747474 366.5px,#9d9d9d 442.5px,#ababab 477.5px,#b4b4b4 516.5px,#b4b4b4 524.5px,#b2b2b2 525.5px,#999 533.5px,#696969 545.5px)"></i><i style="left:854px;top:68px;height:548px;background:linear-gradient(#525252 0.5px,#535353 205.5px,#585858 281.5px,#646464 330.5px,#7a7a7a 380.5px,#9c9c9c 441.5px,#acacac 482.5px,#b4b4b4 518.5px,#b3b3b3 521.5px,#a6a6a6 529.5px,#808080 547.5px)"></i><i style="left:856px;top:68px;height:550px;background:linear-gradient(#525252 0.5px,#535353 207.5px,#585858 283.5px,#636363 329.5px,#767676 374.5px,#9c9c9c 443.5px,#acacac 484.5px,#b4b4b4 520.5px,#b3b3b3 524.5px,#a9a9a9 529.5px,#8f8f8f 539.5px,#717171 549.5px)"></i><i style="left:858px;top:68px;height:552px;background:linear-gradient(#525252 0.5px,#535353 209.5px,#585858 285.5px,#636363 331.5px,#777 378.5px,#9d9d9d 447.5px,#ababab 482.5px,#b4b4b4 521.5px,#b4b4b4 538.5px,#a2a2a2 543.5px,#787878 551.5px)"></i><i style="left:860px;top:68px;height:553px;background:linear-gradient(#525252 0.5px,#535353 211.5px,#585858 287.5px,#636363 333.5px,#7b7b7b 387.5px,#9b9b9b 444.5px,#ababab 484.5px,#b4b4b4 523.5px,#b4b4b4 537.5px,#9d9d9d 545.5px,#838383 552.5px)"></i><i style="left:862px;top:68px;height:555px;background:linear-gradient(#525252 0.5px,#535353 212.5px,#585858 288.5px,#646464 337.5px,#7a7a7a 387.5px,#9c9c9c 448.5px,#acacac 489.5px,#b4b4b4 525.5px,#b4b4b4 533.5px,#adadad 536.5px,#8a8a8a 546.5px,#696969 554.5px)"></i><i style="left:864px;top:68px;height:557px;background:linear-gradient(#525252 0.5px,#535353 214.5px,#585858 290.5px,#636363 336.5px,#767676 381.5px,#9c9c9c 450.5px,#acacac 491.5px,#b4b4b4 527.5px,#b3b3b3 539.5px,#959595 547.5px,#696969 556.5px)"></i><i style="left:866px;top:68px;height:558px;background:linear-gradient(#525252 0.5px,#535353 216.5px,#585858 292.5px,#636363 338.5px,#7b7b7b 392.5px,#9b9b9b 449.5px,#ababab 489.5px,#b4b4b4 528.5px,#b4b4b4 533.5px,#afafaf 537.5px,#959595 549.5px,#808080 557.5px)"></i><i style="left:868px;top:68px;height:560px;background:linear-gradient(#525252 0.5px,#535353 217.5px,#585858 293.5px,#646464 342.5px,#797979 390.5px,#9c9c9c 453.5px,#acacac 494.5px,#b4b4b4 530.5px,#b3b3b3 533.5px,#a5a5a5 540.5px,#868686 552.5px,#717171 559.5px)"></i><i style="left:870px;top:68px;height:562px;background:linear-gradient(#525252 0.5px,#535353 219.5px,#585858 295.5px,#636363 341.5px,#747474 381.5px,#9d9d9d 457.5px,#ababab 492.5px,#b4b4b4 531.5px,#b2b2b2 534.5px,#a1a1a1 542.5px,#6d6d6d 561.5px)"></i><i style="left:872px;top:68px;height:563px;background:linear-gradient(#525252 0.5px,#535353 220.5px,#585858 296.5px,#646464 345.5px,#7a7a7a 395.5px,#9c9c9c 456.5px,#acacac 497.5px,#b4b4b4 533.5px,#b2b2b2 539.5px,#9f9f9f 548.5px,#7a7a7a 562.5px)"></i><i style="left:874px;top:68px;height:565px;background:linear-gradient(#525252 0.5px,#535353 222.5px,#585858 298.5px,#636363 344.5px,#767676 389.5px,#9c9c9c 458.5px,#acacac 499.5px,#b4b4b4 535.5px,#b4b4b4 538.5px,#a4a4a4 545.5px,#898989 554.5px,#676767 564.5px)"></i><i style="left:876px;top:68px;height:566px;background:linear-gradient(#525252 0.5px,#535353 224.5px,#585858 300.5px,#636363 346.5px,#7b7b7b 400.5px,#9b9b9b 457.5px,#ababab 497.5px,#b4b4b4 536.5px,#b2b2b2 540.5px,#a9a9a9 545.5px,#777 565.5px)"></i><i style="left:878px;top:68px;height:568px;background:linear-gradient(#525252 0.5px,#535353 225.5px,#585858 301.5px,#636363 347.5px,#767676 392.5px,#9c9c9c 461.5px,#acacac 502.5px,#b4b4b4 538.5px,#b4b4b4 542.5px,#ababab 547.5px,#929292 557.5px,#757575 567.5px)"></i><i style="left:880px;top:68px;height:570px;background:linear-gradient(#525252 0.5px,#535353 227.5px,#585858 303.5px,#636363 349.5px,#747474 389.5px,#9d9d9d 465.5px,#ababab 500.5px,#b4b4b4 539.5px,#b4b4b4 555.5px,#a2a2a2 561.5px,#818181 569.5px)"></i><i style="left:882px;top:68px;height:571px;background:linear-gradient(#525252 0.5px,#535353 228.5px,#585858 304.5px,#646464 353.5px,#7a7a7a 403.5px,#9c9c9c 464.5px,#acacac 505.5px,#b4b4b4 541.5px,#b4b4b4 557.5px,#acacac 560.5px,#a0a0a0 563.5px,#7f7f7f 570.5px)"></i><i style="left:884px;top:68px;height:573px;background:linear-gradient(#525252 0.5px,#535353 230.5px,#585858 306.5px,#636363 352.5px,#767676 397.5px,#9c9c9c 466.5px,#acacac 507.5px,#b4b4b4 543.5px,#b3b3b3 558.5px,#a0a0a0 563.5px,#747474 572.5px)"></i><i style="left:886px;top:68px;height:574px;background:linear-gradient(#525252 0.5px,#535353 232.5px,#585858 307.5px,#636363 354.5px,#7b7b7b 408.5px,#9b9b9b 465.5px,#ababab 505.5px,#b4b4b4 544.5px,#b4b4b4 549.5px,#ababab 554.5px,#9c9c9c 560.5px,#757575 573.5px)"></i><i style="left:888px;top:68px;height:576px;background:linear-gradient(#525252 0.5px,#535353 233.5px,#585858 309.5px,#646464 358.5px,#797979 406.5px,#9c9c9c 469.5px,#acacac 510.5px,#b4b4b4 546.5px,#b4b4b4 556.5px,#b2b2b2 557.5px,#a0a0a0 563.5px,#717171 575.5px)"></i><i style="left:890px;top:68px;height:578px;background:linear-gradient(#525252 0.5px,#535353 235.5px,#585858 311.5px,#636363 357.5px,#767676 402.5px,#9d9d9d 473.5px,#ababab 508.5px,#b4b4b4 548.5px,#b4b4b4 560.5px,#9e9e9e 567.5px,#757575 577.5px)"></i><i style="left:892px;top:68px;height:579px;background:linear-gradient(#525252 0.5px,#535353 237.5px,#585858 313.5px,#636363 359.5px,#747474 399.5px,#9d9d9d 475.5px,#ababab 510.5px,#b4b4b4 549.5px,#b2b2b2 555.5px,#a8a8a8 560.5px,#797979 578.5px)"></i><i style="left:894px;top:68px;height:581px;background:linear-gradient(#525252 0.5px,#535353 238.5px,#585858 314.5px,#646464 363.5px,#7a7a7a 413.5px,#9c9c9c 474.5px,#acacac 515.5px,#b4b4b4 551.5px,#b4b4b4 565.5px,#b2b2b2 566.5px,#ababab 568.5px,#939393 573.5px,#6b6b6b 580.5px)"></i><i style="left:896px;top:68px;height:583px;background:linear-gradient(#525252 0.5px,#535353 240.5px,#585858 316.5px,#636363 362.5px,#767676 407.5px,#9c9c9c 476.5px,#acacac 517.5px,#b4b4b4 553.5px,#b2b2b2 559.5px,#a8a8a8 564.5px,#979797 571.5px,#787878 582.5px)"></i><i style="left:898px;top:68px;height:585px;background:linear-gradient(#525252 0.5px,#535353 242.5px,#585858 318.5px,#636363 364.5px,#747474 404.5px,#9d9d9d 480.5px,#ababab 515.5px,#b4b4b4 554.5px,#b3b3b3 566.5px,#9e9e9e 573.5px,#727272 584.5px)"></i><i style="left:900px;top:68px;height:586px;background:linear-gradient(#525252 0.5px,#535353 243.5px,#585858 319.5px,#646464 368.5px,#7b7b7b 420.5px,#9b9b9b 477.5px,#acacac 520.5px,#b4b4b4 556.5px,#b3b3b3 564.5px,#9a9a9a 575.5px,#7e7e7e 585.5px)"></i><i style="left:902px;top:68px;height:588px;background:linear-gradient(#525252 0.5px,#535353 245.5px,#585858 321.5px,#636363 367.5px,#767676 412.5px,#9c9c9c 481.5px,#acacac 522.5px,#b4b4b4 558.5px,#b3b3b3 576.5px,#9e9e9e 581.5px,#7e7e7e 587.5px)"></i><i style="left:904px;top:68px;height:590px;background:linear-gradient(#525252 0.5px,#535353 247.5px,#585858 323.5px,#636363 369.5px,#777 416.5px,#9d9d9d 485.5px,#ababab 520.5px,#b4b4b4 559.5px,#b4b4b4 563.5px,#adadad 568.5px,#9d9d9d 576.5px,#7e7e7e 589.5px)"></i><i style="left:906px;top:68px;height:591px;background:linear-gradient(#525252 0.5px,#535353 249.5px,#585858 325.5px,#636363 371.5px,#7b7b7b 425.5px,#9b9b9b 482.5px,#ababab 522.5px,#b4b4b4 561.5px,#b4b4b4 570.5px,#b2b2b2 572.5px,#a1a1a1 579.5px,#7f7f7f 590.5px)"></i><i style="left:908px;top:68px;height:593px;background:linear-gradient(#525252 0.5px,#535353 250.5px,#585858 326.5px,#646464 375.5px,#797979 423.5px,#9c9c9c 486.5px,#acacac 527.5px,#b4b4b4 563.5px,#b4b4b4 577.5px,#9f9f9f 584.5px,#7f7f7f 592.5px)"></i><i style="left:910px;top:68px;height:595px;background:linear-gradient(#525252 0.5px,#535353 252.5px,#585858 328.5px,#636363 374.5px,#767676 419.5px,#9c9c9c 488.5px,#acacac 529.5px,#b4b4b4 565.5px,#b4b4b4 575.5px,#a4a4a4 582.5px,#7e7e7e 594.5px)"></i><i style="left:912px;top:68px;height:597px;background:linear-gradient(#525252 0.5px,#535353 254.5px,#585858 330.5px,#636363 376.5px,#747474 416.5px,#9d9d9d 492.5px,#ababab 527.5px,#b4b4b4 566.5px,#b3b3b3 584.5px,#a5a5a5 588.5px,#7f7f7f 596.5px)"></i><i style="left:914px;top:68px;height:598px;background:linear-gradient(#525252 0.5px,#535353 256.5px,#585858 331.5px,#636363 378.5px,#7b7b7b 432.5px,#9b9b9b 489.5px,#ababab 529.5px,#b4b4b4 568.5px,#b4b4b4 583.5px,#9e9e9e 589.5px,#787878 597.5px)"></i><i style="left:916px;top:68px;height:600px;background:linear-gradient(#525252 0.5px,#535353 257.5px,#585858 333.5px,#646464 382.5px,#7a7a7a 432.5px,#9c9c9c 493.5px,#acacac 534.5px,#b4b4b4 570.5px,#b3b3b3 587.5px,#aaa 590.5px,#848484 599.5px)"></i><i style="left:918px;top:68px;height:602px;background:linear-gradient(#525252 0.5px,#535353 259.5px,#585858 335.5px,#636363 381.5px,#767676 426.5px,#9c9c9c 495.5px,#acacac 536.5px,#b4b4b4 572.5px,#b4b4b4 581.5px,#afafaf 584.5px,#949494 593.5px,#777 601.5px)"></i><i style="left:920px;top:68px;height:604px;background:linear-gradient(#525252 0.5px,#535353 261.5px,#585858 337.5px,#636363 383.5px,#767676 428.5px,#9c9c9c 497.5px,#acacac 538.5px,#b4b4b4 574.5px,#b4b4b4 579.5px,#acacac 584.5px,#979797 594.5px,#818181 603.5px)"></i><i style="left:922px;top:68px;height:606px;background:linear-gradient(#525252 0.5px,#535353 263.5px,#585858 339.5px,#636363 385.5px,#747474 425.5px,#9d9d9d 501.5px,#ababab 536.5px,#b4b4b4 575.5px,#b4b4b4 586.5px,#b2b2b2 587.5px,#9e9e9e 594.5px,#767676 605.5px)"></i><i style="left:924px;top:68px;height:607px;background:linear-gradient(#525252 0.5px,#535353 265.5px,#585858 340.5px,#636363 387.5px,#7b7b7b 441.5px,#9b9b9b 498.5px,#ababab 538.5px,#b4b4b4 577.5px,#b4b4b4 594.5px,#b2b2b2 595.5px,#969696 600.5px,#6b6b6b 606.5px)"></i><i style="left:926px;top:68px;height:609px;background:linear-gradient(#525252 0.5px,#535353 266.5px,#585858 342.5px,#646464 391.5px,#7a7a7a 441.5px,#9c9c9c 502.5px,#acacac 543.5px,#b4b4b4 579.5px,#b4b4b4 593.5px,#a3a3a3 599.5px,#828282 608.5px)"></i><i style="left:928px;top:68px;height:611px;background:linear-gradient(#525252 0.5px,#535353 268.5px,#585858 344.5px,#636363 390.5px,#767676 435.5px,#9c9c9c 504.5px,#acacac 545.5px,#b4b4b4 581.5px,#b4b4b4 590.5px,#a5a5a5 597.5px,#7f7f7f 610.5px)"></i><i style="left:930px;top:68px;height:613px;background:linear-gradient(#525252 0.5px,#535353 270.5px,#585858 346.5px,#636363 392.5px,#767676 437.5px,#9c9c9c 506.5px,#acacac 547.5px,#b4b4b4 583.5px,#b4b4b4 589.5px,#ababab 594.5px,#8b8b8b 606.5px,#787878 612.5px)"></i><i style="left:932px;top:68px;height:615px;background:linear-gradient(#525252 0.5px,#535353 272.5px,#585858 348.5px,#636363 394.5px,#747474 434.5px,#9d9d9d 510.5px,#ababab 545.5px,#b4b4b4 584.5px,#b4b4b4 600.5px,#a5a5a5 605.5px,#818181 614.5px)"></i><i style="left:934px;top:68px;height:616px;background:linear-gradient(#525252 0.5px,#535353 274.5px,#585858 349.5px,#636363 396.5px,#7b7b7b 450.5px,#9b9b9b 507.5px,#ababab 547.5px,#b4b4b4 586.5px,#b4b4b4 591.5px,#b1b1b1 593.5px,#9e9e9e 602.5px,#7c7c7c 615.5px)"></i><i style="left:936px;top:68px;height:618px;background:linear-gradient(#525252 0.5px,#535353 275.5px,#585858 351.5px,#646464 400.5px,#7a7a7a 450.5px,#9c9c9c 511.5px,#acacac 552.5px,#b4b4b4 588.5px,#b2b2b2 593.5px,#a4a4a4 600.5px,#767676 617.5px)"></i><i style="left:938px;top:68px;height:620px;background:linear-gradient(#525252 0.5px,#535353 277.5px,#585858 353.5px,#646464 402.5px,#7a7a7a 452.5px,#9c9c9c 513.5px,#acacac 554.5px,#b4b4b4 590.5px,#ababab 597.5px,#999 606.5px,#7a7a7a 619.5px)"></i><i style="left:940px;top:68px;height:622px;background:linear-gradient(#525252 0.5px,#535353 279.5px,#585858 355.5px,#646464 404.5px,#797979 452.5px,#9c9c9c 515.5px,#acacac 556.5px,#b4b4b4 592.5px,#b4b4b4 605.5px,#a3a3a3 611.5px,#7c7c7c 621.5px)"></i><i style="left:942px;top:68px;height:624px;background:linear-gradient(#525252 0.5px,#535353 281.5px,#585858 357.5px,#636363 403.5px,#767676 448.5px,#9c9c9c 517.5px,#acacac 558.5px,#b4b4b4 594.5px,#b4b4b4 597.5px,#a6a6a6 604.5px,#919191 612.5px,#707070 623.5px)"></i><i style="left:944px;top:68px;height:626px;background:linear-gradient(#525252 0.5px,#535353 283.5px,#585858 359.5px,#636363 405.5px,#767676 450.5px,#9c9c9c 519.5px,#acacac 560.5px,#b4b4b4 596.5px,#b3b3b3 608.5px,#a1a1a1 615.5px,#808080 625.5px)"></i><i style="left:946px;top:68px;height:628px;background:linear-gradient(#525252 0.5px,#535353 285.5px,#585858 361.5px,#636363 407.5px,#777 454.5px,#9d9d9d 523.5px,#ababab 558.5px,#b4b4b4 597.5px,#b4b4b4 603.5px,#ababab 607.5px,#929292 615.5px,#666 627.5px)"></i><i style="left:948px;top:68px;height:630px;background:linear-gradient(#525252 0.5px,#535353 287.5px,#585858 363.5px,#636363 409.5px,#747474 449.5px,#9d9d9d 525.5px,#ababab 560.5px,#b4b4b4 599.5px,#b2b2b2 608.5px,#9e9e9e 618.5px,#828282 629.5px)"></i><i style="left:950px;top:68px;height:631px;background:linear-gradient(#525252 0.5px,#535353 289.5px,#585858 365.5px,#636363 411.5px,#747474 451.5px,#9d9d9d 527.5px,#ababab 562.5px,#b4b4b4 601.5px,#b3b3b3 619.5px,#9c9c9c 625.5px,#848484 630.5px)"></i><i style="left:952px;top:68px;height:633px;background:linear-gradient(#525252 0.5px,#535353 291.5px,#585858 366.5px,#636363 413.5px,#7b7b7b 467.5px,#9b9b9b 524.5px,#ababab 564.5px,#b4b4b4 603.5px,#b4b4b4 618.5px,#a6a6a6 623.5px,#848484 632.5px)"></i><i style="left:954px;top:68px;height:635px;background:linear-gradient(#525252 0.5px,#535353 292.5px,#585858 368.5px,#646464 417.5px,#7a7a7a 467.5px,#9c9c9c 528.5px,#acacac 569.5px,#b4b4b4 605.5px,#b3b3b3 622.5px,#acacac 624.5px,#9d9d9d 627.5px,#737373 634.5px)"></i><i style="left:956px;top:68px;height:637px;background:linear-gradient(#525252 0.5px,#535353 294.5px,#585858 370.5px,#646464 419.5px,#7a7a7a 469.5px,#9c9c9c 530.5px,#acacac 571.5px,#b4b4b4 607.5px,#b1b1b1 611.5px,#a7a7a7 617.5px,#7d7d7d 636.5px)"></i><i style="left:958px;top:68px;height:639px;background:linear-gradient(#525252 0.5px,#535353 296.5px,#585858 372.5px,#646464 421.5px,#797979 469.5px,#9c9c9c 532.5px,#acacac 573.5px,#b4b4b4 609.5px,#a5a5a5 618.5px,#757575 638.5px)"></i><i style="left:960px;top:68px;height:641px;background:linear-gradient(#525252 0.5px,#535353 298.5px,#585858 374.5px,#646464 423.5px,#797979 471.5px,#9c9c9c 534.5px,#acacac 575.5px,#b4b4b4 611.5px,#b3b3b3 615.5px,#aaa 619.5px,#878787 631.5px,#686868 640.5px)"></i><i style="left:962px;top:68px;height:643px;background:linear-gradient(#525252 0.5px,#535353 300.5px,#585858 376.5px,#646464 425.5px,#797979 473.5px,#9c9c9c 536.5px,#acacac 577.5px,#b4b4b4 613.5px,#afafaf 618.5px,#a2a2a2 626.5px,#828282 642.5px)"></i><i style="left:964px;top:68px;height:645px;background:linear-gradient(#525252 0.5px,#535353 302.5px,#585858 378.5px,#646464 427.5px,#797979 475.5px,#9c9c9c 538.5px,#acacac 579.5px,#b4b4b4 615.5px,#b4b4b4 627.5px,#b2b2b2 628.5px,#9a9a9a 635.5px,#727272 644.5px)"></i><i style="left:966px;top:68px;height:647px;background:linear-gradient(#525252 0.5px,#535353 304.5px,#585858 380.5px,#646464 429.5px,#797979 477.5px,#9c9c9c 540.5px,#acacac 581.5px,#b4b4b4 617.5px,#b3b3b3 619.5px,#a3a3a3 629.5px,#818181 646.5px)"></i><i style="left:968px;top:68px;height:649px;background:linear-gradient(#525252 0.5px,#535353 306.5px,#585858 382.5px,#646464 431.5px,#797979 479.5px,#9c9c9c 542.5px,#acacac 583.5px,#b4b4b4 619.5px,#b4b4b4 631.5px,#b2b2b2 632.5px,#9c9c9c 638.5px,#6b6b6b 648.5px)"></i><i style="left:970px;top:68px;height:651px;background:linear-gradient(#525252 0.5px,#535353 308.5px,#585858 384.5px,#646464 433.5px,#797979 481.5px,#9c9c9c 544.5px,#acacac 585.5px,#b4b4b4 621.5px,#b3b3b3 637.5px,#9c9c9c 643.5px,#797979 650.5px)"></i><i style="left:972px;top:68px;height:653px;background:linear-gradient(#525252 0.5px,#535353 310.5px,#585858 386.5px,#646464 435.5px,#7a7a7a 485.5px,#9c9c9c 546.5px,#acacac 587.5px,#b4b4b4 623.5px,#b4b4b4 634.5px,#b1b1b1 636.5px,#909090 645.5px,#707070 652.5px)"></i><i style="left:974px;top:68px;height:655px;background:linear-gradient(#525252 0.5px,#535353 312.5px,#585858 388.5px,#636363 434.5px,#767676 479.5px,#9c9c9c 548.5px,#acacac 589.5px,#b4b4b4 625.5px,#b0b0b0 629.5px,#a4a4a4 636.5px,#7d7d7d 654.5px)"></i><i style="left:976px;top:68px;height:656px;background:linear-gradient(#525252 0.5px,#535353 313.5px,#585858 389.5px,#646464 438.5px,#7b7b7b 490.5px,#9b9b9b 547.5px,#acacac 590.5px,#b4b4b4 626.5px,#b4b4b4 630.5px,#ababab 635.5px,#9e9e9e 640.5px,#6f6f6f 655.5px)"></i><i style="left:978px;top:68px;height:658px;background:linear-gradient(#525252 0.5px,#535353 315.5px,#585858 391.5px,#636363 437.5px,#767676 482.5px,#9c9c9c 551.5px,#acacac 592.5px,#b4b4b4 628.5px,#b3b3b3 631.5px,#aaa 636.5px,#949494 645.5px,#727272 657.5px)"></i><i style="left:980px;top:68px;height:659px;background:linear-gradient(#525252 0.5px,#535353 316.5px,#585858 392.5px,#646464 441.5px,#7b7b7b 493.5px,#9b9b9b 550.5px,#acacac 593.5px,#b4b4b4 629.5px,#b2b2b2 632.5px,#9d9d9d 643.5px,#797979 658.5px)"></i><i style="left:982px;top:68px;height:661px;background:linear-gradient(#525252 0.5px,#535353 318.5px,#585858 394.5px,#636363 440.5px,#767676 485.5px,#9c9c9c 554.5px,#acacac 595.5px,#b4b4b4 631.5px,#b4b4b4 641.5px,#a6a6a6 647.5px,#7c7c7c 660.5px)"></i><i style="left:984px;top:68px;height:662px;background:linear-gradient(#525252 0.5px,#535353 319.5px,#585858 395.5px,#646464 444.5px,#7b7b7b 496.5px,#9b9b9b 553.5px,#acacac 596.5px,#b4b4b4 632.5px,#b4b4b4 636.5px,#ababab 641.5px,#959595 650.5px,#767676 661.5px)"></i><i style="left:986px;top:68px;height:664px;background:linear-gradient(#525252 0.5px,#535353 321.5px,#585858 397.5px,#636363 443.5px,#767676 488.5px,#9c9c9c 557.5px,#acacac 598.5px,#b4b4b4 634.5px,#b3b3b3 647.5px,#9f9f9f 654.5px,#7e7e7e 663.5px)"></i><i style="left:988px;top:68px;height:665px;background:linear-gradient(#525252 0.5px,#535353 323.5px,#585858 398.5px,#646464 447.5px,#7b7b7b 499.5px,#9b9b9b 556.5px,#ababab 596.5px,#b4b4b4 635.5px,#b4b4b4 640.5px,#aaa 645.5px,#8f8f8f 655.5px,#727272 664.5px)"></i><i style="left:990px;top:68px;height:667px;background:linear-gradient(#525252 0.5px,#535353 324.5px,#585858 400.5px,#636363 446.5px,#767676 491.5px,#9c9c9c 560.5px,#acacac 601.5px,#b4b4b4 637.5px,#b4b4b4 642.5px,#a6a6a6 649.5px,#787878 666.5px)"></i><i style="left:992px;top:68px;height:669px;background:linear-gradient(#525252 0.5px,#535353 326.5px,#585858 402.5px,#636363 448.5px,#747474 488.5px,#9d9d9d 564.5px,#ababab 599.5px,#b4b4b4 638.5px,#b3b3b3 648.5px,#a1a1a1 656.5px,#7e7e7e 668.5px)"></i><i style="left:994px;top:68px;height:670px;background:linear-gradient(#525252 0.5px,#535353 327.5px,#585858 403.5px,#646464 452.5px,#7a7a7a 502.5px,#9c9c9c 563.5px,#acacac 604.5px,#b4b4b4 640.5px,#b4b4b4 645.5px,#ababab 651.5px,#838383 669.5px)"></i><i style="left:996px;top:68px;height:672px;background:linear-gradient(#525252 0.5px,#535353 329.5px,#585858 405.5px,#636363 451.5px,#767676 496.5px,#9c9c9c 565.5px,#acacac 606.5px,#b4b4b4 642.5px,#b4b4b4 651.5px,#b2b2b2 652.5px,#959595 661.5px,#6d6d6d 671.5px)"></i><i style="left:998px;top:68px;height:673px;background:linear-gradient(#525252 0.5px,#535353 331.5px,#585858 407.5px,#636363 453.5px,#747474 493.5px,#9d9d9d 569.5px,#ababab 604.5px,#b4b4b4 643.5px,#b4b4b4 649.5px,#acacac 654.5px,#828282 672.5px)"></i><i style="left:1000px;top:68px;height:675px;background:linear-gradient(#525252 0.5px,#535353 332.5px,#585858 408.5px,#646464 457.5px,#797979 505.5px,#9c9c9c 568.5px,#acacac 609.5px,#b4b4b4 645.5px,#b4b4b4 658.5px,#b2b2b2 659.5px,#9f9f9f 664.5px,#6c6c6c 674.5px)"></i><i style="left:1002px;top:68px;height:677px;background:linear-gradient(#525252 0.5px,#535353 334.5px,#585858 410.5px,#636363 456.5px,#777 503.5px,#9d9d9d 572.5px,#ababab 607.5px,#b4b4b4 646.5px,#b4b4b4 652.5px,#adadad 656.5px,#919191 665.5px,#686868 676.5px)"></i><i style="left:1004px;top:68px;height:678px;background:linear-gradient(#525252 0.5px,#535353 335.5px,#585858 411.5px,#646464 460.5px,#7b7b7b 512.5px,#9b9b9b 569.5px,#ababab 609.5px,#b4b4b4 648.5px,#b3b3b3 651.5px,#a2a2a2 660.5px,#777 677.5px)"></i><i style="left:1006px;top:68px;height:680px;background:linear-gradient(#525252 0.5px,#535353 337.5px,#585858 413.5px,#636363 459.5px,#767676 504.5px,#9c9c9c 573.5px,#acacac 614.5px,#b4b4b4 650.5px,#b0b0b0 654.5px,#a5a5a5 659.5px,#8b8b8b 669.5px,#6d6d6d 679.5px)"></i><i style="left:1008px;top:68px;height:682px;background:linear-gradient(#525252 0.5px,#535353 339.5px,#585858 415.5px,#636363 461.5px,#767676 506.5px,#9c9c9c 575.5px,#acacac 616.5px,#b4b4b4 652.5px,#b4b4b4 663.5px,#b1b1b1 665.5px,#a2a2a2 670.5px,#797979 681.5px)"></i><i style="left:1010px;top:68px;height:684px;background:linear-gradient(#525252 0.5px,#535353 341.5px,#585858 417.5px,#636363 463.5px,#767676 508.5px,#9c9c9c 577.5px,#acacac 618.5px,#b4b4b4 654.5px,#b4b4b4 670.5px,#b2b2b2 671.5px,#9d9d9d 676.5px,#787878 683.5px)"></i><i style="left:1012px;top:68px;height:686px;background:linear-gradient(#525252 0.5px,#535353 343.5px,#585858 419.5px,#636363 465.5px,#767676 510.5px,#9c9c9c 579.5px,#acacac 620.5px,#b4b4b4 656.5px,#a6a6a6 666.5px,#808080 685.5px)"></i><i style="left:1014px;top:68px;height:688px;background:linear-gradient(#525252 0.5px,#535353 345.5px,#585858 421.5px,#636363 467.5px,#767676 512.5px,#9c9c9c 581.5px,#acacac 622.5px,#b4b4b4 658.5px,#b4b4b4 665.5px,#aeaeae 669.5px,#919191 681.5px,#808080 687.5px)"></i><i style="left:1016px;top:68px;height:690px;background:linear-gradient(#515151 0.5px,#535353 347.5px,#585858 423.5px,#636363 469.5px,#767676 514.5px,#9c9c9c 583.5px,#acacac 624.5px,#b4b4b4 660.5px,#b4b4b4 676.5px,#9f9f9f 681.5px,#717171 689.5px)"></i><i style="left:1018px;top:68px;height:692px;background:linear-gradient(#515151 0.5px,#535353 349.5px,#585858 425.5px,#636363 471.5px,#767676 516.5px,#9c9c9c 585.5px,#acacac 626.5px,#b4b4b4 662.5px,#b4b4b4 675.5px,#a2a2a2 682.5px,#828282 691.5px)"></i><i style="left:1020px;top:68px;height:694px;background:linear-gradient(#515151 0.5px,#535353 351.5px,#585858 427.5px,#636363 473.5px,#767676 518.5px,#9c9c9c 587.5px,#acacac 628.5px,#b4b4b4 664.5px,#b3b3b3 679.5px,#9b9b9b 685.5px,#717171 693.5px)"></i><i style="left:1022px;top:68px;height:696px;background:linear-gradient(#515151 0.5px,#535353 353.5px,#585858 429.5px,#636363 475.5px,#767676 520.5px,#9c9c9c 589.5px,#acacac 630.5px,#b4b4b4 666.5px,#b3b3b3 674.5px,#a1a1a1 683.5px,#838383 695.5px)"></i><i style="left:1024px;top:68px;height:698px;background:linear-gradient(#515151 0.5px,#535353 355.5px,#585858 431.5px,#636363 477.5px,#767676 522.5px,#9c9c9c 591.5px,#acacac 632.5px,#b4b4b4 668.5px,#b4b4b4 681.5px,#b2b2b2 682.5px,#a2a2a2 686.5px,#848484 692.5px,#676767 697.5px)"></i><i style="left:1026px;top:68px;height:700px;background:linear-gradient(#515151 0.5px,#535353 357.5px,#585858 433.5px,#636363 479.5px,#767676 524.5px,#9c9c9c 593.5px,#acacac 634.5px,#b4b4b4 670.5px,#b3b3b3 684.5px,#999 691.5px,#737373 699.5px)"></i><i style="left:1028px;top:68px;height:702px;background:linear-gradient(#515151 0.5px,#535353 359.5px,#585858 435.5px,#636363 481.5px,#767676 526.5px,#9c9c9c 595.5px,#acacac 636.5px,#b4b4b4 672.5px,#b4b4b4 682.5px,#b2b2b2 683.5px,#939393 692.5px,#6c6c6c 701.5px)"></i><i style="left:1030px;top:68px;height:704px;background:linear-gradient(#515151 0.5px,#535353 361.5px,#585858 437.5px,#636363 483.5px,#767676 528.5px,#9c9c9c 597.5px,#acacac 638.5px,#b4b4b4 674.5px,#b4b4b4 680.5px,#afafaf 683.5px,#949494 692.5px,#6c6c6c 703.5px)"></i><i style="left:1032px;top:68px;height:706px;background:linear-gradient(#515151 0.5px,#535353 363.5px,#585858 439.5px,#636363 485.5px,#767676 530.5px,#9c9c9c 599.5px,#acacac 640.5px,#b4b4b4 676.5px,#b4b4b4 684.5px,#a3a3a3 692.5px,#7e7e7e 705.5px)"></i><i style="left:1034px;top:68px;height:708px;background:linear-gradient(#515151 0.5px,#535353 365.5px,#585858 441.5px,#636363 487.5px,#767676 532.5px,#9c9c9c 601.5px,#acacac 642.5px,#b4b4b4 678.5px,#b4b4b4 692.5px,#a4a4a4 698.5px,#818181 707.5px)"></i><i style="left:1036px;top:68px;height:710px;background:linear-gradient(#515151 0.5px,#535353 367.5px,#585858 443.5px,#636363 489.5px,#767676 534.5px,#9c9c9c 603.5px,#acacac 644.5px,#b4b4b4 680.5px,#b4b4b4 683.5px,#a9a9a9 690.5px,#808080 709.5px)"></i><i style="left:1038px;top:68px;height:712px;background:linear-gradient(#515151 0.5px,#535353 369.5px,#585858 445.5px,#636363 491.5px,#767676 536.5px,#9c9c9c 605.5px,#acacac 646.5px,#b4b4b4 682.5px,#b4b4b4 699.5px,#ababab 701.5px,#999 704.5px,#686868 711.5px)"></i><i style="left:1040px;top:68px;height:714px;background:linear-gradient(#515151 0.5px,#535353 371.5px,#585858 447.5px,#636363 493.5px,#767676 538.5px,#9d9d9d 609.5px,#ababab 644.5px,#b4b4b4 683.5px,#b3b3b3 698.5px,#9f9f9f 703.5px,#686868 713.5px)"></i><i style="left:1042px;top:68px;height:716px;background:linear-gradient(#515151 0.5px,#535353 373.5px,#585858 449.5px,#636363 495.5px,#747474 535.5px,#9d9d9d 611.5px,#ababab 646.5px,#b4b4b4 685.5px,#b3b3b3 702.5px,#9a9a9a 708.5px,#747474 715.5px)"></i><i style="left:1044px;top:68px;height:717px;background:linear-gradient(#515151 0.5px,#535353 375.5px,#585858 451.5px,#636363 497.5px,#7b7b7b 551.5px,#9b9b9b 608.5px,#ababab 648.5px,#b4b4b4 687.5px,#b4b4b4 701.5px,#aaa 704.5px,#989898 708.5px,#6e6e6e 716.5px)"></i><i style="left:1046px;top:68px;height:719px;background:linear-gradient(#515151 0.5px,#535353 376.5px,#585858 452.5px,#646464 501.5px,#7b7b7b 553.5px,#9b9b9b 610.5px,#acacac 653.5px,#b4b4b4 689.5px,#b4b4b4 696.5px,#b0b0b0 698.5px,#979797 707.5px,#727272 718.5px)"></i><i style="left:1048px;top:68px;height:721px;background:linear-gradient(#515151 0.5px,#535353 378.5px,#585858 454.5px,#646464 503.5px,#7a7a7a 553.5px,#9c9c9c 614.5px,#acacac 655.5px,#b4b4b4 691.5px,#b4b4b4 695.5px,#acacac 699.5px,#898989 711.5px,#6a6a6a 720.5px)"></i><i style="left:1050px;top:68px;height:723px;background:linear-gradient(#515151 0.5px,#535353 380.5px,#585858 456.5px,#646464 505.5px,#797979 553.5px,#9c9c9c 616.5px,#acacac 657.5px,#b4b4b4 693.5px,#b3b3b3 705.5px,#9c9c9c 712.5px,#727272 722.5px)"></i><i style="left:1052px;top:68px;height:725px;background:linear-gradient(#515151 0.5px,#535353 382.5px,#585858 458.5px,#636363 504.5px,#767676 549.5px,#9c9c9c 618.5px,#acacac 659.5px,#b4b4b4 695.5px,#b3b3b3 705.5px,#9e9e9e 714.5px,#808080 724.5px)"></i><i style="left:1054px;top:68px;height:727px;background:linear-gradient(#515151 0.5px,#535353 384.5px,#585858 460.5px,#636363 506.5px,#767676 551.5px,#9d9d9d 622.5px,#ababab 657.5px,#b4b4b4 696.5px,#b3b3b3 700.5px,#a5a5a5 707.5px,#8e8e8e 716.5px,#717171 726.5px)"></i><i style="left:1056px;top:68px;height:729px;background:linear-gradient(#515151 0.5px,#535353 386.5px,#585858 462.5px,#636363 508.5px,#747474 548.5px,#9d9d9d 624.5px,#ababab 659.5px,#b4b4b4 698.5px,#b4b4b4 701.5px,#afafaf 705.5px,#999 716.5px,#7c7c7c 728.5px)"></i><i style="left:1058px;top:68px;height:730px;background:linear-gradient(#515151 0.5px,#535353 388.5px,#585858 463.5px,#636363 510.5px,#7b7b7b 564.5px,#9b9b9b 621.5px,#ababab 661.5px,#b4b4b4 700.5px,#b4b4b4 708.5px,#b1b1b1 710.5px,#8f8f8f 722.5px,#777 729.5px)"></i><i style="left:1060px;top:68px;height:732px;background:linear-gradient(#515151 0.5px,#535353 389.5px,#585858 465.5px,#646464 514.5px,#7a7a7a 564.5px,#9c9c9c 625.5px,#acacac 666.5px,#b4b4b4 702.5px,#b4b4b4 707.5px,#acacac 712.5px,#959595 723.5px,#818181 731.5px)"></i><i style="left:1062px;top:68px;height:734px;background:linear-gradient(#515151 0.5px,#535353 391.5px,#585858 467.5px,#646464 516.5px,#797979 564.5px,#9c9c9c 627.5px,#acacac 668.5px,#b4b4b4 704.5px,#b3b3b3 716.5px,#a1a1a1 722.5px,#767676 733.5px)"></i><i style="left:1064px;top:68px;height:736px;background:linear-gradient(#515151 0.5px,#535353 393.5px,#585858 469.5px,#636363 515.5px,#767676 560.5px,#9c9c9c 629.5px,#acacac 670.5px,#b4b4b4 706.5px,#b4b4b4 722.5px,#a5a5a5 726.5px,#747474 735.5px)"></i><i style="left:1066px;top:68px;height:738px;background:linear-gradient(#515151 0.5px,#535353 395.5px,#585858 471.5px,#636363 517.5px,#767676 562.5px,#9d9d9d 633.5px,#ababab 668.5px,#b4b4b4 707.5px,#b4b4b4 712.5px,#a9a9a9 718.5px,#909090 728.5px,#767676 737.5px)"></i><i style="left:1068px;top:68px;height:740px;background:linear-gradient(#515151 0.5px,#535353 397.5px,#585858 473.5px,#636363 519.5px,#747474 559.5px,#9d9d9d 635.5px,#ababab 670.5px,#b4b4b4 709.5px,#b4b4b4 715.5px,#adadad 719.5px,#8e8e8e 730.5px,#707070 739.5px)"></i><i style="left:1070px;top:68px;height:741px;background:linear-gradient(#515151 0.5px,#535353 398.5px,#585858 474.5px,#636363 520.5px,#767676 565.5px,#9c9c9c 634.5px,#acacac 675.5px,#b4b4b4 711.5px,#b3b3b3 725.5px,#a7a7a7 729.5px,#797979 740.5px)"></i><i style="left:1072px;top:68px;height:742px;background:linear-gradient(#515151 0.5px,#535353 399.5px,#585858 475.5px,#646464 524.5px,#7a7a7a 574.5px,#9c9c9c 635.5px,#acacac 676.5px,#b3b3b3 707.5px,#b3b3b3 713.5px,#adadad 717.5px,#919191 731.5px,#7a7a7a 741.5px)"></i><i style="left:1074px;top:68px;height:742px;background:linear-gradient(#515151 0.5px,#535353 401.5px,#585858 477.5px,#636363 523.5px,#767676 568.5px,#9c9c9c 637.5px,#acacac 678.5px,#b4b4b4 714.5px,#b4b4b4 723.5px,#b2b2b2 725.5px,#a4a4a4 731.5px,#878787 741.5px)"></i><i style="left:1076px;top:68px;height:742px;background:linear-gradient(#515151 0.5px,#535353 403.5px,#585858 479.5px,#636363 525.5px,#7b7b7b 579.5px,#9b9b9b 636.5px,#ababab 676.5px,#b4b4b4 715.5px,#b4b4b4 729.5px,#adadad 732.5px,#8d8d8d 741.5px)"></i><i style="left:1078px;top:68px;height:742px;background:linear-gradient(#515151 0.5px,#535353 404.5px,#585858 480.5px,#646464 529.5px,#797979 577.5px,#9c9c9c 640.5px,#acacac 681.5px,#b4b4b4 717.5px,#b1b1b1 720.5px,#a9a9a9 724.5px,#939393 733.5px,#7c7c7c 741.5px)"></i><i style="left:1080px;top:68px;height:742px;background:linear-gradient(#515151 0.5px,#535353 406.5px,#585858 482.5px,#636363 528.5px,#777 575.5px,#9d9d9d 644.5px,#ababab 679.5px,#b4b4b4 718.5px,#b3b3b3 721.5px,#ababab 725.5px,#9e9e9e 730.5px,#7c7c7c 741.5px)"></i><i style="left:1082px;top:68px;height:742px;background:linear-gradient(#515151 0.5px,#535353 407.5px,#585858 483.5px,#646464 532.5px,#7b7b7b 584.5px,#9b9b9b 641.5px,#acacac 684.5px,#b4b4b4 720.5px,#b4b4b4 727.5px,#b2b2b2 728.5px,#a1a1a1 734.5px,#888 741.5px)"></i><i style="left:1084px;top:68px;height:742px;background:linear-gradient(#515151 0.5px,#535353 409.5px,#575757 475.5px,#656565 536.5px,#787878 580.5px,#9c9c9c 645.5px,#acacac 686.5px,#b4b4b4 730.5px,#a9a9a9 735.5px,#979797 741.5px)"></i>
<svg width="0" height="0" style="position:absolute"><filter id="n" x="0" y="0" width="100%" height="100%" color-interpolation-filters="sRGB"><feTurbulence type="fractalNoise" baseFrequency="0.42" numOctaves="3" seed="7"/><feColorMatrix type="matrix" values="0.24 0 0 0 0.38 0.24 0 0 0 0.38 0.24 0 0 0 0.38 0 0 0 0 1"/></filter></svg>
<div style="position:absolute;left:157px;top:68px;width:929px;height:742px;background:#808080;filter:url(#n);mix-blend-mode:overlay"></div>
<svg width="1200" height="900" viewBox="0 0 1200 900">
<polyline points="157.0,141.3 165.0,135.0 175.0,120.0 185.0,106.3 195.0,95.0 205.0,87.0 215.0,83.8 225.0,83.3 235.0,86.3 245.0,91.3 255.0,97.5 265.0,103.0 275.0,108.8 284.0,113.5 287.0,120.0 300.0,123.8 312.5,128.8 325.0,135.0 337.5,143.8 350.0,155.0 362.5,167.5 375.0,181.3 387.5,196.3 400.0,213.8 412.5,232.5 425.0,251.3 432.5,265.0 445.0,285.0 457.5,305.0 470.0,321.3 482.5,337.5 495.0,353.8 507.5,370.0 513.7,380.0 526.7,395.2 537.5,403.8 545.0,406.5 552.7,405.5 570.0,415.8 580.8,425.5 591.7,434.2 598.2,445.0 604.7,454.8 617.7,464.5 635.0,470.0 652.4,474.5 660.0,480.0 670.0,486.0 680.0,491.5 688.0,497.5 693.0,503.0" fill="none" stroke="#2ae02a" stroke-opacity="1" stroke-width="1.3" stroke-dasharray="7 2.5"/>
<polyline points="693.0,504.0 700.0,514.0 714.0,518.0 718.0,528.0 726.0,544.0 736.0,566.0 746.0,588.0 756.0,602.0 766.0,610.0 775.0,614.0 784.0,604.0 796.0,593.0 806.0,585.0 816.0,588.0 830.0,600.0 846.0,608.0" fill="none" stroke="#2ae02a" stroke-opacity="0.8" stroke-width="1.1" stroke-dasharray="7 2.5"/>
<polyline points="846.0,608.4 863.9,619.1 887.8,638.2 906.9,651.3 923.6,664.5 935.5,680.0 943.0,691.0 947.0,689.0 959.4,700.3 969.0,717.0 976.0,723.0 988.0,725.4 995.8,724.2 1007.1,738.5 1019.0,752.8 1031.0,769.5 1043.0,783.9 1054.9,792.2 1066.8,796.3 1078.8,798.2 1086.0,798.2" fill="none" stroke="#2ae02a" stroke-opacity="0.75" stroke-width="1.1" stroke-dasharray="7 2.5"/>
<rect x="156.5" y="67.5" width="930.0" height="743.0" fill="none" stroke="#262626" stroke-width="1"/>
<path d="M156.5,118.5h8.5M1086.5,118.5h-8.5M156.5,199.5h8.5M1086.5,199.5h-8.5M156.5,280.5h8.5M1086.5,280.5h-8.5M156.5,362.5h8.5M1086.5,362.5h-8.5M156.5,443.5h8.5M1086.5,443.5h-8.5M156.5,524.5h8.5M1086.5,524.5h-8.5M156.5,605.5h8.5M1086.5,605.5h-8.5M156.5,687.5h8.5M1086.5,687.5h-8.5M156.5,768.5h8.5M1086.5,768.5h-8.5M156.5,810.5v-8.5M156.5,67.5v8.5M342.5,810.5v-8.5M342.5,67.5v8.5M528.5,810.5v-8.5M528.5,67.5v8.5M714.5,810.5v-8.5M714.5,67.5v8.5M900.5,810.5v-8.5M900.5,67.5v8.5M1086.5,810.5v-8.5M1086.5,67.5v8.5" stroke="#262626" stroke-width="1" fill="none"/>
<text x="147.3" y="126.0" font-size="21" fill="#262626" text-anchor="end">680</text>
<text x="147.3" y="207.2" font-size="21" fill="#262626" text-anchor="end">660</text>
<text x="147.3" y="288.5" font-size="21" fill="#262626" text-anchor="end">640</text>
<text x="147.3" y="369.8" font-size="21" fill="#262626" text-anchor="end">620</text>
<text x="147.3" y="451.0" font-size="21" fill="#262626" text-anchor="end">600</text>
<text x="147.3" y="532.2" font-size="21" fill="#262626" text-anchor="end">580</text>
<text x="147.3" y="613.5" font-size="21" fill="#262626" text-anchor="end">560</text>
<text x="147.3" y="694.8" font-size="21" fill="#262626" text-anchor="end">540</text>
<text x="147.3" y="776.0" font-size="21" fill="#262626" text-anchor="end">520</text>
<text x="1094" y="133.0" font-size="21" fill="#262626">4.4</text>
<text x="1094" y="254.6" font-size="21" fill="#262626">4.6</text>
<text x="1094" y="376.1" font-size="21" fill="#262626">4.8</text>
<text x="1094" y="497.7" font-size="21" fill="#262626">5</text>
<text x="1094" y="619.2" font-size="21" fill="#262626">5.2</text>
<text x="1094" y="740.8" font-size="21" fill="#262626">5.4</text>
<text x="156.5" y="825.2" font-size="16.6" letter-spacing=".3" font-weight="bold" fill="#000" text-anchor="middle">0.00 km</text>
<text x="156.5" y="846.6" font-size="16.6" letter-spacing=".3" font-weight="bold" fill="#000" text-anchor="middle">76.799 N</text>
<text x="156.5" y="867.6" font-size="16.6" letter-spacing=".3" font-weight="bold" fill="#000" text-anchor="middle">68.956 W</text>
<text x="342.5" y="825.2" font-size="16.6" letter-spacing=".3" font-weight="bold" fill="#000" text-anchor="middle">1.00 km</text>
<text x="342.5" y="846.6" font-size="16.6" letter-spacing=".3" font-weight="bold" fill="#000" text-anchor="middle">76.791 N</text>
<text x="342.5" y="867.6" font-size="16.6" letter-spacing=".3" font-weight="bold" fill="#000" text-anchor="middle">68.969 W</text>
<text x="528.5" y="825.2" font-size="16.6" letter-spacing=".3" font-weight="bold" fill="#000" text-anchor="middle">2.00 km</text>
<text x="528.5" y="846.6" font-size="16.6" letter-spacing=".3" font-weight="bold" fill="#000" text-anchor="middle">76.782 N</text>
<text x="528.5" y="867.6" font-size="16.6" letter-spacing=".3" font-weight="bold" fill="#000" text-anchor="middle">68.983 W</text>
<text x="714.5" y="825.2" font-size="16.6" letter-spacing=".3" font-weight="bold" fill="#000" text-anchor="middle">3.00 km</text>
<text x="714.5" y="846.6" font-size="16.6" letter-spacing=".3" font-weight="bold" fill="#000" text-anchor="middle">76.774 N</text>
<text x="714.5" y="867.6" font-size="16.6" letter-spacing=".3" font-weight="bold" fill="#000" text-anchor="middle">68.996 W</text>
<text x="900.5" y="825.2" font-size="16.6" letter-spacing=".3" font-weight="bold" fill="#000" text-anchor="middle">4.00 km</text>
<text x="900.5" y="846.6" font-size="16.6" letter-spacing=".3" font-weight="bold" fill="#000" text-anchor="middle">76.765 N</text>
<text x="900.5" y="867.6" font-size="16.6" letter-spacing=".3" font-weight="bold" fill="#000" text-anchor="middle">69.009 W</text>
<text x="1086.5" y="825.2" font-size="16.6" letter-spacing=".3" font-weight="bold" fill="#000" text-anchor="middle">5.00 km</text>
<text x="1086.5" y="846.6" font-size="16.6" letter-spacing=".3" font-weight="bold" fill="#000" text-anchor="middle">76.757 N</text>
<text x="1086.5" y="867.6" font-size="16.6" letter-spacing=".3" font-weight="bold" fill="#000" text-anchor="middle">69.021 W</text>
<text x="621" y="825.2" font-size="16.6" letter-spacing=".3" font-weight="bold" fill="#000" text-anchor="middle">dist</text>
<text x="621" y="846.6" font-size="16.6" letter-spacing=".3" font-weight="bold" fill="#000" text-anchor="middle">lat</text>
<text x="621" y="867.6" font-size="16.6" letter-spacing=".3" font-weight="bold" fill="#000" text-anchor="middle">lon</text>
<text x="621" y="59.5" font-size="19.05" fill="#000" text-anchor="middle" xml:space="preserve">snow 2018_Greenland_P3: "Sea Ice: Zig Zag East"  20180322_04_003: 18:22:58.4 to 18:23:41.5 GPS</text>
<text transform="translate(84.4,439) rotate(-90)" font-size="23.1" fill="#262626" text-anchor="middle">WGS-84 Elevation, e<tspan font-size="16" dy="10.5">r</tspan><tspan dy="-10.5"> = 1.53 (m)</tspan></text>
<text transform="translate(1157.3,438) rotate(-90)" font-size="23.1" fill="#262626" text-anchor="middle">Propagation delay (us)</text>
</svg></div></body></html>
